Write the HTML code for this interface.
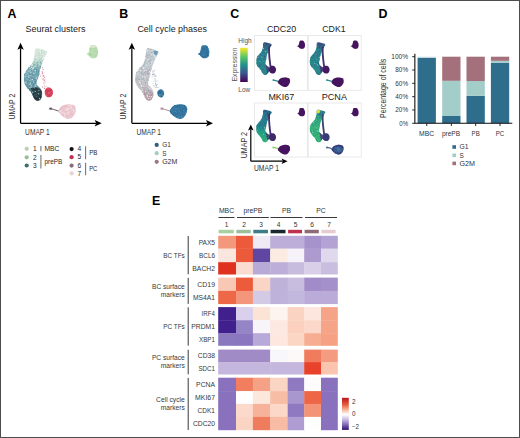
<!DOCTYPE html>
<html><head><meta charset="utf-8"><style>
html,body{margin:0;padding:0;background:#fff;}
body{width:520px;height:438px;overflow:hidden;font-family:"Liberation Sans",sans-serif;}
svg{display:block;}
</style></head><body>
<svg width="520" height="438" viewBox="0 0 520 438" font-family="'Liberation Sans', sans-serif"><text x="7.50" y="17.70" font-size="12.4" fill="#000" text-anchor="start" font-weight="bold">A</text>
<text x="119.20" y="17.70" font-size="12.4" fill="#000" text-anchor="start" font-weight="bold">B</text>
<text x="230.30" y="17.60" font-size="12.4" fill="#000" text-anchor="start" font-weight="bold">C</text>
<text x="378.50" y="17.80" font-size="12.4" fill="#000" text-anchor="start" font-weight="bold">D</text>
<text x="151.90" y="204.80" font-size="12.4" fill="#000" text-anchor="start" font-weight="bold">E</text>
<g transform="translate(0 0)"><defs><linearGradient id="gA" x1="0" y1="48" x2="0" y2="101" gradientUnits="userSpaceOnUse"><stop offset="0" stop-color="#dbe8de"/><stop offset="0.18" stop-color="#cde0d5"/><stop offset="0.3" stop-color="#a8cbc2"/><stop offset="0.42" stop-color="#76a8b1"/><stop offset="0.6" stop-color="#6a9daa"/><stop offset="0.72" stop-color="#6598a4"/><stop offset="0.8" stop-color="#537e88"/><stop offset="0.9" stop-color="#4a6a71"/><stop offset="1" stop-color="#3f5a60"/></linearGradient></defs><path d="M36.20 48.30 C38.23 47.68 45.30 50.02 46.80 51.30 C48.30 52.58 45.75 54.55 45.20 56.00 C44.65 57.45 44.12 58.50 43.50 60.00 C42.88 61.50 42.12 63.33 41.50 65.00 C40.88 66.67 40.18 68.42 39.80 70.00 C39.42 71.58 39.52 73.08 39.20 74.50 C38.88 75.92 38.33 77.25 37.90 78.50 C37.47 79.75 36.68 80.83 36.60 82.00 C36.52 83.17 36.80 84.47 37.40 85.50 C38.00 86.53 39.42 87.12 40.20 88.20 C40.98 89.28 41.83 90.62 42.10 92.00 C42.37 93.38 42.23 95.13 41.80 96.50 C41.37 97.87 40.38 99.55 39.50 100.20 C38.62 100.85 37.42 100.77 36.50 100.40 C35.58 100.03 34.75 99.07 34.00 98.00 C33.25 96.93 32.70 95.23 32.00 94.00 C31.30 92.77 30.70 91.73 29.80 90.60 C28.90 89.47 27.48 88.38 26.60 87.20 C25.72 86.02 24.95 85.03 24.50 83.50 C24.05 81.97 23.85 79.75 23.90 78.00 C23.95 76.25 24.22 74.50 24.80 73.00 C25.38 71.50 26.40 70.25 27.40 69.00 C28.40 67.75 29.83 66.83 30.80 65.50 C31.77 64.17 32.57 62.75 33.20 61.00 C33.83 59.25 34.10 57.12 34.60 55.00 C35.10 52.88 34.17 48.92 36.20 48.30Z" fill="url(#gA)"/><path d="M31.50 88.00 C32.03 87.08 33.83 87.00 35.00 87.00 C36.17 87.00 37.47 87.42 38.50 88.00 C39.53 88.58 40.62 89.42 41.20 90.50 C41.78 91.58 42.03 93.17 42.00 94.50 C41.97 95.83 41.58 97.50 41.00 98.50 C40.42 99.50 39.42 100.20 38.50 100.50 C37.58 100.80 36.38 100.88 35.50 100.30 C34.62 99.72 33.82 98.30 33.20 97.00 C32.58 95.70 32.08 94.00 31.80 92.50 C31.52 91.00 30.97 88.92 31.50 88.00Z" fill="#1c2e33" fill-opacity="0.72"/><path d="M47.60 87.60 C48.47 87.37 49.77 87.45 50.60 87.90 C51.43 88.35 52.22 89.35 52.60 90.30 C52.98 91.25 53.10 92.55 52.90 93.60 C52.70 94.65 52.12 95.98 51.40 96.60 C50.68 97.22 49.52 97.40 48.60 97.30 C47.68 97.20 46.55 96.78 45.90 96.00 C45.25 95.22 44.78 93.72 44.70 92.60 C44.62 91.48 44.92 90.13 45.40 89.30 C45.88 88.47 46.73 87.83 47.60 87.60Z" fill="#d4405a"/><path d="M61.50 106.20 C62.37 105.57 63.72 105.13 64.80 104.80 C65.88 104.47 66.83 104.23 68.00 104.20 C69.17 104.17 70.67 104.30 71.80 104.60 C72.93 104.90 74.13 105.27 74.80 106.00 C75.47 106.73 75.70 107.92 75.80 109.00 C75.90 110.08 75.73 111.37 75.40 112.50 C75.07 113.63 74.53 114.78 73.80 115.80 C73.07 116.82 72.05 118.10 71.00 118.60 C69.95 119.10 68.67 119.02 67.50 118.80 C66.33 118.58 65.08 117.93 64.00 117.30 C62.92 116.67 61.93 115.98 61.00 115.00 C60.07 114.02 58.63 112.47 58.40 111.40 C58.17 110.33 59.08 109.47 59.60 108.60 C60.12 107.73 60.63 106.83 61.50 106.20Z" fill="#ecc8d0"/><path d="M90.50 45.80 C91.03 45.38 92.12 45.30 93.00 45.30 C93.88 45.30 95.17 45.42 95.80 45.80 C96.43 46.18 96.47 46.90 96.80 47.60 C97.13 48.30 97.60 49.02 97.80 50.00 C98.00 50.98 98.10 52.42 98.00 53.50 C97.90 54.58 97.70 55.73 97.20 56.50 C96.70 57.27 95.87 57.82 95.00 58.10 C94.13 58.38 92.83 58.38 92.00 58.20 C91.17 58.02 90.58 57.50 90.00 57.00 C89.42 56.50 89.07 55.70 88.50 55.20 C87.93 54.70 86.58 54.43 86.60 54.00 C86.62 53.57 88.13 53.27 88.60 52.60 C89.07 51.93 89.20 50.80 89.40 50.00 C89.60 49.20 89.62 48.50 89.80 47.80 C89.98 47.10 89.97 46.22 90.50 45.80Z" fill="#b7dcae"/><path d="M50.2 108.6 L53.5 109.4 L58.5 111" stroke="#6b5c63" stroke-width="1.0" fill="none"/><ellipse cx="50.6" cy="108.7" rx="1.6" ry="1.1" fill="#6b5c63"/><path d="M42.2 71 Q43.6 79 44.8 87.5" stroke="#e0a0b0" stroke-width="0.8" fill="none" stroke-dasharray="0.9 0.9"/><circle cx="42.1" cy="79.1" r="0.5" fill="#c03a55" fill-opacity="0.8"/><circle cx="44.2" cy="80.5" r="0.5" fill="#f0c8d0" fill-opacity="0.8"/><circle cx="42.2" cy="71.6" r="0.5" fill="#f0c8d0" fill-opacity="0.8"/><circle cx="44.0" cy="79.2" r="0.5" fill="#f0c8d0" fill-opacity="0.8"/><circle cx="44.5" cy="86.8" r="0.5" fill="#f0c8d0" fill-opacity="0.8"/><circle cx="45.2" cy="82.1" r="0.5" fill="#d86a80" fill-opacity="0.8"/><circle cx="44.3" cy="88.1" r="0.5" fill="#f0c8d0" fill-opacity="0.8"/><circle cx="45.0" cy="88.1" r="0.5" fill="#f0c8d0" fill-opacity="0.8"/><circle cx="45.1" cy="79.8" r="0.5" fill="#eab0bc" fill-opacity="0.8"/><circle cx="41.4" cy="71.2" r="0.5" fill="#f0c8d0" fill-opacity="0.8"/><circle cx="45.4" cy="86.5" r="0.5" fill="#f0c8d0" fill-opacity="0.8"/><circle cx="43.7" cy="75.3" r="0.5" fill="#c03a55" fill-opacity="0.8"/><circle cx="43.9" cy="75.8" r="0.5" fill="#eab0bc" fill-opacity="0.8"/><circle cx="46.4" cy="86.6" r="0.5" fill="#eab0bc" fill-opacity="0.8"/><circle cx="44.0" cy="79.7" r="0.5" fill="#d86a80" fill-opacity="0.8"/><circle cx="42.4" cy="67.5" r="0.5" fill="#f0c8d0" fill-opacity="0.8"/><circle cx="43.1" cy="69.6" r="0.5" fill="#c03a55" fill-opacity="0.8"/><circle cx="43.2" cy="76.0" r="0.5" fill="#d86a80" fill-opacity="0.8"/><circle cx="42.7" cy="87.1" r="0.5" fill="#c03a55" fill-opacity="0.8"/><circle cx="42.5" cy="67.8" r="0.5" fill="#d86a80" fill-opacity="0.8"/><circle cx="42.4" cy="72.3" r="0.5" fill="#d86a80" fill-opacity="0.8"/><circle cx="42.8" cy="69.3" r="0.5" fill="#f0c8d0" fill-opacity="0.8"/><circle cx="42.9" cy="86.9" r="0.5" fill="#f0c8d0" fill-opacity="0.8"/><circle cx="44.6" cy="80.3" r="0.5" fill="#d86a80" fill-opacity="0.8"/><circle cx="44.4" cy="88.6" r="0.5" fill="#c03a55" fill-opacity="0.8"/><circle cx="43.3" cy="83.3" r="0.5" fill="#eab0bc" fill-opacity="0.8"/><circle cx="42.2" cy="73.3" r="0.5" fill="#c03a55" fill-opacity="0.8"/><circle cx="40.7" cy="76.0" r="0.5" fill="#c03a55" fill-opacity="0.8"/><circle cx="44.5" cy="77.2" r="0.5" fill="#c03a55" fill-opacity="0.8"/><circle cx="44.4" cy="72.7" r="0.5" fill="#f0c8d0" fill-opacity="0.8"/><circle cx="39.4" cy="98.5" r="0.5" fill="#15262b" fill-opacity="0.85"/><circle cx="29.7" cy="72.1" r="0.5" fill="#ffffff" fill-opacity="0.85"/><circle cx="37.5" cy="65.0" r="0.5" fill="#45869a" fill-opacity="0.85"/><circle cx="32.2" cy="64.6" r="0.5" fill="#ffffff" fill-opacity="0.85"/><circle cx="32.4" cy="79.3" r="0.5" fill="#45869a" fill-opacity="0.85"/><circle cx="30.8" cy="68.0" r="0.5" fill="#45869a" fill-opacity="0.85"/><circle cx="36.9" cy="86.6" r="0.5" fill="#ffffff" fill-opacity="0.85"/><circle cx="42.3" cy="60.7" r="0.5" fill="#b8d3c6" fill-opacity="0.85"/><circle cx="28.2" cy="71.0" r="0.5" fill="#ffffff" fill-opacity="0.85"/><circle cx="39.9" cy="53.6" r="0.5" fill="#b8d3c6" fill-opacity="0.85"/><circle cx="31.3" cy="65.7" r="0.5" fill="#ffffff" fill-opacity="0.85"/><circle cx="43.5" cy="57.1" r="0.5" fill="#ffffff" fill-opacity="0.85"/><circle cx="31.6" cy="82.2" r="0.5" fill="#45869a" fill-opacity="0.85"/><circle cx="36.0" cy="58.2" r="0.5" fill="#eaf2ec" fill-opacity="0.85"/><circle cx="42.1" cy="62.4" r="0.5" fill="#ffffff" fill-opacity="0.85"/><circle cx="31.8" cy="70.0" r="0.5" fill="#ffffff" fill-opacity="0.85"/><circle cx="33.5" cy="69.6" r="0.5" fill="#45869a" fill-opacity="0.85"/><circle cx="45.0" cy="56.4" r="0.5" fill="#eaf2ec" fill-opacity="0.85"/><circle cx="41.0" cy="91.9" r="0.5" fill="#15262b" fill-opacity="0.85"/><circle cx="30.5" cy="66.1" r="0.5" fill="#45869a" fill-opacity="0.85"/><circle cx="37.4" cy="63.3" r="0.5" fill="#9cc8d2" fill-opacity="0.85"/><circle cx="42.5" cy="50.6" r="0.5" fill="#ffffff" fill-opacity="0.85"/><circle cx="37.9" cy="66.1" r="0.5" fill="#9cc8d2" fill-opacity="0.85"/><circle cx="34.8" cy="89.1" r="0.5" fill="#15262b" fill-opacity="0.85"/><circle cx="36.1" cy="90.9" r="0.5" fill="#15262b" fill-opacity="0.85"/><circle cx="38.3" cy="93.2" r="0.5" fill="#ffffff" fill-opacity="0.85"/><circle cx="30.1" cy="75.8" r="0.5" fill="#ffffff" fill-opacity="0.85"/><circle cx="33.6" cy="72.9" r="0.5" fill="#9cc8d2" fill-opacity="0.85"/><circle cx="25.9" cy="74.5" r="0.5" fill="#ffffff" fill-opacity="0.85"/><circle cx="31.9" cy="82.0" r="0.5" fill="#45869a" fill-opacity="0.85"/><circle cx="37.3" cy="67.1" r="0.5" fill="#45869a" fill-opacity="0.85"/><circle cx="26.7" cy="77.2" r="0.5" fill="#45869a" fill-opacity="0.85"/><circle cx="40.3" cy="68.1" r="0.5" fill="#45869a" fill-opacity="0.85"/><circle cx="32.4" cy="79.8" r="0.5" fill="#ffffff" fill-opacity="0.85"/><circle cx="33.8" cy="67.7" r="0.5" fill="#ffffff" fill-opacity="0.85"/><circle cx="35.3" cy="84.9" r="0.5" fill="#ffffff" fill-opacity="0.85"/><circle cx="33.5" cy="84.5" r="0.5" fill="#45869a" fill-opacity="0.85"/><circle cx="34.5" cy="61.1" r="0.5" fill="#b8d3c6" fill-opacity="0.85"/><circle cx="36.2" cy="84.5" r="0.5" fill="#ffffff" fill-opacity="0.85"/><circle cx="33.7" cy="94.1" r="0.5" fill="#15262b" fill-opacity="0.85"/><circle cx="29.9" cy="72.5" r="0.5" fill="#45869a" fill-opacity="0.85"/><circle cx="39.1" cy="94.5" r="0.5" fill="#15262b" fill-opacity="0.85"/><circle cx="26.3" cy="78.9" r="0.5" fill="#9cc8d2" fill-opacity="0.85"/><circle cx="41.6" cy="50.6" r="0.5" fill="#b8d3c6" fill-opacity="0.85"/><circle cx="44.1" cy="57.6" r="0.5" fill="#ffffff" fill-opacity="0.85"/><circle cx="39.3" cy="91.9" r="0.5" fill="#15262b" fill-opacity="0.85"/><circle cx="42.2" cy="50.2" r="0.5" fill="#b8d3c6" fill-opacity="0.85"/><circle cx="40.3" cy="53.9" r="0.5" fill="#eaf2ec" fill-opacity="0.85"/><circle cx="41.1" cy="97.0" r="0.5" fill="#15262b" fill-opacity="0.85"/><circle cx="36.8" cy="91.4" r="0.5" fill="#15262b" fill-opacity="0.85"/><circle cx="29.6" cy="80.4" r="0.5" fill="#9cc8d2" fill-opacity="0.85"/><circle cx="32.3" cy="69.0" r="0.5" fill="#ffffff" fill-opacity="0.85"/><circle cx="31.9" cy="70.1" r="0.5" fill="#45869a" fill-opacity="0.85"/><circle cx="25.8" cy="74.4" r="0.5" fill="#9cc8d2" fill-opacity="0.85"/><circle cx="41.0" cy="56.7" r="0.5" fill="#ffffff" fill-opacity="0.85"/><circle cx="35.0" cy="81.8" r="0.5" fill="#45869a" fill-opacity="0.85"/><circle cx="44.5" cy="56.1" r="0.5" fill="#ffffff" fill-opacity="0.85"/><circle cx="34.0" cy="85.8" r="0.5" fill="#45869a" fill-opacity="0.85"/><circle cx="28.5" cy="78.8" r="0.5" fill="#9cc8d2" fill-opacity="0.85"/><circle cx="39.7" cy="98.0" r="0.5" fill="#15262b" fill-opacity="0.85"/><circle cx="30.7" cy="85.0" r="0.5" fill="#9cc8d2" fill-opacity="0.85"/><circle cx="33.4" cy="92.8" r="0.5" fill="#15262b" fill-opacity="0.85"/><circle cx="37.3" cy="62.2" r="0.5" fill="#45869a" fill-opacity="0.85"/><circle cx="34.9" cy="68.2" r="0.5" fill="#45869a" fill-opacity="0.85"/><circle cx="31.3" cy="88.6" r="0.5" fill="#15262b" fill-opacity="0.85"/><circle cx="34.9" cy="79.5" r="0.5" fill="#45869a" fill-opacity="0.85"/><circle cx="34.6" cy="91.8" r="0.5" fill="#6a9aa4" fill-opacity="0.85"/><circle cx="34.9" cy="85.8" r="0.5" fill="#9cc8d2" fill-opacity="0.85"/><circle cx="34.6" cy="60.3" r="0.5" fill="#b8d3c6" fill-opacity="0.85"/><circle cx="29.3" cy="85.7" r="0.5" fill="#45869a" fill-opacity="0.85"/><circle cx="39.4" cy="98.2" r="0.5" fill="#ffffff" fill-opacity="0.85"/><circle cx="28.2" cy="85.0" r="0.5" fill="#9cc8d2" fill-opacity="0.85"/><circle cx="31.1" cy="70.4" r="0.5" fill="#45869a" fill-opacity="0.85"/><circle cx="40.6" cy="52.8" r="0.5" fill="#eaf2ec" fill-opacity="0.85"/><circle cx="30.6" cy="66.9" r="0.5" fill="#9cc8d2" fill-opacity="0.85"/><circle cx="33.9" cy="73.6" r="0.5" fill="#ffffff" fill-opacity="0.85"/><circle cx="28.7" cy="78.8" r="0.5" fill="#45869a" fill-opacity="0.85"/><circle cx="36.4" cy="54.5" r="0.5" fill="#b8d3c6" fill-opacity="0.85"/><circle cx="30.2" cy="83.0" r="0.5" fill="#ffffff" fill-opacity="0.85"/><circle cx="44.7" cy="53.3" r="0.5" fill="#b8d3c6" fill-opacity="0.85"/><circle cx="30.7" cy="83.5" r="0.5" fill="#ffffff" fill-opacity="0.85"/><circle cx="38.9" cy="90.3" r="0.5" fill="#ffffff" fill-opacity="0.85"/><circle cx="30.0" cy="87.6" r="0.5" fill="#ffffff" fill-opacity="0.85"/><circle cx="36.2" cy="54.2" r="0.5" fill="#eaf2ec" fill-opacity="0.85"/><circle cx="35.2" cy="66.6" r="0.5" fill="#ffffff" fill-opacity="0.85"/><circle cx="36.9" cy="57.8" r="0.5" fill="#ffffff" fill-opacity="0.85"/><circle cx="38.9" cy="54.7" r="0.5" fill="#b8d3c6" fill-opacity="0.85"/><circle cx="45.2" cy="55.7" r="0.5" fill="#eaf2ec" fill-opacity="0.85"/><circle cx="31.5" cy="85.8" r="0.5" fill="#ffffff" fill-opacity="0.85"/><circle cx="37.6" cy="77.2" r="0.5" fill="#45869a" fill-opacity="0.85"/><circle cx="38.7" cy="72.1" r="0.5" fill="#45869a" fill-opacity="0.85"/><circle cx="30.0" cy="68.3" r="0.5" fill="#9cc8d2" fill-opacity="0.85"/><circle cx="43.9" cy="50.5" r="0.5" fill="#eaf2ec" fill-opacity="0.85"/><circle cx="35.5" cy="61.2" r="0.5" fill="#eaf2ec" fill-opacity="0.85"/><circle cx="31.5" cy="69.3" r="0.5" fill="#ffffff" fill-opacity="0.85"/><circle cx="36.3" cy="88.5" r="0.5" fill="#15262b" fill-opacity="0.85"/><circle cx="32.0" cy="92.4" r="0.5" fill="#15262b" fill-opacity="0.85"/><circle cx="33.4" cy="87.0" r="0.5" fill="#9cc8d2" fill-opacity="0.85"/><circle cx="37.5" cy="55.9" r="0.5" fill="#eaf2ec" fill-opacity="0.85"/><circle cx="36.0" cy="77.9" r="0.5" fill="#ffffff" fill-opacity="0.85"/><circle cx="36.6" cy="78.7" r="0.5" fill="#ffffff" fill-opacity="0.85"/><circle cx="38.4" cy="99.2" r="0.5" fill="#15262b" fill-opacity="0.85"/><circle cx="39.6" cy="63.9" r="0.5" fill="#ffffff" fill-opacity="0.85"/><circle cx="37.7" cy="86.2" r="0.5" fill="#45869a" fill-opacity="0.85"/><circle cx="39.1" cy="73.9" r="0.5" fill="#45869a" fill-opacity="0.85"/><circle cx="35.9" cy="72.3" r="0.5" fill="#ffffff" fill-opacity="0.85"/><circle cx="28.3" cy="75.9" r="0.5" fill="#ffffff" fill-opacity="0.85"/><circle cx="24.7" cy="74.4" r="0.5" fill="#45869a" fill-opacity="0.85"/><circle cx="38.7" cy="71.4" r="0.5" fill="#45869a" fill-opacity="0.85"/><circle cx="36.9" cy="98.3" r="0.5" fill="#15262b" fill-opacity="0.85"/><circle cx="44.3" cy="55.4" r="0.5" fill="#eaf2ec" fill-opacity="0.85"/><circle cx="36.2" cy="96.7" r="0.5" fill="#15262b" fill-opacity="0.85"/><circle cx="39.8" cy="55.3" r="0.5" fill="#b8d3c6" fill-opacity="0.85"/><circle cx="40.8" cy="66.2" r="0.5" fill="#45869a" fill-opacity="0.85"/><circle cx="27.6" cy="74.2" r="0.5" fill="#45869a" fill-opacity="0.85"/><circle cx="33.6" cy="82.1" r="0.5" fill="#ffffff" fill-opacity="0.85"/><circle cx="30.9" cy="72.5" r="0.5" fill="#9cc8d2" fill-opacity="0.85"/><circle cx="40.4" cy="67.4" r="0.5" fill="#9cc8d2" fill-opacity="0.85"/><circle cx="32.4" cy="75.9" r="0.5" fill="#9cc8d2" fill-opacity="0.85"/><circle cx="37.6" cy="60.0" r="0.5" fill="#eaf2ec" fill-opacity="0.85"/><circle cx="41.8" cy="55.8" r="0.5" fill="#b8d3c6" fill-opacity="0.85"/><circle cx="34.4" cy="58.5" r="0.5" fill="#b8d3c6" fill-opacity="0.85"/><circle cx="27.8" cy="73.8" r="0.5" fill="#ffffff" fill-opacity="0.85"/><circle cx="34.2" cy="69.5" r="0.5" fill="#45869a" fill-opacity="0.85"/><circle cx="40.0" cy="51.0" r="0.5" fill="#ffffff" fill-opacity="0.85"/><circle cx="33.1" cy="69.0" r="0.5" fill="#ffffff" fill-opacity="0.85"/><circle cx="34.8" cy="56.9" r="0.5" fill="#ffffff" fill-opacity="0.85"/><circle cx="38.2" cy="66.3" r="0.5" fill="#ffffff" fill-opacity="0.85"/><circle cx="40.6" cy="62.6" r="0.5" fill="#45869a" fill-opacity="0.85"/><circle cx="39.5" cy="98.8" r="0.5" fill="#ffffff" fill-opacity="0.85"/><circle cx="25.1" cy="82.4" r="0.5" fill="#ffffff" fill-opacity="0.85"/><circle cx="30.9" cy="79.9" r="0.5" fill="#ffffff" fill-opacity="0.85"/><circle cx="45.6" cy="52.9" r="0.5" fill="#ffffff" fill-opacity="0.85"/><circle cx="31.6" cy="83.7" r="0.5" fill="#45869a" fill-opacity="0.85"/><circle cx="33.4" cy="60.3" r="0.5" fill="#ffffff" fill-opacity="0.85"/><circle cx="40.2" cy="68.5" r="0.5" fill="#9cc8d2" fill-opacity="0.85"/><circle cx="35.1" cy="56.3" r="0.5" fill="#b8d3c6" fill-opacity="0.85"/><circle cx="40.2" cy="49.5" r="0.5" fill="#ffffff" fill-opacity="0.85"/><circle cx="34.6" cy="87.8" r="0.5" fill="#ffffff" fill-opacity="0.85"/><circle cx="39.4" cy="53.4" r="0.5" fill="#b8d3c6" fill-opacity="0.85"/><circle cx="38.6" cy="94.1" r="0.5" fill="#15262b" fill-opacity="0.85"/><circle cx="31.5" cy="67.6" r="0.5" fill="#ffffff" fill-opacity="0.85"/><circle cx="45.8" cy="53.8" r="0.5" fill="#eaf2ec" fill-opacity="0.85"/><circle cx="36.9" cy="54.0" r="0.5" fill="#eaf2ec" fill-opacity="0.85"/><circle cx="25.8" cy="82.1" r="0.5" fill="#45869a" fill-opacity="0.85"/><circle cx="27.4" cy="81.9" r="0.5" fill="#45869a" fill-opacity="0.85"/><circle cx="37.3" cy="48.9" r="0.5" fill="#ffffff" fill-opacity="0.85"/><circle cx="28.9" cy="77.6" r="0.5" fill="#ffffff" fill-opacity="0.85"/><circle cx="33.5" cy="89.0" r="0.5" fill="#15262b" fill-opacity="0.85"/><circle cx="37.7" cy="89.4" r="0.5" fill="#15262b" fill-opacity="0.85"/><circle cx="36.2" cy="58.1" r="0.5" fill="#eaf2ec" fill-opacity="0.85"/><circle cx="42.8" cy="54.2" r="0.5" fill="#ffffff" fill-opacity="0.85"/><circle cx="25.9" cy="72.5" r="0.5" fill="#ffffff" fill-opacity="0.85"/><circle cx="41.3" cy="93.7" r="0.5" fill="#6a9aa4" fill-opacity="0.85"/><circle cx="31.8" cy="79.7" r="0.5" fill="#45869a" fill-opacity="0.85"/><circle cx="42.6" cy="59.0" r="0.5" fill="#ffffff" fill-opacity="0.85"/><circle cx="36.2" cy="72.5" r="0.5" fill="#45869a" fill-opacity="0.85"/><circle cx="40.6" cy="52.3" r="0.5" fill="#ffffff" fill-opacity="0.85"/><circle cx="31.8" cy="73.5" r="0.5" fill="#45869a" fill-opacity="0.85"/><circle cx="25.5" cy="77.1" r="0.5" fill="#9cc8d2" fill-opacity="0.85"/><circle cx="37.9" cy="96.8" r="0.5" fill="#6a9aa4" fill-opacity="0.85"/><circle cx="36.2" cy="70.1" r="0.5" fill="#45869a" fill-opacity="0.85"/><circle cx="40.4" cy="63.6" r="0.5" fill="#ffffff" fill-opacity="0.85"/><circle cx="35.8" cy="81.6" r="0.5" fill="#45869a" fill-opacity="0.85"/><circle cx="30.2" cy="70.8" r="0.5" fill="#ffffff" fill-opacity="0.85"/><circle cx="31.8" cy="87.0" r="0.5" fill="#9cc8d2" fill-opacity="0.85"/><circle cx="41.0" cy="63.3" r="0.5" fill="#45869a" fill-opacity="0.85"/><circle cx="27.4" cy="88.0" r="0.5" fill="#6a9aa4" fill-opacity="0.85"/><circle cx="39.9" cy="99.2" r="0.5" fill="#15262b" fill-opacity="0.85"/><circle cx="31.0" cy="72.4" r="0.5" fill="#ffffff" fill-opacity="0.85"/><circle cx="35.9" cy="76.5" r="0.5" fill="#9cc8d2" fill-opacity="0.85"/><circle cx="32.1" cy="92.7" r="0.5" fill="#6a9aa4" fill-opacity="0.85"/><circle cx="30.4" cy="72.4" r="0.5" fill="#9cc8d2" fill-opacity="0.85"/><circle cx="26.9" cy="76.0" r="0.5" fill="#9cc8d2" fill-opacity="0.85"/><circle cx="36.2" cy="56.9" r="0.5" fill="#eaf2ec" fill-opacity="0.85"/><circle cx="33.8" cy="65.9" r="0.5" fill="#9cc8d2" fill-opacity="0.85"/><circle cx="25.1" cy="76.7" r="0.5" fill="#ffffff" fill-opacity="0.85"/><circle cx="29.6" cy="90.1" r="0.5" fill="#15262b" fill-opacity="0.85"/><circle cx="33.5" cy="61.9" r="0.5" fill="#b8d3c6" fill-opacity="0.85"/><circle cx="35.6" cy="91.6" r="0.5" fill="#ffffff" fill-opacity="0.85"/><circle cx="36.5" cy="62.9" r="0.5" fill="#ffffff" fill-opacity="0.85"/><circle cx="38.6" cy="95.0" r="0.5" fill="#15262b" fill-opacity="0.85"/><circle cx="39.1" cy="96.7" r="0.5" fill="#15262b" fill-opacity="0.85"/><circle cx="33.4" cy="75.3" r="0.5" fill="#45869a" fill-opacity="0.85"/><circle cx="39.6" cy="100.0" r="0.5" fill="#6a9aa4" fill-opacity="0.85"/><circle cx="36.4" cy="69.6" r="0.5" fill="#45869a" fill-opacity="0.85"/><circle cx="32.0" cy="72.0" r="0.5" fill="#9cc8d2" fill-opacity="0.85"/><circle cx="31.1" cy="75.5" r="0.5" fill="#9cc8d2" fill-opacity="0.85"/><circle cx="33.3" cy="92.6" r="0.5" fill="#6a9aa4" fill-opacity="0.85"/><circle cx="37.9" cy="49.9" r="0.5" fill="#b8d3c6" fill-opacity="0.85"/><circle cx="37.1" cy="76.9" r="0.5" fill="#ffffff" fill-opacity="0.85"/><circle cx="35.1" cy="62.9" r="0.5" fill="#ffffff" fill-opacity="0.85"/><circle cx="40.1" cy="95.8" r="0.5" fill="#15262b" fill-opacity="0.85"/><circle cx="26.2" cy="83.1" r="0.5" fill="#ffffff" fill-opacity="0.85"/><circle cx="32.4" cy="75.1" r="0.5" fill="#45869a" fill-opacity="0.85"/><circle cx="38.6" cy="58.5" r="0.5" fill="#eaf2ec" fill-opacity="0.85"/><circle cx="32.7" cy="91.4" r="0.5" fill="#6a9aa4" fill-opacity="0.85"/><circle cx="31.2" cy="68.8" r="0.5" fill="#45869a" fill-opacity="0.85"/><circle cx="36.0" cy="87.0" r="0.5" fill="#45869a" fill-opacity="0.85"/><circle cx="35.0" cy="62.3" r="0.5" fill="#9cc8d2" fill-opacity="0.85"/><circle cx="36.4" cy="50.8" r="0.5" fill="#ffffff" fill-opacity="0.85"/><circle cx="41.3" cy="57.5" r="0.5" fill="#b8d3c6" fill-opacity="0.85"/><circle cx="43.9" cy="50.8" r="0.5" fill="#eaf2ec" fill-opacity="0.85"/><circle cx="35.0" cy="84.9" r="0.5" fill="#9cc8d2" fill-opacity="0.85"/><circle cx="31.8" cy="87.3" r="0.5" fill="#9cc8d2" fill-opacity="0.85"/><circle cx="34.5" cy="76.3" r="0.5" fill="#45869a" fill-opacity="0.85"/><circle cx="34.0" cy="76.1" r="0.5" fill="#ffffff" fill-opacity="0.85"/><circle cx="43.0" cy="58.7" r="0.5" fill="#eaf2ec" fill-opacity="0.85"/><circle cx="37.5" cy="96.9" r="0.5" fill="#15262b" fill-opacity="0.85"/><circle cx="43.3" cy="57.6" r="0.5" fill="#eaf2ec" fill-opacity="0.85"/><circle cx="43.9" cy="54.3" r="0.5" fill="#eaf2ec" fill-opacity="0.85"/><circle cx="41.4" cy="53.1" r="0.5" fill="#b8d3c6" fill-opacity="0.85"/><circle cx="36.3" cy="71.3" r="0.5" fill="#45869a" fill-opacity="0.85"/><circle cx="27.3" cy="79.6" r="0.5" fill="#9cc8d2" fill-opacity="0.85"/><circle cx="31.3" cy="74.7" r="0.5" fill="#9cc8d2" fill-opacity="0.85"/><circle cx="32.5" cy="64.9" r="0.5" fill="#ffffff" fill-opacity="0.85"/><circle cx="32.1" cy="79.6" r="0.5" fill="#ffffff" fill-opacity="0.85"/><circle cx="35.4" cy="86.4" r="0.5" fill="#ffffff" fill-opacity="0.85"/><circle cx="31.7" cy="81.9" r="0.5" fill="#9cc8d2" fill-opacity="0.85"/><circle cx="34.3" cy="73.2" r="0.5" fill="#9cc8d2" fill-opacity="0.85"/><circle cx="36.1" cy="93.9" r="0.5" fill="#15262b" fill-opacity="0.85"/><circle cx="34.0" cy="80.5" r="0.5" fill="#9cc8d2" fill-opacity="0.85"/><circle cx="36.5" cy="94.3" r="0.5" fill="#6a9aa4" fill-opacity="0.85"/><circle cx="33.8" cy="93.5" r="0.5" fill="#15262b" fill-opacity="0.85"/><circle cx="40.2" cy="67.1" r="0.5" fill="#45869a" fill-opacity="0.85"/><circle cx="30.8" cy="74.6" r="0.5" fill="#45869a" fill-opacity="0.85"/><circle cx="33.0" cy="67.7" r="0.5" fill="#ffffff" fill-opacity="0.85"/><circle cx="38.8" cy="93.9" r="0.5" fill="#ffffff" fill-opacity="0.85"/><circle cx="37.3" cy="55.9" r="0.5" fill="#eaf2ec" fill-opacity="0.85"/><circle cx="28.9" cy="67.6" r="0.5" fill="#45869a" fill-opacity="0.85"/><circle cx="38.0" cy="55.6" r="0.5" fill="#b8d3c6" fill-opacity="0.85"/><circle cx="36.2" cy="96.3" r="0.5" fill="#6a9aa4" fill-opacity="0.85"/><circle cx="36.1" cy="86.7" r="0.5" fill="#45869a" fill-opacity="0.85"/><circle cx="39.5" cy="54.6" r="0.5" fill="#eaf2ec" fill-opacity="0.85"/><circle cx="34.8" cy="94.7" r="0.5" fill="#6a9aa4" fill-opacity="0.85"/><circle cx="43.0" cy="57.9" r="0.5" fill="#ffffff" fill-opacity="0.85"/><circle cx="30.2" cy="68.6" r="0.5" fill="#ffffff" fill-opacity="0.85"/><circle cx="35.6" cy="70.8" r="0.5" fill="#ffffff" fill-opacity="0.85"/><circle cx="34.9" cy="70.3" r="0.5" fill="#ffffff" fill-opacity="0.85"/><circle cx="31.5" cy="70.1" r="0.5" fill="#45869a" fill-opacity="0.85"/><circle cx="37.2" cy="94.4" r="0.5" fill="#15262b" fill-opacity="0.85"/><circle cx="28.5" cy="68.7" r="0.5" fill="#45869a" fill-opacity="0.85"/><circle cx="25.9" cy="81.7" r="0.5" fill="#ffffff" fill-opacity="0.85"/><circle cx="35.9" cy="78.2" r="0.5" fill="#9cc8d2" fill-opacity="0.85"/><circle cx="34.6" cy="93.0" r="0.5" fill="#15262b" fill-opacity="0.85"/><circle cx="36.2" cy="63.1" r="0.5" fill="#45869a" fill-opacity="0.85"/><circle cx="36.0" cy="58.8" r="0.5" fill="#b8d3c6" fill-opacity="0.85"/><circle cx="26.9" cy="76.0" r="0.5" fill="#9cc8d2" fill-opacity="0.85"/><circle cx="38.1" cy="66.8" r="0.5" fill="#45869a" fill-opacity="0.85"/><circle cx="41.5" cy="95.7" r="0.5" fill="#6a9aa4" fill-opacity="0.85"/><circle cx="33.8" cy="64.6" r="0.5" fill="#45869a" fill-opacity="0.85"/><circle cx="45.4" cy="54.5" r="0.5" fill="#b8d3c6" fill-opacity="0.85"/><circle cx="24.8" cy="74.3" r="0.5" fill="#45869a" fill-opacity="0.85"/><circle cx="32.7" cy="92.7" r="0.5" fill="#ffffff" fill-opacity="0.85"/><circle cx="43.0" cy="51.3" r="0.5" fill="#b8d3c6" fill-opacity="0.85"/><circle cx="33.1" cy="68.6" r="0.5" fill="#ffffff" fill-opacity="0.85"/><circle cx="29.9" cy="84.5" r="0.5" fill="#ffffff" fill-opacity="0.85"/><circle cx="28.9" cy="71.3" r="0.5" fill="#9cc8d2" fill-opacity="0.85"/><circle cx="36.8" cy="61.1" r="0.5" fill="#ffffff" fill-opacity="0.85"/><circle cx="39.9" cy="59.5" r="0.5" fill="#b8d3c6" fill-opacity="0.85"/><circle cx="50.2" cy="93.5" r="0.5" fill="#c8304c" fill-opacity="0.85"/><circle cx="50.3" cy="92.7" r="0.5" fill="#e86a80" fill-opacity="0.85"/><circle cx="49.6" cy="93.7" r="0.5" fill="#e86a80" fill-opacity="0.85"/><circle cx="47.8" cy="88.4" r="0.5" fill="#e86a80" fill-opacity="0.85"/><circle cx="48.7" cy="93.2" r="0.5" fill="#e86a80" fill-opacity="0.85"/><circle cx="49.0" cy="91.7" r="0.5" fill="#e86a80" fill-opacity="0.85"/><circle cx="46.5" cy="95.5" r="0.5" fill="#e86a80" fill-opacity="0.85"/><circle cx="48.7" cy="89.3" r="0.5" fill="#e86a80" fill-opacity="0.85"/><circle cx="47.5" cy="94.7" r="0.5" fill="#e86a80" fill-opacity="0.85"/><circle cx="45.6" cy="92.7" r="0.5" fill="#e86a80" fill-opacity="0.85"/><circle cx="48.6" cy="92.8" r="0.5" fill="#e86a80" fill-opacity="0.85"/><circle cx="47.8" cy="88.0" r="0.5" fill="#e86a80" fill-opacity="0.85"/><circle cx="51.5" cy="89.6" r="0.5" fill="#c8304c" fill-opacity="0.85"/><circle cx="49.6" cy="93.3" r="0.5" fill="#e86a80" fill-opacity="0.85"/><circle cx="51.6" cy="94.9" r="0.5" fill="#e86a80" fill-opacity="0.85"/><circle cx="52.3" cy="91.7" r="0.5" fill="#e86a80" fill-opacity="0.85"/><circle cx="48.2" cy="91.2" r="0.5" fill="#c8304c" fill-opacity="0.85"/><circle cx="46.7" cy="94.4" r="0.5" fill="#e86a80" fill-opacity="0.85"/><circle cx="50.5" cy="90.7" r="0.5" fill="#c8304c" fill-opacity="0.85"/><circle cx="47.3" cy="94.6" r="0.5" fill="#c8304c" fill-opacity="0.85"/><circle cx="49.1" cy="92.1" r="0.5" fill="#e86a80" fill-opacity="0.85"/><circle cx="49.2" cy="91.1" r="0.5" fill="#c8304c" fill-opacity="0.85"/><circle cx="49.7" cy="94.4" r="0.5" fill="#c8304c" fill-opacity="0.85"/><circle cx="48.8" cy="89.2" r="0.5" fill="#c8304c" fill-opacity="0.85"/><circle cx="49.2" cy="88.7" r="0.5" fill="#e86a80" fill-opacity="0.85"/><circle cx="73.5" cy="111.7" r="0.5" fill="#ffffff" fill-opacity="0.85"/><circle cx="63.2" cy="111.2" r="0.5" fill="#f4dde2" fill-opacity="0.85"/><circle cx="62.4" cy="108.0" r="0.5" fill="#dca8b4" fill-opacity="0.85"/><circle cx="74.9" cy="111.2" r="0.5" fill="#ffffff" fill-opacity="0.85"/><circle cx="61.0" cy="109.6" r="0.5" fill="#dca8b4" fill-opacity="0.85"/><circle cx="63.0" cy="115.6" r="0.5" fill="#dca8b4" fill-opacity="0.85"/><circle cx="70.0" cy="107.8" r="0.5" fill="#f4dde2" fill-opacity="0.85"/><circle cx="72.2" cy="114.9" r="0.5" fill="#e0b0bc" fill-opacity="0.85"/><circle cx="71.5" cy="107.5" r="0.5" fill="#ffffff" fill-opacity="0.85"/><circle cx="64.2" cy="105.9" r="0.5" fill="#dca8b4" fill-opacity="0.85"/><circle cx="61.3" cy="113.9" r="0.5" fill="#f4dde2" fill-opacity="0.85"/><circle cx="74.1" cy="110.6" r="0.5" fill="#ffffff" fill-opacity="0.85"/><circle cx="67.2" cy="114.2" r="0.5" fill="#ffffff" fill-opacity="0.85"/><circle cx="75.4" cy="110.5" r="0.5" fill="#f4dde2" fill-opacity="0.85"/><circle cx="67.9" cy="112.8" r="0.5" fill="#ffffff" fill-opacity="0.85"/><circle cx="72.2" cy="106.1" r="0.5" fill="#dca8b4" fill-opacity="0.85"/><circle cx="73.2" cy="114.8" r="0.5" fill="#f4dde2" fill-opacity="0.85"/><circle cx="62.9" cy="113.4" r="0.5" fill="#f4dde2" fill-opacity="0.85"/><circle cx="61.9" cy="106.5" r="0.5" fill="#e0b0bc" fill-opacity="0.85"/><circle cx="66.8" cy="115.0" r="0.5" fill="#dca8b4" fill-opacity="0.85"/><circle cx="60.4" cy="109.1" r="0.5" fill="#dca8b4" fill-opacity="0.85"/><circle cx="69.3" cy="111.8" r="0.5" fill="#ffffff" fill-opacity="0.85"/><circle cx="68.0" cy="113.9" r="0.5" fill="#ffffff" fill-opacity="0.85"/><circle cx="63.0" cy="114.4" r="0.5" fill="#e0b0bc" fill-opacity="0.85"/><circle cx="64.3" cy="114.8" r="0.5" fill="#f4dde2" fill-opacity="0.85"/><circle cx="65.2" cy="116.0" r="0.5" fill="#ffffff" fill-opacity="0.85"/><circle cx="69.3" cy="110.6" r="0.5" fill="#dca8b4" fill-opacity="0.85"/><circle cx="72.3" cy="109.2" r="0.5" fill="#dca8b4" fill-opacity="0.85"/><circle cx="61.1" cy="109.9" r="0.5" fill="#ffffff" fill-opacity="0.85"/><circle cx="63.9" cy="112.6" r="0.5" fill="#dca8b4" fill-opacity="0.85"/><circle cx="61.8" cy="112.5" r="0.5" fill="#f4dde2" fill-opacity="0.85"/><circle cx="69.5" cy="118.6" r="0.5" fill="#ffffff" fill-opacity="0.85"/><circle cx="69.9" cy="114.9" r="0.5" fill="#ffffff" fill-opacity="0.85"/><circle cx="69.5" cy="115.9" r="0.5" fill="#dca8b4" fill-opacity="0.85"/><circle cx="72.2" cy="111.5" r="0.5" fill="#e0b0bc" fill-opacity="0.85"/><circle cx="74.7" cy="106.4" r="0.5" fill="#dca8b4" fill-opacity="0.85"/><circle cx="63.8" cy="111.8" r="0.5" fill="#dca8b4" fill-opacity="0.85"/><circle cx="60.5" cy="111.5" r="0.5" fill="#ffffff" fill-opacity="0.85"/><circle cx="72.4" cy="115.0" r="0.5" fill="#ffffff" fill-opacity="0.85"/><circle cx="69.2" cy="105.0" r="0.5" fill="#ffffff" fill-opacity="0.85"/><circle cx="70.1" cy="108.6" r="0.5" fill="#ffffff" fill-opacity="0.85"/><circle cx="67.0" cy="115.6" r="0.5" fill="#dca8b4" fill-opacity="0.85"/><circle cx="63.8" cy="112.4" r="0.5" fill="#ffffff" fill-opacity="0.85"/><circle cx="67.6" cy="115.4" r="0.5" fill="#dca8b4" fill-opacity="0.85"/><circle cx="69.4" cy="105.4" r="0.5" fill="#f4dde2" fill-opacity="0.85"/><circle cx="67.3" cy="118.2" r="0.5" fill="#e0b0bc" fill-opacity="0.85"/><circle cx="67.0" cy="109.5" r="0.5" fill="#ffffff" fill-opacity="0.85"/><circle cx="74.5" cy="110.4" r="0.5" fill="#f4dde2" fill-opacity="0.85"/><circle cx="68.2" cy="109.9" r="0.5" fill="#ffffff" fill-opacity="0.85"/><circle cx="64.0" cy="111.2" r="0.5" fill="#f4dde2" fill-opacity="0.85"/><circle cx="72.1" cy="115.1" r="0.5" fill="#dca8b4" fill-opacity="0.85"/><circle cx="64.6" cy="113.7" r="0.5" fill="#ffffff" fill-opacity="0.85"/><circle cx="75.0" cy="111.2" r="0.5" fill="#dca8b4" fill-opacity="0.85"/><circle cx="70.9" cy="113.0" r="0.5" fill="#dca8b4" fill-opacity="0.85"/><circle cx="65.4" cy="109.8" r="0.5" fill="#f4dde2" fill-opacity="0.85"/><circle cx="67.1" cy="107.9" r="0.5" fill="#ffffff" fill-opacity="0.85"/><circle cx="68.2" cy="109.2" r="0.5" fill="#ffffff" fill-opacity="0.85"/><circle cx="72.7" cy="109.5" r="0.5" fill="#ffffff" fill-opacity="0.85"/><circle cx="64.7" cy="114.8" r="0.5" fill="#f4dde2" fill-opacity="0.85"/><circle cx="67.6" cy="106.2" r="0.5" fill="#dca8b4" fill-opacity="0.85"/><circle cx="71.7" cy="104.7" r="0.5" fill="#ffffff" fill-opacity="0.85"/><circle cx="71.1" cy="105.7" r="0.5" fill="#ffffff" fill-opacity="0.85"/><circle cx="66.7" cy="109.7" r="0.5" fill="#ffffff" fill-opacity="0.85"/><circle cx="69.1" cy="111.1" r="0.5" fill="#e0b0bc" fill-opacity="0.85"/><circle cx="69.6" cy="114.6" r="0.5" fill="#e0b0bc" fill-opacity="0.85"/><circle cx="72.3" cy="114.6" r="0.5" fill="#dca8b4" fill-opacity="0.85"/><circle cx="65.3" cy="111.7" r="0.5" fill="#e0b0bc" fill-opacity="0.85"/><circle cx="60.5" cy="112.9" r="0.5" fill="#f4dde2" fill-opacity="0.85"/><circle cx="68.0" cy="106.1" r="0.5" fill="#ffffff" fill-opacity="0.85"/><circle cx="66.0" cy="106.3" r="0.5" fill="#dca8b4" fill-opacity="0.85"/><circle cx="94.5" cy="53.4" r="0.5" fill="#c8e6c0" fill-opacity="0.85"/><circle cx="90.2" cy="51.0" r="0.5" fill="#a5d39b" fill-opacity="0.85"/><circle cx="97.4" cy="49.4" r="0.5" fill="#c8e6c0" fill-opacity="0.85"/><circle cx="91.0" cy="56.3" r="0.5" fill="#c8e6c0" fill-opacity="0.85"/><circle cx="90.4" cy="49.2" r="0.5" fill="#a5d39b" fill-opacity="0.85"/><circle cx="96.1" cy="48.0" r="0.5" fill="#9ccf92" fill-opacity="0.85"/><circle cx="91.1" cy="51.8" r="0.5" fill="#c8e6c0" fill-opacity="0.85"/><circle cx="95.9" cy="48.4" r="0.5" fill="#a5d39b" fill-opacity="0.85"/><circle cx="95.2" cy="55.9" r="0.5" fill="#a5d39b" fill-opacity="0.85"/><circle cx="95.6" cy="49.7" r="0.5" fill="#c8e6c0" fill-opacity="0.85"/><circle cx="93.0" cy="46.8" r="0.5" fill="#c8e6c0" fill-opacity="0.85"/><circle cx="89.5" cy="52.2" r="0.5" fill="#c8e6c0" fill-opacity="0.85"/><circle cx="89.6" cy="49.0" r="0.5" fill="#9ccf92" fill-opacity="0.85"/><circle cx="90.1" cy="53.9" r="0.5" fill="#a5d39b" fill-opacity="0.85"/><circle cx="91.4" cy="55.3" r="0.5" fill="#9ccf92" fill-opacity="0.85"/><circle cx="90.5" cy="53.7" r="0.5" fill="#9ccf92" fill-opacity="0.85"/><circle cx="89.3" cy="54.9" r="0.5" fill="#9ccf92" fill-opacity="0.85"/><circle cx="93.2" cy="45.6" r="0.5" fill="#c8e6c0" fill-opacity="0.85"/><circle cx="90.5" cy="47.5" r="0.5" fill="#c8e6c0" fill-opacity="0.85"/><circle cx="93.5" cy="46.2" r="0.5" fill="#c8e6c0" fill-opacity="0.85"/><circle cx="92.9" cy="45.6" r="0.5" fill="#c8e6c0" fill-opacity="0.85"/><circle cx="95.5" cy="50.9" r="0.5" fill="#a5d39b" fill-opacity="0.85"/><circle cx="92.1" cy="46.9" r="0.5" fill="#a5d39b" fill-opacity="0.85"/><circle cx="90.8" cy="56.3" r="0.5" fill="#c8e6c0" fill-opacity="0.85"/><circle cx="91.0" cy="52.0" r="0.5" fill="#c8e6c0" fill-opacity="0.85"/><circle cx="90.9" cy="50.0" r="0.5" fill="#c8e6c0" fill-opacity="0.85"/><circle cx="94.9" cy="57.3" r="0.5" fill="#c8e6c0" fill-opacity="0.85"/><circle cx="92.1" cy="51.7" r="0.5" fill="#c8e6c0" fill-opacity="0.85"/><circle cx="90.1" cy="48.3" r="0.5" fill="#9ccf92" fill-opacity="0.85"/><circle cx="92.8" cy="56.1" r="0.5" fill="#c8e6c0" fill-opacity="0.85"/><circle cx="91.7" cy="54.9" r="0.5" fill="#a5d39b" fill-opacity="0.85"/><circle cx="96.6" cy="52.4" r="0.5" fill="#a5d39b" fill-opacity="0.85"/><circle cx="94.2" cy="47.9" r="0.5" fill="#a5d39b" fill-opacity="0.85"/><circle cx="89.8" cy="53.8" r="0.5" fill="#a5d39b" fill-opacity="0.85"/><circle cx="95.7" cy="45.9" r="0.5" fill="#c8e6c0" fill-opacity="0.85"/><ellipse cx="93.2" cy="46.6" rx="2.8" ry="1.2" fill="#dfe8d8"/></g>
<path d="M20.55 123.30 V48.20 M20.55 123.30 H96.20" stroke="#000" stroke-width="1.25" fill="none"/>
<path d="M20.55 42.70 L23.75 49.70 L20.55 48.20 L17.35 49.70Z" fill="#000"/>
<path d="M101.70 123.30 L94.70 120.10 L96.20 123.30 L94.70 126.50Z" fill="#000"/>
<text x="25.50" y="31.70" font-size="9.7" fill="#222" text-anchor="start" textLength="59.90" lengthAdjust="spacingAndGlyphs">Seurat clusters</text>
<text x="25.10" y="134.60" font-size="8.9" fill="#333" text-anchor="start" textLength="24.60" lengthAdjust="spacingAndGlyphs">UMAP 1</text>
<text x="15.20" y="119.40" font-size="8.9" fill="#333" text-anchor="start" textLength="25.70" lengthAdjust="spacingAndGlyphs" transform="rotate(-90 15.20 119.40)">UMAP 2</text>
<circle cx="26.7" cy="148.8" r="2.1" fill="#b9d1b2"/>
<text x="33.00" y="151.00" font-size="6.6" fill="#262626" text-anchor="start">1</text>
<circle cx="26.7" cy="157.3" r="2.1" fill="#98bf98"/>
<text x="33.00" y="159.50" font-size="6.6" fill="#262626" text-anchor="start">2</text>
<circle cx="26.7" cy="165.5" r="2.1" fill="#3e6c72"/>
<text x="33.00" y="167.70" font-size="6.6" fill="#262626" text-anchor="start">3</text>
<circle cx="71.6" cy="149.1" r="2.1" fill="#111"/>
<text x="77.60" y="151.30" font-size="6.6" fill="#262626" text-anchor="start">4</text>
<circle cx="71.6" cy="157.2" r="2.1" fill="#c0304f"/>
<text x="77.60" y="159.40" font-size="6.6" fill="#262626" text-anchor="start">5</text>
<circle cx="71.6" cy="165.6" r="2.1" fill="#8a6b78"/>
<text x="77.60" y="167.80" font-size="6.6" fill="#262626" text-anchor="start">6</text>
<circle cx="71.6" cy="173.3" r="2.1" fill="#e8d0d5"/>
<text x="77.60" y="175.50" font-size="6.6" fill="#262626" text-anchor="start">7</text>
<path d="M40.9 146 V151.3 M40.9 154.9 V168.4 M85.6 146.2 V159.2 M85.6 162.8 V175.2" stroke="#777" stroke-width="1.1"/>
<text x="44.50" y="150.80" font-size="6.6" fill="#262626" text-anchor="start" textLength="14.90" lengthAdjust="spacingAndGlyphs">MBC</text>
<text x="44.50" y="164.20" font-size="6.6" fill="#262626" text-anchor="start" textLength="17.80" lengthAdjust="spacingAndGlyphs">prePB</text>
<text x="89.20" y="154.70" font-size="6.6" fill="#262626" text-anchor="start" textLength="8.20" lengthAdjust="spacingAndGlyphs">PB</text>
<text x="89.20" y="171.10" font-size="6.6" fill="#262626" text-anchor="start" textLength="8.20" lengthAdjust="spacingAndGlyphs">PC</text>
<g transform="translate(111.3 0)"><defs><linearGradient id="gB" x1="0" y1="48" x2="0" y2="101" gradientUnits="userSpaceOnUse"><stop offset="0" stop-color="#c8d2d8"/><stop offset="0.15" stop-color="#c2ccd2"/><stop offset="0.5" stop-color="#c6c8cd"/><stop offset="0.78" stop-color="#c8c2c7"/><stop offset="0.9" stop-color="#c4b4bb"/><stop offset="1" stop-color="#bba0aa"/></linearGradient></defs><path d="M36.20 48.30 C38.23 47.68 45.30 50.02 46.80 51.30 C48.30 52.58 45.75 54.55 45.20 56.00 C44.65 57.45 44.12 58.50 43.50 60.00 C42.88 61.50 42.12 63.33 41.50 65.00 C40.88 66.67 40.18 68.42 39.80 70.00 C39.42 71.58 39.52 73.08 39.20 74.50 C38.88 75.92 38.33 77.25 37.90 78.50 C37.47 79.75 36.68 80.83 36.60 82.00 C36.52 83.17 36.80 84.47 37.40 85.50 C38.00 86.53 39.42 87.12 40.20 88.20 C40.98 89.28 41.83 90.62 42.10 92.00 C42.37 93.38 42.23 95.13 41.80 96.50 C41.37 97.87 40.38 99.55 39.50 100.20 C38.62 100.85 37.42 100.77 36.50 100.40 C35.58 100.03 34.75 99.07 34.00 98.00 C33.25 96.93 32.70 95.23 32.00 94.00 C31.30 92.77 30.70 91.73 29.80 90.60 C28.90 89.47 27.48 88.38 26.60 87.20 C25.72 86.02 24.95 85.03 24.50 83.50 C24.05 81.97 23.85 79.75 23.90 78.00 C23.95 76.25 24.22 74.50 24.80 73.00 C25.38 71.50 26.40 70.25 27.40 69.00 C28.40 67.75 29.83 66.83 30.80 65.50 C31.77 64.17 32.57 62.75 33.20 61.00 C33.83 59.25 34.10 57.12 34.60 55.00 C35.10 52.88 34.17 48.92 36.20 48.30Z" fill="url(#gB)"/><path d="M31.50 88.00 C32.03 87.08 33.83 87.00 35.00 87.00 C36.17 87.00 37.47 87.42 38.50 88.00 C39.53 88.58 40.62 89.42 41.20 90.50 C41.78 91.58 42.03 93.17 42.00 94.50 C41.97 95.83 41.58 97.50 41.00 98.50 C40.42 99.50 39.42 100.20 38.50 100.50 C37.58 100.80 36.38 100.88 35.50 100.30 C34.62 99.72 33.82 98.30 33.20 97.00 C32.58 95.70 32.08 94.00 31.80 92.50 C31.52 91.00 30.97 88.92 31.50 88.00Z" fill="#b08a98" fill-opacity="0.25"/><path d="M48.45 89.45 C49.16 89.25 50.23 89.32 50.91 89.69 C51.60 90.06 52.24 90.88 52.55 91.66 C52.87 92.44 52.96 93.50 52.80 94.37 C52.63 95.23 52.16 96.32 51.57 96.83 C50.98 97.33 50.02 97.48 49.27 97.40 C48.52 97.32 47.59 96.98 47.06 96.33 C46.52 95.69 46.14 94.46 46.07 93.55 C46.01 92.63 46.25 91.52 46.65 90.84 C47.04 90.16 47.74 89.64 48.45 89.45Z" fill="#3a78a0"/><path d="M61.50 106.20 C62.37 105.57 63.72 105.13 64.80 104.80 C65.88 104.47 66.83 104.23 68.00 104.20 C69.17 104.17 70.67 104.30 71.80 104.60 C72.93 104.90 74.13 105.27 74.80 106.00 C75.47 106.73 75.70 107.92 75.80 109.00 C75.90 110.08 75.73 111.37 75.40 112.50 C75.07 113.63 74.53 114.78 73.80 115.80 C73.07 116.82 72.05 118.10 71.00 118.60 C69.95 119.10 68.67 119.02 67.50 118.80 C66.33 118.58 65.08 117.93 64.00 117.30 C62.92 116.67 61.93 115.98 61.00 115.00 C60.07 114.02 58.63 112.47 58.40 111.40 C58.17 110.33 59.08 109.47 59.60 108.60 C60.12 107.73 60.63 106.83 61.50 106.20Z" fill="#3576a0"/><path d="M90.50 45.80 C91.03 45.38 92.12 45.30 93.00 45.30 C93.88 45.30 95.17 45.42 95.80 45.80 C96.43 46.18 96.47 46.90 96.80 47.60 C97.13 48.30 97.60 49.02 97.80 50.00 C98.00 50.98 98.10 52.42 98.00 53.50 C97.90 54.58 97.70 55.73 97.20 56.50 C96.70 57.27 95.87 57.82 95.00 58.10 C94.13 58.38 92.83 58.38 92.00 58.20 C91.17 58.02 90.58 57.50 90.00 57.00 C89.42 56.50 89.07 55.70 88.50 55.20 C87.93 54.70 86.58 54.43 86.60 54.00 C86.62 53.57 88.13 53.27 88.60 52.60 C89.07 51.93 89.20 50.80 89.40 50.00 C89.60 49.20 89.62 48.50 89.80 47.80 C89.98 47.10 89.97 46.22 90.50 45.80Z" fill="#3474a0"/><path d="M50.2 108.6 L53.5 109.4 L58.5 111" stroke="#b09098" stroke-width="1.0" fill="none"/><ellipse cx="50.6" cy="108.7" rx="1.6" ry="1.1" fill="#b09098"/><path d="M42.2 71 Q43.6 79 44.8 87.5" stroke="#9fb4c0" stroke-width="0.8" fill="none" stroke-dasharray="0.9 0.9"/><circle cx="44.5" cy="83.8" r="0.5" fill="#9fb0c0" fill-opacity="0.8"/><circle cx="45.8" cy="84.6" r="0.5" fill="#c8c8d0" fill-opacity="0.8"/><circle cx="44.6" cy="87.6" r="0.5" fill="#9fb0c0" fill-opacity="0.8"/><circle cx="42.9" cy="86.8" r="0.5" fill="#b8a0a8" fill-opacity="0.8"/><circle cx="44.0" cy="79.8" r="0.5" fill="#9fb0c0" fill-opacity="0.8"/><circle cx="45.1" cy="75.8" r="0.5" fill="#c8c8d0" fill-opacity="0.8"/><circle cx="46.3" cy="84.4" r="0.5" fill="#c8c8d0" fill-opacity="0.8"/><circle cx="44.4" cy="76.7" r="0.5" fill="#c8c8d0" fill-opacity="0.8"/><circle cx="41.9" cy="71.2" r="0.5" fill="#c8c8d0" fill-opacity="0.8"/><circle cx="46.6" cy="87.4" r="0.5" fill="#6a90b0" fill-opacity="0.8"/><circle cx="40.7" cy="76.0" r="0.5" fill="#c8c8d0" fill-opacity="0.8"/><circle cx="42.2" cy="74.0" r="0.5" fill="#9fb0c0" fill-opacity="0.8"/><circle cx="44.3" cy="83.0" r="0.5" fill="#9fb0c0" fill-opacity="0.8"/><circle cx="42.5" cy="85.6" r="0.5" fill="#b8a0a8" fill-opacity="0.8"/><circle cx="43.5" cy="70.2" r="0.5" fill="#6a90b0" fill-opacity="0.8"/><circle cx="45.2" cy="86.3" r="0.5" fill="#9fb0c0" fill-opacity="0.8"/><circle cx="44.0" cy="76.1" r="0.5" fill="#b8a0a8" fill-opacity="0.8"/><circle cx="40.9" cy="70.3" r="0.5" fill="#c8c8d0" fill-opacity="0.8"/><circle cx="41.3" cy="71.9" r="0.5" fill="#b8a0a8" fill-opacity="0.8"/><circle cx="42.7" cy="74.5" r="0.5" fill="#6a90b0" fill-opacity="0.8"/><circle cx="45.2" cy="85.1" r="0.5" fill="#6a90b0" fill-opacity="0.8"/><circle cx="41.2" cy="74.2" r="0.5" fill="#6a90b0" fill-opacity="0.8"/><circle cx="42.5" cy="73.6" r="0.5" fill="#c8c8d0" fill-opacity="0.8"/><circle cx="45.6" cy="81.0" r="0.5" fill="#6a90b0" fill-opacity="0.8"/><circle cx="43.9" cy="75.7" r="0.5" fill="#c8c8d0" fill-opacity="0.8"/><circle cx="42.2" cy="81.6" r="0.5" fill="#c8c8d0" fill-opacity="0.8"/><circle cx="40.8" cy="77.8" r="0.5" fill="#c8c8d0" fill-opacity="0.8"/><circle cx="41.4" cy="83.6" r="0.5" fill="#c8c8d0" fill-opacity="0.8"/><circle cx="44.5" cy="84.9" r="0.5" fill="#9fb0c0" fill-opacity="0.8"/><circle cx="41.6" cy="75.0" r="0.5" fill="#9fb0c0" fill-opacity="0.8"/><circle cx="34.3" cy="73.7" r="0.5" fill="#a8929c" fill-opacity="0.85"/><circle cx="30.6" cy="69.3" r="0.5" fill="#8e9caa" fill-opacity="0.85"/><circle cx="38.3" cy="74.3" r="0.5" fill="#8e9caa" fill-opacity="0.85"/><circle cx="30.1" cy="89.0" r="0.5" fill="#8e9caa" fill-opacity="0.85"/><circle cx="40.0" cy="62.9" r="0.5" fill="#8e9caa" fill-opacity="0.85"/><circle cx="35.0" cy="88.4" r="0.5" fill="#a5cdc6" fill-opacity="0.85"/><circle cx="39.7" cy="63.6" r="0.5" fill="#ffffff" fill-opacity="0.85"/><circle cx="37.2" cy="48.9" r="0.5" fill="#8e9caa" fill-opacity="0.85"/><circle cx="36.4" cy="61.4" r="0.5" fill="#ffffff" fill-opacity="0.85"/><circle cx="39.3" cy="72.4" r="0.5" fill="#ffffff" fill-opacity="0.85"/><circle cx="38.6" cy="86.7" r="0.5" fill="#a8929c" fill-opacity="0.85"/><circle cx="39.7" cy="99.2" r="0.5" fill="#9a7a88" fill-opacity="0.85"/><circle cx="36.0" cy="57.0" r="0.5" fill="#8e9caa" fill-opacity="0.85"/><circle cx="34.8" cy="84.3" r="0.5" fill="#a8929c" fill-opacity="0.85"/><circle cx="33.5" cy="80.8" r="0.5" fill="#a5cdc6" fill-opacity="0.85"/><circle cx="40.4" cy="49.7" r="0.5" fill="#8e9caa" fill-opacity="0.85"/><circle cx="27.6" cy="71.3" r="0.5" fill="#a8929c" fill-opacity="0.85"/><circle cx="38.8" cy="59.7" r="0.5" fill="#8e9caa" fill-opacity="0.85"/><circle cx="32.6" cy="80.2" r="0.5" fill="#8e9caa" fill-opacity="0.85"/><circle cx="37.4" cy="60.7" r="0.5" fill="#a8929c" fill-opacity="0.85"/><circle cx="33.2" cy="62.8" r="0.5" fill="#8e9caa" fill-opacity="0.85"/><circle cx="24.7" cy="80.3" r="0.5" fill="#8e9caa" fill-opacity="0.85"/><circle cx="26.1" cy="76.7" r="0.5" fill="#8e9caa" fill-opacity="0.85"/><circle cx="31.7" cy="78.6" r="0.5" fill="#a5cdc6" fill-opacity="0.85"/><circle cx="33.5" cy="90.7" r="0.5" fill="#a8929c" fill-opacity="0.85"/><circle cx="38.6" cy="67.5" r="0.5" fill="#a5cdc6" fill-opacity="0.85"/><circle cx="27.2" cy="79.3" r="0.5" fill="#a5cdc6" fill-opacity="0.85"/><circle cx="36.8" cy="98.2" r="0.5" fill="#ffffff" fill-opacity="0.85"/><circle cx="36.9" cy="80.4" r="0.5" fill="#8e9caa" fill-opacity="0.85"/><circle cx="27.1" cy="81.1" r="0.5" fill="#a5cdc6" fill-opacity="0.85"/><circle cx="33.8" cy="60.1" r="0.5" fill="#a5cdc6" fill-opacity="0.85"/><circle cx="35.3" cy="69.9" r="0.5" fill="#ffffff" fill-opacity="0.85"/><circle cx="35.2" cy="63.2" r="0.5" fill="#ffffff" fill-opacity="0.85"/><circle cx="34.8" cy="54.7" r="0.5" fill="#8e9caa" fill-opacity="0.85"/><circle cx="38.1" cy="71.4" r="0.5" fill="#ffffff" fill-opacity="0.85"/><circle cx="30.6" cy="89.0" r="0.5" fill="#ffffff" fill-opacity="0.85"/><circle cx="36.1" cy="62.6" r="0.5" fill="#ffffff" fill-opacity="0.85"/><circle cx="30.6" cy="80.0" r="0.5" fill="#a8929c" fill-opacity="0.85"/><circle cx="34.8" cy="81.9" r="0.5" fill="#a5cdc6" fill-opacity="0.85"/><circle cx="37.7" cy="87.0" r="0.5" fill="#a5cdc6" fill-opacity="0.85"/><circle cx="30.8" cy="76.1" r="0.5" fill="#ffffff" fill-opacity="0.85"/><circle cx="36.0" cy="72.5" r="0.5" fill="#a8929c" fill-opacity="0.85"/><circle cx="32.2" cy="87.1" r="0.5" fill="#a8929c" fill-opacity="0.85"/><circle cx="37.4" cy="50.2" r="0.5" fill="#ffffff" fill-opacity="0.85"/><circle cx="29.7" cy="72.0" r="0.5" fill="#a5cdc6" fill-opacity="0.85"/><circle cx="36.4" cy="49.1" r="0.5" fill="#a5cdc6" fill-opacity="0.85"/><circle cx="37.1" cy="85.2" r="0.5" fill="#ffffff" fill-opacity="0.85"/><circle cx="38.4" cy="73.4" r="0.5" fill="#a5cdc6" fill-opacity="0.85"/><circle cx="32.9" cy="92.7" r="0.5" fill="#8e9caa" fill-opacity="0.85"/><circle cx="42.9" cy="51.7" r="0.5" fill="#8e9caa" fill-opacity="0.85"/><circle cx="33.8" cy="63.2" r="0.5" fill="#a5cdc6" fill-opacity="0.85"/><circle cx="41.8" cy="95.7" r="0.5" fill="#a5cdc6" fill-opacity="0.85"/><circle cx="27.2" cy="73.2" r="0.5" fill="#ffffff" fill-opacity="0.85"/><circle cx="36.5" cy="74.2" r="0.5" fill="#8e9caa" fill-opacity="0.85"/><circle cx="37.3" cy="90.6" r="0.5" fill="#8e9caa" fill-opacity="0.85"/><circle cx="39.1" cy="49.6" r="0.5" fill="#8e9caa" fill-opacity="0.85"/><circle cx="28.9" cy="81.9" r="0.5" fill="#ffffff" fill-opacity="0.85"/><circle cx="44.9" cy="56.1" r="0.5" fill="#8e9caa" fill-opacity="0.85"/><circle cx="37.9" cy="69.9" r="0.5" fill="#a8929c" fill-opacity="0.85"/><circle cx="27.6" cy="80.7" r="0.5" fill="#ffffff" fill-opacity="0.85"/><circle cx="25.2" cy="78.3" r="0.5" fill="#8e9caa" fill-opacity="0.85"/><circle cx="40.9" cy="94.1" r="0.5" fill="#9a7a88" fill-opacity="0.85"/><circle cx="27.0" cy="70.8" r="0.5" fill="#ffffff" fill-opacity="0.85"/><circle cx="31.1" cy="79.6" r="0.5" fill="#8e9caa" fill-opacity="0.85"/><circle cx="35.1" cy="97.2" r="0.5" fill="#9a7a88" fill-opacity="0.85"/><circle cx="39.9" cy="56.2" r="0.5" fill="#8e9caa" fill-opacity="0.85"/><circle cx="38.4" cy="74.7" r="0.5" fill="#ffffff" fill-opacity="0.85"/><circle cx="38.1" cy="62.0" r="0.5" fill="#a5cdc6" fill-opacity="0.85"/><circle cx="36.5" cy="61.5" r="0.5" fill="#a5cdc6" fill-opacity="0.85"/><circle cx="32.4" cy="86.7" r="0.5" fill="#a5cdc6" fill-opacity="0.85"/><circle cx="28.0" cy="85.5" r="0.5" fill="#ffffff" fill-opacity="0.85"/><circle cx="38.9" cy="52.7" r="0.5" fill="#ffffff" fill-opacity="0.85"/><circle cx="39.2" cy="53.1" r="0.5" fill="#ffffff" fill-opacity="0.85"/><circle cx="26.8" cy="79.2" r="0.5" fill="#a8929c" fill-opacity="0.85"/><circle cx="34.9" cy="65.1" r="0.5" fill="#ffffff" fill-opacity="0.85"/><circle cx="40.5" cy="51.1" r="0.5" fill="#ffffff" fill-opacity="0.85"/><circle cx="39.5" cy="59.9" r="0.5" fill="#8e9caa" fill-opacity="0.85"/><circle cx="39.1" cy="91.1" r="0.5" fill="#a5cdc6" fill-opacity="0.85"/><circle cx="27.1" cy="80.9" r="0.5" fill="#a5cdc6" fill-opacity="0.85"/><circle cx="31.5" cy="80.3" r="0.5" fill="#ffffff" fill-opacity="0.85"/><circle cx="31.9" cy="68.4" r="0.5" fill="#ffffff" fill-opacity="0.85"/><circle cx="38.7" cy="90.2" r="0.5" fill="#a5cdc6" fill-opacity="0.85"/><circle cx="33.8" cy="92.7" r="0.5" fill="#8e9caa" fill-opacity="0.85"/><circle cx="35.8" cy="79.2" r="0.5" fill="#a8929c" fill-opacity="0.85"/><circle cx="37.0" cy="86.9" r="0.5" fill="#ffffff" fill-opacity="0.85"/><circle cx="34.9" cy="87.9" r="0.5" fill="#ffffff" fill-opacity="0.85"/><circle cx="33.7" cy="72.6" r="0.5" fill="#a8929c" fill-opacity="0.85"/><circle cx="32.7" cy="94.2" r="0.5" fill="#9a7a88" fill-opacity="0.85"/><circle cx="39.3" cy="72.9" r="0.5" fill="#ffffff" fill-opacity="0.85"/><circle cx="45.5" cy="54.4" r="0.5" fill="#a5cdc6" fill-opacity="0.85"/><circle cx="39.2" cy="63.5" r="0.5" fill="#a8929c" fill-opacity="0.85"/><circle cx="31.0" cy="72.7" r="0.5" fill="#a5cdc6" fill-opacity="0.85"/><circle cx="30.4" cy="86.5" r="0.5" fill="#ffffff" fill-opacity="0.85"/><circle cx="40.3" cy="56.8" r="0.5" fill="#a5cdc6" fill-opacity="0.85"/><circle cx="29.4" cy="83.3" r="0.5" fill="#ffffff" fill-opacity="0.85"/><circle cx="24.9" cy="76.9" r="0.5" fill="#a5cdc6" fill-opacity="0.85"/><circle cx="35.1" cy="97.1" r="0.5" fill="#9a7a88" fill-opacity="0.85"/><circle cx="33.2" cy="64.2" r="0.5" fill="#8e9caa" fill-opacity="0.85"/><circle cx="35.5" cy="69.3" r="0.5" fill="#8e9caa" fill-opacity="0.85"/><circle cx="36.1" cy="52.7" r="0.5" fill="#a5cdc6" fill-opacity="0.85"/><circle cx="36.3" cy="96.3" r="0.5" fill="#ffffff" fill-opacity="0.85"/><circle cx="37.6" cy="92.9" r="0.5" fill="#ffffff" fill-opacity="0.85"/><circle cx="36.3" cy="73.6" r="0.5" fill="#8e9caa" fill-opacity="0.85"/><circle cx="37.0" cy="67.9" r="0.5" fill="#ffffff" fill-opacity="0.85"/><circle cx="34.2" cy="91.4" r="0.5" fill="#ffffff" fill-opacity="0.85"/><circle cx="41.6" cy="91.0" r="0.5" fill="#ffffff" fill-opacity="0.85"/><circle cx="37.1" cy="61.1" r="0.5" fill="#ffffff" fill-opacity="0.85"/><circle cx="25.3" cy="84.8" r="0.5" fill="#ffffff" fill-opacity="0.85"/><circle cx="30.4" cy="67.8" r="0.5" fill="#8e9caa" fill-opacity="0.85"/><circle cx="31.1" cy="87.5" r="0.5" fill="#8e9caa" fill-opacity="0.85"/><circle cx="36.6" cy="95.0" r="0.5" fill="#c9b0b8" fill-opacity="0.85"/><circle cx="38.9" cy="87.9" r="0.5" fill="#ffffff" fill-opacity="0.85"/><circle cx="37.1" cy="71.3" r="0.5" fill="#8e9caa" fill-opacity="0.85"/><circle cx="40.0" cy="62.2" r="0.5" fill="#ffffff" fill-opacity="0.85"/><circle cx="39.4" cy="63.2" r="0.5" fill="#8e9caa" fill-opacity="0.85"/><circle cx="36.7" cy="49.7" r="0.5" fill="#ffffff" fill-opacity="0.85"/><circle cx="32.1" cy="93.1" r="0.5" fill="#ffffff" fill-opacity="0.85"/><circle cx="29.2" cy="70.6" r="0.5" fill="#ffffff" fill-opacity="0.85"/><circle cx="32.2" cy="65.5" r="0.5" fill="#a8929c" fill-opacity="0.85"/><circle cx="24.2" cy="78.7" r="0.5" fill="#8e9caa" fill-opacity="0.85"/><circle cx="26.1" cy="75.9" r="0.5" fill="#ffffff" fill-opacity="0.85"/><circle cx="27.8" cy="85.3" r="0.5" fill="#8e9caa" fill-opacity="0.85"/><circle cx="34.1" cy="97.2" r="0.5" fill="#c9b0b8" fill-opacity="0.85"/><circle cx="42.1" cy="54.5" r="0.5" fill="#ffffff" fill-opacity="0.85"/><circle cx="34.5" cy="70.9" r="0.5" fill="#a5cdc6" fill-opacity="0.85"/><circle cx="34.0" cy="88.3" r="0.5" fill="#8e9caa" fill-opacity="0.85"/><circle cx="37.1" cy="73.4" r="0.5" fill="#8e9caa" fill-opacity="0.85"/><circle cx="28.5" cy="77.6" r="0.5" fill="#a5cdc6" fill-opacity="0.85"/><circle cx="32.1" cy="87.4" r="0.5" fill="#8e9caa" fill-opacity="0.85"/><circle cx="38.1" cy="69.2" r="0.5" fill="#8e9caa" fill-opacity="0.85"/><circle cx="40.3" cy="95.2" r="0.5" fill="#9a7a88" fill-opacity="0.85"/><circle cx="31.3" cy="83.9" r="0.5" fill="#a5cdc6" fill-opacity="0.85"/><circle cx="37.3" cy="57.9" r="0.5" fill="#8e9caa" fill-opacity="0.85"/><circle cx="32.8" cy="64.8" r="0.5" fill="#a5cdc6" fill-opacity="0.85"/><circle cx="32.7" cy="73.1" r="0.5" fill="#a8929c" fill-opacity="0.85"/><circle cx="40.0" cy="69.1" r="0.5" fill="#a8929c" fill-opacity="0.85"/><circle cx="35.9" cy="63.1" r="0.5" fill="#8e9caa" fill-opacity="0.85"/><circle cx="32.0" cy="78.5" r="0.5" fill="#8e9caa" fill-opacity="0.85"/><circle cx="30.2" cy="85.6" r="0.5" fill="#ffffff" fill-opacity="0.85"/><circle cx="39.2" cy="98.2" r="0.5" fill="#ffffff" fill-opacity="0.85"/><circle cx="37.9" cy="59.2" r="0.5" fill="#ffffff" fill-opacity="0.85"/><circle cx="35.7" cy="95.0" r="0.5" fill="#c9b0b8" fill-opacity="0.85"/><circle cx="36.4" cy="68.8" r="0.5" fill="#ffffff" fill-opacity="0.85"/><circle cx="28.0" cy="82.3" r="0.5" fill="#ffffff" fill-opacity="0.85"/><circle cx="37.9" cy="68.4" r="0.5" fill="#ffffff" fill-opacity="0.85"/><circle cx="26.4" cy="84.2" r="0.5" fill="#a5cdc6" fill-opacity="0.85"/><circle cx="36.6" cy="85.6" r="0.5" fill="#a5cdc6" fill-opacity="0.85"/><circle cx="32.5" cy="94.5" r="0.5" fill="#9a7a88" fill-opacity="0.85"/><circle cx="30.0" cy="80.7" r="0.5" fill="#ffffff" fill-opacity="0.85"/><circle cx="44.4" cy="57.0" r="0.5" fill="#ffffff" fill-opacity="0.85"/><circle cx="38.4" cy="88.2" r="0.5" fill="#ffffff" fill-opacity="0.85"/><circle cx="36.9" cy="91.6" r="0.5" fill="#8e9caa" fill-opacity="0.85"/><circle cx="33.4" cy="70.5" r="0.5" fill="#ffffff" fill-opacity="0.85"/><circle cx="36.0" cy="95.4" r="0.5" fill="#9a7a88" fill-opacity="0.85"/><circle cx="37.8" cy="98.7" r="0.5" fill="#ffffff" fill-opacity="0.85"/><circle cx="26.5" cy="77.6" r="0.5" fill="#a5cdc6" fill-opacity="0.85"/><circle cx="37.7" cy="57.9" r="0.5" fill="#a5cdc6" fill-opacity="0.85"/><circle cx="28.3" cy="79.3" r="0.5" fill="#8e9caa" fill-opacity="0.85"/><circle cx="40.6" cy="51.5" r="0.5" fill="#ffffff" fill-opacity="0.85"/><circle cx="35.0" cy="91.8" r="0.5" fill="#a5cdc6" fill-opacity="0.85"/><circle cx="39.9" cy="92.1" r="0.5" fill="#8e9caa" fill-opacity="0.85"/><circle cx="38.0" cy="53.8" r="0.5" fill="#8e9caa" fill-opacity="0.85"/><circle cx="40.2" cy="96.4" r="0.5" fill="#ffffff" fill-opacity="0.85"/><circle cx="28.6" cy="67.8" r="0.5" fill="#8e9caa" fill-opacity="0.85"/><circle cx="34.4" cy="83.8" r="0.5" fill="#8e9caa" fill-opacity="0.85"/><circle cx="40.9" cy="52.7" r="0.5" fill="#8e9caa" fill-opacity="0.85"/><circle cx="33.1" cy="76.6" r="0.5" fill="#ffffff" fill-opacity="0.85"/><circle cx="37.6" cy="67.8" r="0.5" fill="#8e9caa" fill-opacity="0.85"/><circle cx="40.4" cy="63.7" r="0.5" fill="#ffffff" fill-opacity="0.85"/><circle cx="26.6" cy="73.3" r="0.5" fill="#ffffff" fill-opacity="0.85"/><circle cx="32.0" cy="86.7" r="0.5" fill="#ffffff" fill-opacity="0.85"/><circle cx="30.6" cy="74.3" r="0.5" fill="#8e9caa" fill-opacity="0.85"/><circle cx="39.9" cy="89.4" r="0.5" fill="#ffffff" fill-opacity="0.85"/><circle cx="37.1" cy="63.7" r="0.5" fill="#ffffff" fill-opacity="0.85"/><circle cx="31.6" cy="92.5" r="0.5" fill="#8e9caa" fill-opacity="0.85"/><circle cx="35.8" cy="50.9" r="0.5" fill="#ffffff" fill-opacity="0.85"/><circle cx="33.5" cy="60.7" r="0.5" fill="#8e9caa" fill-opacity="0.85"/><circle cx="39.2" cy="52.1" r="0.5" fill="#8e9caa" fill-opacity="0.85"/><circle cx="36.3" cy="68.4" r="0.5" fill="#a8929c" fill-opacity="0.85"/><circle cx="45.3" cy="53.1" r="0.5" fill="#a8929c" fill-opacity="0.85"/><circle cx="32.0" cy="90.5" r="0.5" fill="#a8929c" fill-opacity="0.85"/><circle cx="29.6" cy="72.2" r="0.5" fill="#a5cdc6" fill-opacity="0.85"/><circle cx="32.7" cy="75.2" r="0.5" fill="#8e9caa" fill-opacity="0.85"/><circle cx="37.5" cy="95.3" r="0.5" fill="#9a7a88" fill-opacity="0.85"/><circle cx="44.3" cy="56.0" r="0.5" fill="#a5cdc6" fill-opacity="0.85"/><circle cx="28.9" cy="70.3" r="0.5" fill="#ffffff" fill-opacity="0.85"/><circle cx="30.1" cy="72.8" r="0.5" fill="#a8929c" fill-opacity="0.85"/><circle cx="30.5" cy="83.0" r="0.5" fill="#a8929c" fill-opacity="0.85"/><circle cx="32.6" cy="95.1" r="0.5" fill="#ffffff" fill-opacity="0.85"/><circle cx="33.7" cy="62.2" r="0.5" fill="#a5cdc6" fill-opacity="0.85"/><circle cx="41.7" cy="56.2" r="0.5" fill="#a5cdc6" fill-opacity="0.85"/><circle cx="35.8" cy="99.1" r="0.5" fill="#9a7a88" fill-opacity="0.85"/><circle cx="40.0" cy="53.0" r="0.5" fill="#a8929c" fill-opacity="0.85"/><circle cx="26.4" cy="81.8" r="0.5" fill="#a5cdc6" fill-opacity="0.85"/><circle cx="32.5" cy="67.5" r="0.5" fill="#ffffff" fill-opacity="0.85"/><circle cx="34.8" cy="78.6" r="0.5" fill="#8e9caa" fill-opacity="0.85"/><circle cx="36.9" cy="62.0" r="0.5" fill="#8e9caa" fill-opacity="0.85"/><circle cx="36.4" cy="86.4" r="0.5" fill="#a5cdc6" fill-opacity="0.85"/><circle cx="27.0" cy="73.4" r="0.5" fill="#a5cdc6" fill-opacity="0.85"/><circle cx="35.4" cy="80.1" r="0.5" fill="#a5cdc6" fill-opacity="0.85"/><circle cx="42.1" cy="51.2" r="0.5" fill="#8e9caa" fill-opacity="0.85"/><circle cx="32.7" cy="66.3" r="0.5" fill="#a5cdc6" fill-opacity="0.85"/><circle cx="34.2" cy="82.4" r="0.5" fill="#a8929c" fill-opacity="0.85"/><circle cx="36.0" cy="85.5" r="0.5" fill="#a8929c" fill-opacity="0.85"/><circle cx="25.7" cy="71.7" r="0.5" fill="#ffffff" fill-opacity="0.85"/><circle cx="30.8" cy="77.0" r="0.5" fill="#ffffff" fill-opacity="0.85"/><circle cx="42.9" cy="55.5" r="0.5" fill="#ffffff" fill-opacity="0.85"/><circle cx="31.9" cy="74.1" r="0.5" fill="#8e9caa" fill-opacity="0.85"/><circle cx="36.9" cy="59.1" r="0.5" fill="#ffffff" fill-opacity="0.85"/><circle cx="38.2" cy="68.5" r="0.5" fill="#a5cdc6" fill-opacity="0.85"/><circle cx="38.3" cy="61.1" r="0.5" fill="#8e9caa" fill-opacity="0.85"/><circle cx="33.9" cy="95.0" r="0.5" fill="#9a7a88" fill-opacity="0.85"/><circle cx="36.8" cy="48.8" r="0.5" fill="#a8929c" fill-opacity="0.85"/><circle cx="35.2" cy="93.7" r="0.5" fill="#a8929c" fill-opacity="0.85"/><circle cx="24.8" cy="79.0" r="0.5" fill="#8e9caa" fill-opacity="0.85"/><circle cx="26.6" cy="85.9" r="0.5" fill="#ffffff" fill-opacity="0.85"/><circle cx="39.6" cy="53.1" r="0.5" fill="#a5cdc6" fill-opacity="0.85"/><circle cx="25.4" cy="72.3" r="0.5" fill="#a8929c" fill-opacity="0.85"/><circle cx="38.8" cy="94.8" r="0.5" fill="#9a7a88" fill-opacity="0.85"/><circle cx="40.4" cy="51.9" r="0.5" fill="#8e9caa" fill-opacity="0.85"/><circle cx="38.6" cy="92.3" r="0.5" fill="#a8929c" fill-opacity="0.85"/><circle cx="35.7" cy="95.3" r="0.5" fill="#ffffff" fill-opacity="0.85"/><circle cx="34.6" cy="56.4" r="0.5" fill="#a8929c" fill-opacity="0.85"/><circle cx="35.1" cy="84.1" r="0.5" fill="#ffffff" fill-opacity="0.85"/><circle cx="34.1" cy="78.2" r="0.5" fill="#ffffff" fill-opacity="0.85"/><circle cx="44.8" cy="55.9" r="0.5" fill="#ffffff" fill-opacity="0.85"/><circle cx="30.0" cy="74.0" r="0.5" fill="#a8929c" fill-opacity="0.85"/><circle cx="36.2" cy="95.2" r="0.5" fill="#ffffff" fill-opacity="0.85"/><circle cx="36.6" cy="82.8" r="0.5" fill="#a8929c" fill-opacity="0.85"/><circle cx="33.5" cy="89.2" r="0.5" fill="#a5cdc6" fill-opacity="0.85"/><circle cx="30.0" cy="81.1" r="0.5" fill="#8e9caa" fill-opacity="0.85"/><circle cx="38.6" cy="98.1" r="0.5" fill="#9a7a88" fill-opacity="0.85"/><circle cx="38.4" cy="92.3" r="0.5" fill="#8e9caa" fill-opacity="0.85"/><circle cx="37.2" cy="50.9" r="0.5" fill="#a8929c" fill-opacity="0.85"/><circle cx="29.9" cy="69.6" r="0.5" fill="#a8929c" fill-opacity="0.85"/><circle cx="33.3" cy="93.6" r="0.5" fill="#a8929c" fill-opacity="0.85"/><circle cx="35.5" cy="53.7" r="0.5" fill="#a8929c" fill-opacity="0.85"/><circle cx="33.4" cy="60.1" r="0.5" fill="#ffffff" fill-opacity="0.85"/><circle cx="24.5" cy="77.7" r="0.5" fill="#ffffff" fill-opacity="0.85"/><circle cx="35.6" cy="96.9" r="0.5" fill="#ffffff" fill-opacity="0.85"/><circle cx="26.5" cy="76.3" r="0.5" fill="#a8929c" fill-opacity="0.85"/><circle cx="36.3" cy="71.1" r="0.5" fill="#8e9caa" fill-opacity="0.85"/><circle cx="30.1" cy="77.0" r="0.5" fill="#8e9caa" fill-opacity="0.85"/><circle cx="28.7" cy="75.1" r="0.5" fill="#ffffff" fill-opacity="0.85"/><circle cx="38.4" cy="96.2" r="0.5" fill="#ffffff" fill-opacity="0.85"/><circle cx="31.4" cy="90.5" r="0.5" fill="#ffffff" fill-opacity="0.85"/><circle cx="36.0" cy="55.6" r="0.5" fill="#a8929c" fill-opacity="0.85"/><circle cx="34.6" cy="71.4" r="0.5" fill="#a8929c" fill-opacity="0.85"/><circle cx="35.4" cy="63.1" r="0.5" fill="#a8929c" fill-opacity="0.85"/><circle cx="40.9" cy="61.6" r="0.5" fill="#ffffff" fill-opacity="0.85"/><circle cx="34.7" cy="87.8" r="0.5" fill="#8e9caa" fill-opacity="0.85"/><circle cx="37.8" cy="55.3" r="0.5" fill="#8e9caa" fill-opacity="0.85"/><circle cx="28.5" cy="84.5" r="0.5" fill="#8e9caa" fill-opacity="0.85"/><circle cx="40.6" cy="53.6" r="0.5" fill="#ffffff" fill-opacity="0.85"/><circle cx="34.1" cy="80.6" r="0.5" fill="#a5cdc6" fill-opacity="0.85"/><circle cx="43.5" cy="56.8" r="0.5" fill="#ffffff" fill-opacity="0.85"/><circle cx="39.9" cy="53.8" r="0.5" fill="#a5cdc6" fill-opacity="0.85"/><circle cx="37.2" cy="61.4" r="0.5" fill="#a5cdc6" fill-opacity="0.85"/><circle cx="40.4" cy="54.7" r="0.5" fill="#ffffff" fill-opacity="0.85"/><circle cx="35.1" cy="93.8" r="0.5" fill="#8e9caa" fill-opacity="0.85"/><circle cx="52.3" cy="91.7" r="0.5" fill="#6aa0c4" fill-opacity="0.85"/><circle cx="46.5" cy="91.7" r="0.5" fill="#6aa0c4" fill-opacity="0.85"/><circle cx="48.1" cy="92.4" r="0.5" fill="#1f5f88" fill-opacity="0.85"/><circle cx="48.0" cy="91.0" r="0.5" fill="#1f5f88" fill-opacity="0.85"/><circle cx="48.2" cy="96.2" r="0.5" fill="#6aa0c4" fill-opacity="0.85"/><circle cx="48.9" cy="96.1" r="0.5" fill="#6aa0c4" fill-opacity="0.85"/><circle cx="48.4" cy="95.3" r="0.5" fill="#6aa0c4" fill-opacity="0.85"/><circle cx="50.9" cy="94.3" r="0.5" fill="#1f5f88" fill-opacity="0.85"/><circle cx="47.1" cy="93.4" r="0.5" fill="#1f5f88" fill-opacity="0.85"/><circle cx="49.7" cy="93.3" r="0.5" fill="#6aa0c4" fill-opacity="0.85"/><circle cx="49.7" cy="93.3" r="0.5" fill="#1f5f88" fill-opacity="0.85"/><circle cx="51.0" cy="90.8" r="0.5" fill="#1f5f88" fill-opacity="0.85"/><circle cx="51.8" cy="91.3" r="0.5" fill="#6aa0c4" fill-opacity="0.85"/><circle cx="50.5" cy="92.5" r="0.5" fill="#1f5f88" fill-opacity="0.85"/><circle cx="50.4" cy="96.8" r="0.5" fill="#1f5f88" fill-opacity="0.85"/><circle cx="50.5" cy="94.1" r="0.5" fill="#6aa0c4" fill-opacity="0.85"/><circle cx="49.0" cy="91.9" r="0.5" fill="#1f5f88" fill-opacity="0.85"/><circle cx="48.6" cy="94.2" r="0.5" fill="#6aa0c4" fill-opacity="0.85"/><circle cx="51.3" cy="95.2" r="0.5" fill="#6aa0c4" fill-opacity="0.85"/><circle cx="48.9" cy="93.1" r="0.5" fill="#1f5f88" fill-opacity="0.85"/><circle cx="51.2" cy="90.3" r="0.5" fill="#6aa0c4" fill-opacity="0.85"/><circle cx="49.2" cy="91.7" r="0.5" fill="#1f5f88" fill-opacity="0.85"/><circle cx="51.2" cy="94.4" r="0.5" fill="#1f5f88" fill-opacity="0.85"/><circle cx="46.5" cy="92.2" r="0.5" fill="#1f5f88" fill-opacity="0.85"/><circle cx="49.7" cy="96.5" r="0.5" fill="#1f5f88" fill-opacity="0.85"/><circle cx="65.9" cy="108.6" r="0.5" fill="#5f94b8" fill-opacity="0.85"/><circle cx="73.6" cy="109.9" r="0.5" fill="#4f88b0" fill-opacity="0.85"/><circle cx="74.0" cy="114.3" r="0.5" fill="#4f88b0" fill-opacity="0.85"/><circle cx="63.2" cy="111.9" r="0.5" fill="#4f88b0" fill-opacity="0.85"/><circle cx="70.5" cy="116.8" r="0.5" fill="#5f94b8" fill-opacity="0.85"/><circle cx="62.4" cy="110.4" r="0.5" fill="#1f5f88" fill-opacity="0.85"/><circle cx="68.2" cy="116.3" r="0.5" fill="#5f94b8" fill-opacity="0.85"/><circle cx="66.1" cy="107.0" r="0.5" fill="#1f5f88" fill-opacity="0.85"/><circle cx="68.5" cy="114.7" r="0.5" fill="#4f88b0" fill-opacity="0.85"/><circle cx="61.7" cy="112.0" r="0.5" fill="#4f88b0" fill-opacity="0.85"/><circle cx="64.8" cy="105.6" r="0.5" fill="#5f94b8" fill-opacity="0.85"/><circle cx="65.9" cy="116.1" r="0.5" fill="#5f94b8" fill-opacity="0.85"/><circle cx="61.0" cy="110.4" r="0.5" fill="#4f88b0" fill-opacity="0.85"/><circle cx="71.3" cy="114.4" r="0.5" fill="#1f5f88" fill-opacity="0.85"/><circle cx="68.9" cy="115.3" r="0.5" fill="#1f5f88" fill-opacity="0.85"/><circle cx="63.0" cy="112.5" r="0.5" fill="#1f5f88" fill-opacity="0.85"/><circle cx="69.0" cy="112.0" r="0.5" fill="#4f88b0" fill-opacity="0.85"/><circle cx="65.2" cy="112.4" r="0.5" fill="#4f88b0" fill-opacity="0.85"/><circle cx="62.4" cy="108.5" r="0.5" fill="#5f94b8" fill-opacity="0.85"/><circle cx="59.6" cy="112.0" r="0.5" fill="#4f88b0" fill-opacity="0.85"/><circle cx="63.9" cy="105.4" r="0.5" fill="#1f5f88" fill-opacity="0.85"/><circle cx="65.5" cy="108.9" r="0.5" fill="#4f88b0" fill-opacity="0.85"/><circle cx="63.8" cy="114.1" r="0.5" fill="#4f88b0" fill-opacity="0.85"/><circle cx="71.7" cy="116.9" r="0.5" fill="#5f94b8" fill-opacity="0.85"/><circle cx="69.5" cy="104.8" r="0.5" fill="#5f94b8" fill-opacity="0.85"/><circle cx="73.7" cy="107.4" r="0.5" fill="#1f5f88" fill-opacity="0.85"/><circle cx="61.0" cy="108.3" r="0.5" fill="#1f5f88" fill-opacity="0.85"/><circle cx="68.4" cy="118.4" r="0.5" fill="#5f94b8" fill-opacity="0.85"/><circle cx="62.6" cy="108.4" r="0.5" fill="#4f88b0" fill-opacity="0.85"/><circle cx="68.7" cy="105.3" r="0.5" fill="#1f5f88" fill-opacity="0.85"/><circle cx="63.5" cy="105.6" r="0.5" fill="#1f5f88" fill-opacity="0.85"/><circle cx="69.3" cy="110.4" r="0.5" fill="#1f5f88" fill-opacity="0.85"/><circle cx="73.6" cy="109.4" r="0.5" fill="#4f88b0" fill-opacity="0.85"/><circle cx="66.4" cy="105.6" r="0.5" fill="#1f5f88" fill-opacity="0.85"/><circle cx="64.1" cy="114.2" r="0.5" fill="#1f5f88" fill-opacity="0.85"/><circle cx="70.6" cy="117.8" r="0.5" fill="#5f94b8" fill-opacity="0.85"/><circle cx="62.4" cy="108.4" r="0.5" fill="#1f5f88" fill-opacity="0.85"/><circle cx="66.4" cy="117.2" r="0.5" fill="#5f94b8" fill-opacity="0.85"/><circle cx="64.4" cy="111.6" r="0.5" fill="#5f94b8" fill-opacity="0.85"/><circle cx="68.3" cy="110.8" r="0.5" fill="#5f94b8" fill-opacity="0.85"/><circle cx="61.8" cy="114.8" r="0.5" fill="#1f5f88" fill-opacity="0.85"/><circle cx="72.1" cy="110.3" r="0.5" fill="#5f94b8" fill-opacity="0.85"/><circle cx="60.9" cy="108.7" r="0.5" fill="#5f94b8" fill-opacity="0.85"/><circle cx="59.8" cy="113.3" r="0.5" fill="#1f5f88" fill-opacity="0.85"/><circle cx="65.9" cy="107.6" r="0.5" fill="#1f5f88" fill-opacity="0.85"/><circle cx="66.3" cy="106.6" r="0.5" fill="#1f5f88" fill-opacity="0.85"/><circle cx="67.6" cy="118.8" r="0.5" fill="#5f94b8" fill-opacity="0.85"/><circle cx="69.2" cy="116.6" r="0.5" fill="#4f88b0" fill-opacity="0.85"/><circle cx="73.2" cy="105.5" r="0.5" fill="#1f5f88" fill-opacity="0.85"/><circle cx="73.8" cy="109.6" r="0.5" fill="#1f5f88" fill-opacity="0.85"/><circle cx="65.2" cy="116.7" r="0.5" fill="#1f5f88" fill-opacity="0.85"/><circle cx="71.1" cy="110.9" r="0.5" fill="#1f5f88" fill-opacity="0.85"/><circle cx="63.9" cy="107.0" r="0.5" fill="#4f88b0" fill-opacity="0.85"/><circle cx="66.0" cy="113.2" r="0.5" fill="#1f5f88" fill-opacity="0.85"/><circle cx="60.5" cy="109.7" r="0.5" fill="#4f88b0" fill-opacity="0.85"/><circle cx="72.6" cy="113.8" r="0.5" fill="#4f88b0" fill-opacity="0.85"/><circle cx="70.4" cy="117.0" r="0.5" fill="#5f94b8" fill-opacity="0.85"/><circle cx="67.2" cy="117.4" r="0.5" fill="#5f94b8" fill-opacity="0.85"/><circle cx="63.7" cy="109.1" r="0.5" fill="#5f94b8" fill-opacity="0.85"/><circle cx="64.4" cy="116.6" r="0.5" fill="#4f88b0" fill-opacity="0.85"/><circle cx="59.2" cy="111.5" r="0.5" fill="#1f5f88" fill-opacity="0.85"/><circle cx="66.7" cy="107.2" r="0.5" fill="#4f88b0" fill-opacity="0.85"/><circle cx="75.7" cy="109.0" r="0.5" fill="#1f5f88" fill-opacity="0.85"/><circle cx="62.2" cy="110.9" r="0.5" fill="#4f88b0" fill-opacity="0.85"/><circle cx="70.6" cy="115.3" r="0.5" fill="#4f88b0" fill-opacity="0.85"/><circle cx="75.5" cy="108.8" r="0.5" fill="#4f88b0" fill-opacity="0.85"/><circle cx="74.0" cy="113.5" r="0.5" fill="#5f94b8" fill-opacity="0.85"/><circle cx="68.6" cy="117.7" r="0.5" fill="#1f5f88" fill-opacity="0.85"/><circle cx="72.0" cy="107.9" r="0.5" fill="#4f88b0" fill-opacity="0.85"/><circle cx="71.9" cy="108.7" r="0.5" fill="#1f5f88" fill-opacity="0.85"/><circle cx="88.6" cy="54.6" r="0.5" fill="#1f5f88" fill-opacity="0.85"/><circle cx="96.2" cy="55.2" r="0.5" fill="#1f5f88" fill-opacity="0.85"/><circle cx="96.3" cy="56.3" r="0.5" fill="#4f88b0" fill-opacity="0.85"/><circle cx="91.0" cy="52.7" r="0.5" fill="#1f5f88" fill-opacity="0.85"/><circle cx="92.1" cy="54.2" r="0.5" fill="#4f88b0" fill-opacity="0.85"/><circle cx="91.8" cy="46.9" r="0.5" fill="#4f88b0" fill-opacity="0.85"/><circle cx="97.1" cy="49.4" r="0.5" fill="#4f88b0" fill-opacity="0.85"/><circle cx="97.5" cy="51.6" r="0.5" fill="#4f88b0" fill-opacity="0.85"/><circle cx="93.4" cy="49.5" r="0.5" fill="#1f5f88" fill-opacity="0.85"/><circle cx="90.6" cy="48.8" r="0.5" fill="#4f88b0" fill-opacity="0.85"/><circle cx="96.3" cy="55.5" r="0.5" fill="#1f5f88" fill-opacity="0.85"/><circle cx="91.8" cy="54.1" r="0.5" fill="#4f88b0" fill-opacity="0.85"/><circle cx="90.0" cy="48.2" r="0.5" fill="#4f88b0" fill-opacity="0.85"/><circle cx="91.0" cy="53.6" r="0.5" fill="#4f88b0" fill-opacity="0.85"/><circle cx="89.8" cy="54.7" r="0.5" fill="#4f88b0" fill-opacity="0.85"/><circle cx="95.3" cy="47.5" r="0.5" fill="#1f5f88" fill-opacity="0.85"/><circle cx="89.1" cy="51.0" r="0.5" fill="#1f5f88" fill-opacity="0.85"/><circle cx="94.5" cy="46.3" r="0.5" fill="#4f88b0" fill-opacity="0.85"/><circle cx="93.3" cy="55.6" r="0.5" fill="#4f88b0" fill-opacity="0.85"/><circle cx="94.3" cy="53.6" r="0.5" fill="#1f5f88" fill-opacity="0.85"/><circle cx="95.6" cy="50.2" r="0.5" fill="#1f5f88" fill-opacity="0.85"/><circle cx="96.3" cy="53.1" r="0.5" fill="#1f5f88" fill-opacity="0.85"/><circle cx="93.0" cy="47.8" r="0.5" fill="#4f88b0" fill-opacity="0.85"/><circle cx="93.6" cy="56.2" r="0.5" fill="#1f5f88" fill-opacity="0.85"/><circle cx="88.9" cy="54.5" r="0.5" fill="#1f5f88" fill-opacity="0.85"/><circle cx="91.2" cy="57.0" r="0.5" fill="#4f88b0" fill-opacity="0.85"/><circle cx="93.9" cy="49.3" r="0.5" fill="#4f88b0" fill-opacity="0.85"/><circle cx="93.7" cy="45.6" r="0.5" fill="#4f88b0" fill-opacity="0.85"/><circle cx="97.4" cy="55.7" r="0.5" fill="#1f5f88" fill-opacity="0.85"/><circle cx="91.6" cy="48.6" r="0.5" fill="#1f5f88" fill-opacity="0.85"/><circle cx="91.2" cy="56.8" r="0.5" fill="#1f5f88" fill-opacity="0.85"/><circle cx="93.4" cy="47.9" r="0.5" fill="#1f5f88" fill-opacity="0.85"/><circle cx="90.4" cy="54.1" r="0.5" fill="#1f5f88" fill-opacity="0.85"/><circle cx="91.5" cy="55.7" r="0.5" fill="#4f88b0" fill-opacity="0.85"/><circle cx="97.2" cy="54.4" r="0.5" fill="#4f88b0" fill-opacity="0.85"/><path d="M43 50.5 L46.8 51.3 L45.5 55.5 L42.5 54Z" fill="#5f8fae" fill-opacity="0.8"/></g>
<path d="M131.85 123.30 V48.20 M131.85 123.30 H207.50" stroke="#000" stroke-width="1.25" fill="none"/>
<path d="M131.85 42.70 L135.05 49.70 L131.85 48.20 L128.65 49.70Z" fill="#000"/>
<path d="M213.00 123.30 L206.00 120.10 L207.50 123.30 L206.00 126.50Z" fill="#000"/>
<text x="137.40" y="31.70" font-size="9.7" fill="#222" text-anchor="start" textLength="69.50" lengthAdjust="spacingAndGlyphs">Cell cycle phases</text>
<text x="136.40" y="134.60" font-size="8.9" fill="#333" text-anchor="start" textLength="24.60" lengthAdjust="spacingAndGlyphs">UMAP 1</text>
<text x="126.50" y="119.40" font-size="8.9" fill="#333" text-anchor="start" textLength="25.70" lengthAdjust="spacingAndGlyphs" transform="rotate(-90 126.50 119.40)">UMAP 2</text>
<circle cx="156.7" cy="144.9" r="2.1" fill="#2d5f7e"/>
<text x="162.20" y="147.20" font-size="6.8" fill="#333" text-anchor="start" textLength="8.60" lengthAdjust="spacingAndGlyphs">G1</text>
<circle cx="156.7" cy="153.2" r="2.1" fill="#a5cdc6"/>
<text x="162.20" y="155.50" font-size="6.8" fill="#333" text-anchor="start" textLength="4.20" lengthAdjust="spacingAndGlyphs">S</text>
<circle cx="156.7" cy="161.8" r="2.1" fill="#9a7886"/>
<text x="162.20" y="164.10" font-size="6.8" fill="#333" text-anchor="start" textLength="15.10" lengthAdjust="spacingAndGlyphs">G2M</text>
<defs><linearGradient id="vir" x1="0" y1="1" x2="0" y2="0"><stop offset="0" stop-color="#440154"/><stop offset="0.25" stop-color="#3b528b"/><stop offset="0.5" stop-color="#21918c"/><stop offset="0.75" stop-color="#5ec962"/><stop offset="1" stop-color="#fde725"/></linearGradient></defs>
<rect x="240.2" y="47.8" width="7.5" height="34.2" fill="url(#vir)"/>
<text x="238.30" y="42.80" font-size="6.8" fill="#555" text-anchor="start" textLength="13.40" lengthAdjust="spacingAndGlyphs">High</text>
<text x="238.30" y="91.60" font-size="6.8" fill="#555" text-anchor="start" textLength="11.90" lengthAdjust="spacingAndGlyphs">Low</text>
<text x="236.60" y="81.50" font-size="7" fill="#555" text-anchor="start" textLength="34.00" lengthAdjust="spacingAndGlyphs" transform="rotate(-90 236.60 81.50)">Expression</text>
<rect x="254.60" y="35.60" width="53" height="54.7" fill="none" stroke="#e4e4e4" stroke-width="0.8"/>
<text x="266.90" y="31.80" font-size="9.8" fill="#222" text-anchor="start" textLength="29.20" lengthAdjust="spacingAndGlyphs">CDC20</text>
<rect x="308.20" y="35.60" width="53" height="54.7" fill="none" stroke="#e4e4e4" stroke-width="0.8"/>
<text x="322.30" y="31.80" font-size="9.8" fill="#222" text-anchor="start" textLength="23.30" lengthAdjust="spacingAndGlyphs">CDK1</text>
<rect x="254.60" y="103.00" width="53" height="54.0" fill="none" stroke="#e4e4e4" stroke-width="0.8"/>
<text x="268.40" y="100.10" font-size="9.8" fill="#222" text-anchor="start" textLength="25.70" lengthAdjust="spacingAndGlyphs">MKI67</text>
<rect x="308.20" y="103.00" width="53" height="54.0" fill="none" stroke="#e4e4e4" stroke-width="0.8"/>
<text x="321.70" y="100.10" font-size="9.8" fill="#222" text-anchor="start" textLength="25.30" lengthAdjust="spacingAndGlyphs">PCNA</text>
<g transform="translate(240.24 13.00) scale(0.659 0.613)"><defs><linearGradient id="gc1" x1="0" y1="48" x2="0" y2="101" gradientUnits="userSpaceOnUse"><stop offset="0" stop-color="#3c4f80"/><stop offset="0.12" stop-color="#33657f"/><stop offset="0.22" stop-color="#2b828c"/><stop offset="0.6" stop-color="#29878d"/><stop offset="0.85" stop-color="#2a8a8c"/><stop offset="1" stop-color="#2b7f8c"/></linearGradient></defs><path d="M35.80 48.00 C37.93 47.33 45.67 49.67 47.30 51.00 C48.93 52.33 46.18 54.50 45.60 56.00 C45.02 57.50 44.43 58.50 43.80 60.00 C43.17 61.50 42.40 63.33 41.80 65.00 C41.20 66.67 40.57 68.42 40.20 70.00 C39.83 71.58 39.83 73.08 39.60 74.50 C39.37 75.92 39.03 77.25 38.80 78.50 C38.57 79.75 38.08 80.83 38.20 82.00 C38.32 83.17 38.87 84.47 39.50 85.50 C40.13 86.53 41.38 87.12 42.00 88.20 C42.62 89.28 43.10 90.57 43.20 92.00 C43.30 93.43 43.17 95.37 42.60 96.80 C42.03 98.23 40.83 99.93 39.80 100.60 C38.77 101.27 37.40 101.18 36.40 100.80 C35.40 100.42 34.53 99.35 33.80 98.30 C33.07 97.25 32.70 95.72 32.00 94.50 C31.30 93.28 30.50 92.17 29.60 91.00 C28.70 89.83 27.43 88.75 26.60 87.50 C25.77 86.25 25.00 85.08 24.60 83.50 C24.20 81.92 24.10 79.83 24.20 78.00 C24.30 76.17 24.60 74.08 25.20 72.50 C25.80 70.92 26.83 69.75 27.80 68.50 C28.77 67.25 30.10 66.33 31.00 65.00 C31.90 63.67 32.62 62.17 33.20 60.50 C33.78 58.83 34.07 57.08 34.50 55.00 C34.93 52.92 33.67 48.67 35.80 48.00Z" fill="url(#gc1)"/><path d="M43.8 55 Q43.4 64 44.2 72 Q45 80 46 88" stroke="#40306f" stroke-width="2.8" fill="none"/><path d="M38.6 84 Q41 87.5 44.5 88.5 L45.5 94 Q42.5 97 41 98 Z" fill="#40306f" fill-opacity="0.85"/><path d="M47.30 86.19 C48.43 85.89 50.12 86.00 51.20 86.58 C52.28 87.17 53.30 88.47 53.80 89.70 C54.30 90.94 54.45 92.62 54.19 93.99 C53.93 95.35 53.17 97.09 52.24 97.89 C51.31 98.69 49.79 98.93 48.60 98.80 C47.41 98.67 45.93 98.13 45.09 97.11 C44.24 96.09 43.64 94.14 43.53 92.69 C43.42 91.24 43.81 89.48 44.44 88.40 C45.07 87.32 46.17 86.49 47.30 86.19Z" fill="#431a62"/><path d="M60.32 107.24 C61.24 106.57 62.69 106.10 63.85 105.75 C65.01 105.39 66.02 105.14 67.27 105.10 C68.52 105.07 70.12 105.21 71.34 105.53 C72.55 105.85 73.83 106.24 74.55 107.03 C75.26 107.81 75.51 109.08 75.62 110.24 C75.72 111.40 75.54 112.77 75.19 113.98 C74.83 115.20 74.26 116.43 73.48 117.52 C72.69 118.60 71.60 119.98 70.48 120.51 C69.36 121.05 67.98 120.96 66.73 120.73 C65.49 120.49 64.15 119.80 62.99 119.12 C61.83 118.44 60.78 117.71 59.78 116.66 C58.78 115.61 57.25 113.95 57.00 112.81 C56.75 111.67 57.73 110.74 58.28 109.81 C58.83 108.88 59.39 107.92 60.32 107.24Z" fill="#46145f"/><path d="M90.40 45.50 C90.96 45.06 92.10 44.97 93.03 44.97 C93.95 44.97 95.30 45.10 95.97 45.50 C96.63 45.90 96.67 46.66 97.02 47.39 C97.36 48.12 97.85 48.88 98.06 49.91 C98.28 50.94 98.38 52.45 98.28 53.59 C98.17 54.72 97.96 55.93 97.44 56.73 C96.91 57.54 96.03 58.12 95.12 58.41 C94.22 58.71 92.85 58.71 91.97 58.52 C91.10 58.33 90.49 57.78 89.88 57.26 C89.26 56.73 88.89 55.90 88.30 55.37 C87.70 54.85 86.29 54.56 86.30 54.11 C86.32 53.66 87.91 53.34 88.41 52.64 C88.90 51.94 89.04 50.75 89.25 49.91 C89.45 49.07 89.47 48.33 89.66 47.60 C89.86 46.86 89.84 45.94 90.40 45.50Z" fill="#46145f"/><path d="M50 109.4 L54 110.2 L57.5 111.5" stroke="#2f8f8c" stroke-width="2.0" fill="none"/><circle cx="50.3" cy="109.4" r="1.5" fill="#2f8f8c"/><circle cx="34.6" cy="77.6" r="0.75" fill="#1fa088" fill-opacity="0.9"/><circle cx="35.9" cy="79.0" r="0.75" fill="#1fa088" fill-opacity="0.9"/><circle cx="28.5" cy="75.0" r="0.75" fill="#3b528b" fill-opacity="0.9"/><circle cx="38.8" cy="89.9" r="0.75" fill="#3b528b" fill-opacity="0.9"/><circle cx="40.2" cy="50.2" r="0.75" fill="#3b2f6b" fill-opacity="0.9"/><circle cx="36.4" cy="51.1" r="0.75" fill="#1fa088" fill-opacity="0.9"/><circle cx="34.4" cy="92.5" r="0.75" fill="#3b528b" fill-opacity="0.9"/><circle cx="36.2" cy="81.8" r="0.75" fill="#1fa088" fill-opacity="0.9"/><circle cx="35.7" cy="83.0" r="0.75" fill="#3b528b" fill-opacity="0.9"/><circle cx="34.8" cy="62.7" r="0.75" fill="#3b528b" fill-opacity="0.9"/><circle cx="25.9" cy="81.2" r="0.75" fill="#1fa088" fill-opacity="0.9"/><circle cx="42.2" cy="62.2" r="0.75" fill="#3b528b" fill-opacity="0.9"/><circle cx="42.6" cy="57.4" r="0.75" fill="#2c5f8a" fill-opacity="0.9"/><circle cx="37.1" cy="71.6" r="0.75" fill="#3b528b" fill-opacity="0.9"/><circle cx="28.6" cy="86.6" r="0.75" fill="#1fa088" fill-opacity="0.9"/><circle cx="27.2" cy="82.0" r="0.75" fill="#1fa088" fill-opacity="0.9"/><circle cx="26.9" cy="70.2" r="0.75" fill="#3b528b" fill-opacity="0.9"/><circle cx="29.1" cy="68.8" r="0.75" fill="#1fa088" fill-opacity="0.9"/><circle cx="26.3" cy="78.8" r="0.75" fill="#3b528b" fill-opacity="0.9"/><circle cx="29.8" cy="79.7" r="0.75" fill="#ffffff" fill-opacity="0.9"/><circle cx="32.8" cy="71.9" r="0.75" fill="#ffffff" fill-opacity="0.9"/><circle cx="37.5" cy="93.8" r="0.75" fill="#3b528b" fill-opacity="0.9"/><circle cx="41.3" cy="97.7" r="0.75" fill="#3b528b" fill-opacity="0.9"/><circle cx="29.7" cy="85.2" r="0.75" fill="#3b528b" fill-opacity="0.9"/><circle cx="30.1" cy="91.5" r="0.75" fill="#3b528b" fill-opacity="0.9"/><circle cx="38.0" cy="63.5" r="0.75" fill="#3b528b" fill-opacity="0.9"/><circle cx="28.3" cy="86.0" r="0.75" fill="#3b528b" fill-opacity="0.9"/><circle cx="37.1" cy="93.0" r="0.75" fill="#1fa088" fill-opacity="0.9"/><circle cx="38.4" cy="62.8" r="0.75" fill="#ffffff" fill-opacity="0.9"/><circle cx="37.4" cy="54.9" r="0.75" fill="#2c5f8a" fill-opacity="0.9"/><circle cx="32.6" cy="95.0" r="0.75" fill="#1fa088" fill-opacity="0.9"/><circle cx="40.4" cy="98.8" r="0.75" fill="#3b528b" fill-opacity="0.9"/><circle cx="24.7" cy="81.6" r="0.75" fill="#1fa088" fill-opacity="0.9"/><circle cx="35.3" cy="86.6" r="0.75" fill="#1fa088" fill-opacity="0.9"/><circle cx="25.9" cy="76.8" r="0.75" fill="#1fa088" fill-opacity="0.9"/><circle cx="41.2" cy="95.5" r="0.75" fill="#3b528b" fill-opacity="0.9"/><circle cx="42.5" cy="96.3" r="0.75" fill="#3b528b" fill-opacity="0.9"/><circle cx="32.3" cy="84.2" r="0.75" fill="#3b528b" fill-opacity="0.9"/><circle cx="33.8" cy="89.7" r="0.75" fill="#1fa088" fill-opacity="0.9"/><circle cx="38.6" cy="68.2" r="0.75" fill="#1fa088" fill-opacity="0.9"/><circle cx="37.7" cy="80.1" r="0.75" fill="#3b528b" fill-opacity="0.9"/><circle cx="26.1" cy="81.8" r="0.75" fill="#3b528b" fill-opacity="0.9"/><circle cx="34.4" cy="92.3" r="0.75" fill="#3b528b" fill-opacity="0.9"/><circle cx="24.9" cy="79.7" r="0.75" fill="#ffffff" fill-opacity="0.9"/><circle cx="35.3" cy="60.2" r="0.75" fill="#3b528b" fill-opacity="0.9"/><circle cx="38.4" cy="96.6" r="0.75" fill="#1fa088" fill-opacity="0.9"/><circle cx="31.2" cy="83.8" r="0.75" fill="#3b528b" fill-opacity="0.9"/><circle cx="34.4" cy="95.1" r="0.75" fill="#1fa088" fill-opacity="0.9"/><circle cx="31.8" cy="83.2" r="0.75" fill="#3b528b" fill-opacity="0.9"/><circle cx="28.8" cy="70.8" r="0.75" fill="#3b528b" fill-opacity="0.9"/><circle cx="37.7" cy="64.7" r="0.75" fill="#3b528b" fill-opacity="0.9"/><circle cx="27.3" cy="74.2" r="0.75" fill="#3b528b" fill-opacity="0.9"/><circle cx="40.6" cy="98.2" r="0.75" fill="#3b528b" fill-opacity="0.9"/><circle cx="34.6" cy="62.5" r="0.75" fill="#1fa088" fill-opacity="0.9"/><circle cx="29.1" cy="69.9" r="0.75" fill="#1fa088" fill-opacity="0.9"/><circle cx="38.7" cy="74.1" r="0.75" fill="#1fa088" fill-opacity="0.9"/><circle cx="31.5" cy="92.3" r="0.75" fill="#1fa088" fill-opacity="0.9"/><circle cx="31.3" cy="89.8" r="0.75" fill="#1fa088" fill-opacity="0.9"/><circle cx="43.4" cy="60.5" r="0.75" fill="#2c5f8a" fill-opacity="0.9"/><circle cx="38.7" cy="71.6" r="0.75" fill="#3b528b" fill-opacity="0.9"/><circle cx="40.0" cy="58.5" r="0.75" fill="#2c5f8a" fill-opacity="0.9"/><circle cx="35.2" cy="57.4" r="0.75" fill="#ffffff" fill-opacity="0.9"/><circle cx="40.7" cy="57.5" r="0.75" fill="#2c5f8a" fill-opacity="0.9"/><circle cx="30.5" cy="66.3" r="0.75" fill="#3b528b" fill-opacity="0.9"/><circle cx="38.4" cy="87.9" r="0.75" fill="#1fa088" fill-opacity="0.9"/><circle cx="33.3" cy="89.8" r="0.75" fill="#1fa088" fill-opacity="0.9"/><circle cx="45.1" cy="52.6" r="0.75" fill="#3b2f6b" fill-opacity="0.9"/><circle cx="27.2" cy="71.9" r="0.75" fill="#ffffff" fill-opacity="0.9"/><circle cx="38.7" cy="96.0" r="0.75" fill="#1fa088" fill-opacity="0.9"/><circle cx="32.9" cy="78.0" r="0.75" fill="#3b528b" fill-opacity="0.9"/><circle cx="39.2" cy="58.8" r="0.75" fill="#3b2f6b" fill-opacity="0.9"/><circle cx="40.9" cy="91.2" r="0.75" fill="#3b528b" fill-opacity="0.9"/><circle cx="39.0" cy="85.9" r="0.75" fill="#3b528b" fill-opacity="0.9"/><circle cx="36.6" cy="89.8" r="0.75" fill="#1fa088" fill-opacity="0.9"/><circle cx="26.1" cy="71.3" r="0.75" fill="#1fa088" fill-opacity="0.9"/><circle cx="36.9" cy="88.6" r="0.75" fill="#3b528b" fill-opacity="0.9"/><circle cx="42.9" cy="51.4" r="0.75" fill="#2c5f8a" fill-opacity="0.9"/><circle cx="42.7" cy="57.1" r="0.75" fill="#3b2f6b" fill-opacity="0.9"/><circle cx="31.9" cy="89.6" r="0.75" fill="#1fa088" fill-opacity="0.9"/><circle cx="36.1" cy="86.2" r="0.75" fill="#3b528b" fill-opacity="0.9"/><circle cx="46.1" cy="52.5" r="0.75" fill="#3b2f6b" fill-opacity="0.9"/><circle cx="29.3" cy="75.8" r="0.75" fill="#3b528b" fill-opacity="0.9"/><circle cx="30.9" cy="86.5" r="0.75" fill="#3b528b" fill-opacity="0.9"/><circle cx="39.0" cy="75.6" r="0.75" fill="#1fa088" fill-opacity="0.9"/><circle cx="31.4" cy="68.1" r="0.75" fill="#3b528b" fill-opacity="0.9"/><circle cx="37.4" cy="58.6" r="0.75" fill="#3b2f6b" fill-opacity="0.9"/><circle cx="36.6" cy="74.6" r="0.75" fill="#1fa088" fill-opacity="0.9"/><circle cx="38.2" cy="49.5" r="0.75" fill="#2c5f8a" fill-opacity="0.9"/><circle cx="33.5" cy="90.3" r="0.75" fill="#3b528b" fill-opacity="0.9"/><circle cx="37.2" cy="73.9" r="0.75" fill="#3b528b" fill-opacity="0.9"/><circle cx="40.2" cy="51.5" r="0.75" fill="#3b2f6b" fill-opacity="0.9"/><circle cx="36.6" cy="69.8" r="0.75" fill="#3b528b" fill-opacity="0.9"/><circle cx="30.4" cy="73.0" r="0.75" fill="#3b528b" fill-opacity="0.9"/><circle cx="27.1" cy="70.9" r="0.75" fill="#3b528b" fill-opacity="0.9"/><circle cx="35.2" cy="64.7" r="0.75" fill="#3b528b" fill-opacity="0.9"/><circle cx="28.6" cy="80.6" r="0.75" fill="#3b528b" fill-opacity="0.9"/><circle cx="45.6" cy="54.8" r="0.75" fill="#3b2f6b" fill-opacity="0.9"/><circle cx="40.1" cy="65.0" r="0.75" fill="#1fa088" fill-opacity="0.9"/><circle cx="32.4" cy="80.7" r="0.75" fill="#1fa088" fill-opacity="0.9"/><circle cx="26.6" cy="86.6" r="0.75" fill="#3b528b" fill-opacity="0.9"/><circle cx="27.0" cy="75.0" r="0.75" fill="#3b528b" fill-opacity="0.9"/><circle cx="36.5" cy="71.1" r="0.75" fill="#3b528b" fill-opacity="0.9"/><circle cx="32.9" cy="69.8" r="0.75" fill="#3b528b" fill-opacity="0.9"/><circle cx="36.4" cy="56.4" r="0.75" fill="#3b528b" fill-opacity="0.9"/><circle cx="28.9" cy="81.3" r="0.75" fill="#3b528b" fill-opacity="0.9"/><circle cx="38.9" cy="76.0" r="0.75" fill="#3b528b" fill-opacity="0.9"/><circle cx="41.3" cy="90.8" r="0.75" fill="#1fa088" fill-opacity="0.9"/><circle cx="44.7" cy="55.1" r="0.75" fill="#3b2f6b" fill-opacity="0.9"/><circle cx="29.7" cy="86.4" r="0.75" fill="#3b528b" fill-opacity="0.9"/><circle cx="42.4" cy="54.7" r="0.75" fill="#2c5f8a" fill-opacity="0.9"/><circle cx="64.5" cy="115.8" r="0.8" fill="#5a1f6e" fill-opacity="0.85"/><circle cx="58.8" cy="114.0" r="0.8" fill="#3a1558" fill-opacity="0.85"/><circle cx="59.1" cy="113.0" r="0.8" fill="#3a1558" fill-opacity="0.85"/><circle cx="66.4" cy="115.8" r="0.8" fill="#5a1f6e" fill-opacity="0.85"/><circle cx="71.9" cy="112.6" r="0.8" fill="#5a1f6e" fill-opacity="0.85"/><circle cx="57.7" cy="113.7" r="0.8" fill="#3a1558" fill-opacity="0.85"/><circle cx="74.7" cy="112.3" r="0.8" fill="#5a1f6e" fill-opacity="0.85"/><circle cx="63.1" cy="112.4" r="0.8" fill="#3a1558" fill-opacity="0.85"/><circle cx="65.0" cy="114.5" r="0.8" fill="#5a1f6e" fill-opacity="0.85"/><circle cx="68.8" cy="105.7" r="0.8" fill="#5a1f6e" fill-opacity="0.85"/><circle cx="60.4" cy="112.2" r="0.8" fill="#3a1558" fill-opacity="0.85"/><circle cx="64.5" cy="108.2" r="0.8" fill="#5a1f6e" fill-opacity="0.85"/><circle cx="63.0" cy="106.4" r="0.8" fill="#3a1558" fill-opacity="0.85"/><circle cx="67.6" cy="108.1" r="0.8" fill="#3a1558" fill-opacity="0.85"/><circle cx="72.0" cy="109.1" r="0.8" fill="#5a1f6e" fill-opacity="0.85"/><circle cx="70.9" cy="117.3" r="0.8" fill="#3a1558" fill-opacity="0.85"/><circle cx="59.5" cy="110.3" r="0.8" fill="#3a1558" fill-opacity="0.85"/><circle cx="71.3" cy="117.1" r="0.8" fill="#3a1558" fill-opacity="0.85"/><circle cx="60.8" cy="108.0" r="0.8" fill="#3a1558" fill-opacity="0.85"/><circle cx="62.6" cy="106.7" r="0.8" fill="#3a1558" fill-opacity="0.85"/><circle cx="74.9" cy="109.8" r="0.8" fill="#5a1f6e" fill-opacity="0.85"/><circle cx="69.3" cy="114.0" r="0.8" fill="#5a1f6e" fill-opacity="0.85"/><circle cx="69.0" cy="116.1" r="0.8" fill="#3a1558" fill-opacity="0.85"/><circle cx="68.5" cy="116.6" r="0.8" fill="#3a1558" fill-opacity="0.85"/><circle cx="65.3" cy="113.0" r="0.8" fill="#5a1f6e" fill-opacity="0.85"/><circle cx="61.8" cy="109.4" r="0.8" fill="#3a1558" fill-opacity="0.85"/><circle cx="67.2" cy="113.0" r="0.8" fill="#5a1f6e" fill-opacity="0.85"/><circle cx="68.9" cy="117.7" r="0.8" fill="#5a1f6e" fill-opacity="0.85"/><circle cx="67.2" cy="115.5" r="0.8" fill="#5a1f6e" fill-opacity="0.85"/><circle cx="72.9" cy="113.6" r="0.8" fill="#5a1f6e" fill-opacity="0.85"/></g>
<g transform="translate(293.84 13.00) scale(0.659 0.613)"><defs><linearGradient id="gc2" x1="0" y1="48" x2="0" y2="101" gradientUnits="userSpaceOnUse"><stop offset="0" stop-color="#3c4f80"/><stop offset="0.12" stop-color="#33657f"/><stop offset="0.22" stop-color="#2b828c"/><stop offset="0.6" stop-color="#29878d"/><stop offset="0.85" stop-color="#2a8a8c"/><stop offset="1" stop-color="#2b7f8c"/></linearGradient></defs><path d="M35.80 48.00 C37.93 47.33 45.67 49.67 47.30 51.00 C48.93 52.33 46.18 54.50 45.60 56.00 C45.02 57.50 44.43 58.50 43.80 60.00 C43.17 61.50 42.40 63.33 41.80 65.00 C41.20 66.67 40.57 68.42 40.20 70.00 C39.83 71.58 39.83 73.08 39.60 74.50 C39.37 75.92 39.03 77.25 38.80 78.50 C38.57 79.75 38.08 80.83 38.20 82.00 C38.32 83.17 38.87 84.47 39.50 85.50 C40.13 86.53 41.38 87.12 42.00 88.20 C42.62 89.28 43.10 90.57 43.20 92.00 C43.30 93.43 43.17 95.37 42.60 96.80 C42.03 98.23 40.83 99.93 39.80 100.60 C38.77 101.27 37.40 101.18 36.40 100.80 C35.40 100.42 34.53 99.35 33.80 98.30 C33.07 97.25 32.70 95.72 32.00 94.50 C31.30 93.28 30.50 92.17 29.60 91.00 C28.70 89.83 27.43 88.75 26.60 87.50 C25.77 86.25 25.00 85.08 24.60 83.50 C24.20 81.92 24.10 79.83 24.20 78.00 C24.30 76.17 24.60 74.08 25.20 72.50 C25.80 70.92 26.83 69.75 27.80 68.50 C28.77 67.25 30.10 66.33 31.00 65.00 C31.90 63.67 32.62 62.17 33.20 60.50 C33.78 58.83 34.07 57.08 34.50 55.00 C34.93 52.92 33.67 48.67 35.80 48.00Z" fill="url(#gc2)"/><path d="M43.8 55 Q43.4 64 44.2 72 Q45 80 46 88" stroke="#40306f" stroke-width="2.8" fill="none"/><path d="M38.6 84 Q41 87.5 44.5 88.5 L45.5 94 Q42.5 97 41 98 Z" fill="#40306f" fill-opacity="0.85"/><path d="M47.30 86.19 C48.43 85.89 50.12 86.00 51.20 86.58 C52.28 87.17 53.30 88.47 53.80 89.70 C54.30 90.94 54.45 92.62 54.19 93.99 C53.93 95.35 53.17 97.09 52.24 97.89 C51.31 98.69 49.79 98.93 48.60 98.80 C47.41 98.67 45.93 98.13 45.09 97.11 C44.24 96.09 43.64 94.14 43.53 92.69 C43.42 91.24 43.81 89.48 44.44 88.40 C45.07 87.32 46.17 86.49 47.30 86.19Z" fill="#431a62"/><path d="M60.32 107.24 C61.24 106.57 62.69 106.10 63.85 105.75 C65.01 105.39 66.02 105.14 67.27 105.10 C68.52 105.07 70.12 105.21 71.34 105.53 C72.55 105.85 73.83 106.24 74.55 107.03 C75.26 107.81 75.51 109.08 75.62 110.24 C75.72 111.40 75.54 112.77 75.19 113.98 C74.83 115.20 74.26 116.43 73.48 117.52 C72.69 118.60 71.60 119.98 70.48 120.51 C69.36 121.05 67.98 120.96 66.73 120.73 C65.49 120.49 64.15 119.80 62.99 119.12 C61.83 118.44 60.78 117.71 59.78 116.66 C58.78 115.61 57.25 113.95 57.00 112.81 C56.75 111.67 57.73 110.74 58.28 109.81 C58.83 108.88 59.39 107.92 60.32 107.24Z" fill="#46145f"/><path d="M90.40 45.50 C90.96 45.06 92.10 44.97 93.03 44.97 C93.95 44.97 95.30 45.10 95.97 45.50 C96.63 45.90 96.67 46.66 97.02 47.39 C97.36 48.12 97.85 48.88 98.06 49.91 C98.28 50.94 98.38 52.45 98.28 53.59 C98.17 54.72 97.96 55.93 97.44 56.73 C96.91 57.54 96.03 58.12 95.12 58.41 C94.22 58.71 92.85 58.71 91.97 58.52 C91.10 58.33 90.49 57.78 89.88 57.26 C89.26 56.73 88.89 55.90 88.30 55.37 C87.70 54.85 86.29 54.56 86.30 54.11 C86.32 53.66 87.91 53.34 88.41 52.64 C88.90 51.94 89.04 50.75 89.25 49.91 C89.45 49.07 89.47 48.33 89.66 47.60 C89.86 46.86 89.84 45.94 90.40 45.50Z" fill="#46145f"/><path d="M50 109.4 L54 110.2 L57.5 111.5" stroke="#2f8f8c" stroke-width="2.0" fill="none"/><circle cx="50.3" cy="109.4" r="1.5" fill="#2f8f8c"/><circle cx="35.2" cy="82.7" r="0.75" fill="#1fa088" fill-opacity="0.9"/><circle cx="39.6" cy="55.5" r="0.75" fill="#3b2f6b" fill-opacity="0.9"/><circle cx="30.5" cy="90.8" r="0.75" fill="#3b528b" fill-opacity="0.9"/><circle cx="37.1" cy="82.9" r="0.75" fill="#3b528b" fill-opacity="0.9"/><circle cx="27.6" cy="71.2" r="0.75" fill="#3b528b" fill-opacity="0.9"/><circle cx="25.9" cy="84.3" r="0.75" fill="#3b528b" fill-opacity="0.9"/><circle cx="32.0" cy="69.4" r="0.75" fill="#1fa088" fill-opacity="0.9"/><circle cx="36.0" cy="52.8" r="0.75" fill="#1fa088" fill-opacity="0.9"/><circle cx="26.8" cy="70.3" r="0.75" fill="#1fa088" fill-opacity="0.9"/><circle cx="38.6" cy="56.6" r="0.75" fill="#3b2f6b" fill-opacity="0.9"/><circle cx="40.3" cy="50.7" r="0.75" fill="#3b2f6b" fill-opacity="0.9"/><circle cx="33.5" cy="70.1" r="0.75" fill="#1fa088" fill-opacity="0.9"/><circle cx="38.0" cy="73.2" r="0.75" fill="#1fa088" fill-opacity="0.9"/><circle cx="32.4" cy="67.2" r="0.75" fill="#3b528b" fill-opacity="0.9"/><circle cx="32.6" cy="75.0" r="0.75" fill="#1fa088" fill-opacity="0.9"/><circle cx="34.1" cy="75.4" r="0.75" fill="#ffffff" fill-opacity="0.9"/><circle cx="29.3" cy="70.6" r="0.75" fill="#3b528b" fill-opacity="0.9"/><circle cx="33.2" cy="88.8" r="0.75" fill="#1fa088" fill-opacity="0.9"/><circle cx="26.6" cy="77.0" r="0.75" fill="#1fa088" fill-opacity="0.9"/><circle cx="28.3" cy="84.7" r="0.75" fill="#1fa088" fill-opacity="0.9"/><circle cx="32.2" cy="81.6" r="0.75" fill="#1fa088" fill-opacity="0.9"/><circle cx="25.4" cy="72.2" r="0.75" fill="#3b528b" fill-opacity="0.9"/><circle cx="35.2" cy="98.6" r="0.75" fill="#3b528b" fill-opacity="0.9"/><circle cx="35.3" cy="98.5" r="0.75" fill="#3b528b" fill-opacity="0.9"/><circle cx="41.5" cy="96.2" r="0.75" fill="#3b528b" fill-opacity="0.9"/><circle cx="25.1" cy="80.7" r="0.75" fill="#1fa088" fill-opacity="0.9"/><circle cx="35.8" cy="49.3" r="0.75" fill="#1fa088" fill-opacity="0.9"/><circle cx="31.6" cy="89.6" r="0.75" fill="#1fa088" fill-opacity="0.9"/><circle cx="29.5" cy="75.8" r="0.75" fill="#1fa088" fill-opacity="0.9"/><circle cx="35.2" cy="81.1" r="0.75" fill="#1fa088" fill-opacity="0.9"/><circle cx="44.9" cy="56.6" r="0.75" fill="#3b2f6b" fill-opacity="0.9"/><circle cx="36.1" cy="84.7" r="0.75" fill="#1fa088" fill-opacity="0.9"/><circle cx="40.5" cy="59.3" r="0.75" fill="#3b2f6b" fill-opacity="0.9"/><circle cx="33.9" cy="60.7" r="0.75" fill="#1fa088" fill-opacity="0.9"/><circle cx="37.1" cy="81.0" r="0.75" fill="#3b528b" fill-opacity="0.9"/><circle cx="37.8" cy="95.6" r="0.75" fill="#1fa088" fill-opacity="0.9"/><circle cx="32.2" cy="67.5" r="0.75" fill="#1fa088" fill-opacity="0.9"/><circle cx="36.6" cy="89.7" r="0.75" fill="#3b528b" fill-opacity="0.9"/><circle cx="32.4" cy="64.5" r="0.75" fill="#3b528b" fill-opacity="0.9"/><circle cx="36.7" cy="80.8" r="0.75" fill="#3b528b" fill-opacity="0.9"/><circle cx="27.1" cy="76.2" r="0.75" fill="#1fa088" fill-opacity="0.9"/><circle cx="40.4" cy="68.8" r="0.75" fill="#1fa088" fill-opacity="0.9"/><circle cx="29.9" cy="69.5" r="0.75" fill="#3b528b" fill-opacity="0.9"/><circle cx="31.7" cy="84.2" r="0.75" fill="#3b528b" fill-opacity="0.9"/><circle cx="31.4" cy="84.7" r="0.75" fill="#3b528b" fill-opacity="0.9"/><circle cx="34.4" cy="57.5" r="0.75" fill="#1fa088" fill-opacity="0.9"/><circle cx="39.6" cy="66.0" r="0.75" fill="#3b528b" fill-opacity="0.9"/><circle cx="32.5" cy="62.8" r="0.75" fill="#3b528b" fill-opacity="0.9"/><circle cx="28.9" cy="70.8" r="0.75" fill="#1fa088" fill-opacity="0.9"/><circle cx="35.8" cy="84.9" r="0.75" fill="#ffffff" fill-opacity="0.9"/><circle cx="28.0" cy="72.5" r="0.75" fill="#3b528b" fill-opacity="0.9"/><circle cx="38.2" cy="92.5" r="0.75" fill="#3b528b" fill-opacity="0.9"/><circle cx="30.0" cy="72.3" r="0.75" fill="#1fa088" fill-opacity="0.9"/><circle cx="29.5" cy="76.4" r="0.75" fill="#1fa088" fill-opacity="0.9"/><circle cx="39.9" cy="66.5" r="0.75" fill="#1fa088" fill-opacity="0.9"/><circle cx="41.1" cy="65.0" r="0.75" fill="#3b528b" fill-opacity="0.9"/><circle cx="35.7" cy="67.1" r="0.75" fill="#3b528b" fill-opacity="0.9"/><circle cx="29.4" cy="76.7" r="0.75" fill="#3b528b" fill-opacity="0.9"/><circle cx="33.2" cy="94.1" r="0.75" fill="#1fa088" fill-opacity="0.9"/><circle cx="27.1" cy="81.8" r="0.75" fill="#1fa088" fill-opacity="0.9"/><circle cx="38.5" cy="61.9" r="0.75" fill="#3b2f6b" fill-opacity="0.9"/><circle cx="33.6" cy="68.0" r="0.75" fill="#ffffff" fill-opacity="0.9"/><circle cx="33.1" cy="69.1" r="0.75" fill="#3b528b" fill-opacity="0.9"/><circle cx="42.8" cy="57.0" r="0.75" fill="#2c5f8a" fill-opacity="0.9"/><circle cx="32.5" cy="86.8" r="0.75" fill="#3b528b" fill-opacity="0.9"/><circle cx="28.0" cy="85.8" r="0.75" fill="#3b528b" fill-opacity="0.9"/><circle cx="26.6" cy="84.2" r="0.75" fill="#1fa088" fill-opacity="0.9"/><circle cx="36.6" cy="71.7" r="0.75" fill="#1fa088" fill-opacity="0.9"/><circle cx="36.4" cy="82.4" r="0.75" fill="#3b528b" fill-opacity="0.9"/><circle cx="38.9" cy="72.7" r="0.75" fill="#ffffff" fill-opacity="0.9"/><circle cx="38.8" cy="68.5" r="0.75" fill="#3b528b" fill-opacity="0.9"/><circle cx="33.8" cy="75.3" r="0.75" fill="#3b528b" fill-opacity="0.9"/><circle cx="40.7" cy="62.7" r="0.75" fill="#1fa088" fill-opacity="0.9"/><circle cx="34.1" cy="69.4" r="0.75" fill="#3b528b" fill-opacity="0.9"/><circle cx="38.2" cy="87.8" r="0.75" fill="#1fa088" fill-opacity="0.9"/><circle cx="43.6" cy="54.8" r="0.75" fill="#2c5f8a" fill-opacity="0.9"/><circle cx="26.8" cy="84.2" r="0.75" fill="#3b528b" fill-opacity="0.9"/><circle cx="38.4" cy="99.0" r="0.75" fill="#3b528b" fill-opacity="0.9"/><circle cx="35.2" cy="58.9" r="0.75" fill="#1fa088" fill-opacity="0.9"/><circle cx="36.7" cy="64.7" r="0.75" fill="#3b528b" fill-opacity="0.9"/><circle cx="38.2" cy="98.3" r="0.75" fill="#1fa088" fill-opacity="0.9"/><circle cx="38.1" cy="83.3" r="0.75" fill="#3b528b" fill-opacity="0.9"/><circle cx="35.3" cy="86.6" r="0.75" fill="#3b528b" fill-opacity="0.9"/><circle cx="32.0" cy="68.1" r="0.75" fill="#1fa088" fill-opacity="0.9"/><circle cx="35.4" cy="58.3" r="0.75" fill="#3b528b" fill-opacity="0.9"/><circle cx="38.6" cy="76.3" r="0.75" fill="#1fa088" fill-opacity="0.9"/><circle cx="33.1" cy="80.3" r="0.75" fill="#3b528b" fill-opacity="0.9"/><circle cx="27.1" cy="76.6" r="0.75" fill="#3b528b" fill-opacity="0.9"/><circle cx="30.0" cy="70.1" r="0.75" fill="#3b528b" fill-opacity="0.9"/><circle cx="26.6" cy="86.9" r="0.75" fill="#3b528b" fill-opacity="0.9"/><circle cx="38.8" cy="57.1" r="0.75" fill="#2c5f8a" fill-opacity="0.9"/><circle cx="36.9" cy="79.5" r="0.75" fill="#1fa088" fill-opacity="0.9"/><circle cx="37.5" cy="68.0" r="0.75" fill="#3b528b" fill-opacity="0.9"/><circle cx="31.4" cy="66.7" r="0.75" fill="#3b528b" fill-opacity="0.9"/><circle cx="35.8" cy="72.3" r="0.75" fill="#3b528b" fill-opacity="0.9"/><circle cx="28.2" cy="69.1" r="0.75" fill="#1fa088" fill-opacity="0.9"/><circle cx="32.7" cy="66.5" r="0.75" fill="#3b528b" fill-opacity="0.9"/><circle cx="31.9" cy="82.7" r="0.75" fill="#ffffff" fill-opacity="0.9"/><circle cx="33.4" cy="75.2" r="0.75" fill="#3b528b" fill-opacity="0.9"/><circle cx="39.2" cy="51.9" r="0.75" fill="#3b2f6b" fill-opacity="0.9"/><circle cx="39.7" cy="53.3" r="0.75" fill="#2c5f8a" fill-opacity="0.9"/><circle cx="30.0" cy="90.8" r="0.75" fill="#1fa088" fill-opacity="0.9"/><circle cx="28.2" cy="71.1" r="0.75" fill="#1fa088" fill-opacity="0.9"/><circle cx="30.7" cy="92.4" r="0.75" fill="#1fa088" fill-opacity="0.9"/><circle cx="37.8" cy="73.3" r="0.75" fill="#1fa088" fill-opacity="0.9"/><circle cx="34.9" cy="67.0" r="0.75" fill="#3b528b" fill-opacity="0.9"/><circle cx="40.7" cy="87.7" r="0.75" fill="#3b528b" fill-opacity="0.9"/><circle cx="29.7" cy="75.8" r="0.75" fill="#1fa088" fill-opacity="0.9"/><circle cx="40.7" cy="66.8" r="0.75" fill="#1fa088" fill-opacity="0.9"/><circle cx="45.0" cy="56.0" r="0.75" fill="#3b2f6b" fill-opacity="0.9"/><circle cx="72.6" cy="111.7" r="0.8" fill="#3a1558" fill-opacity="0.85"/><circle cx="60.3" cy="111.7" r="0.8" fill="#5a1f6e" fill-opacity="0.85"/><circle cx="59.6" cy="112.2" r="0.8" fill="#3a1558" fill-opacity="0.85"/><circle cx="61.6" cy="108.4" r="0.8" fill="#3a1558" fill-opacity="0.85"/><circle cx="66.5" cy="109.9" r="0.8" fill="#5a1f6e" fill-opacity="0.85"/><circle cx="74.4" cy="107.4" r="0.8" fill="#5a1f6e" fill-opacity="0.85"/><circle cx="64.1" cy="113.4" r="0.8" fill="#3a1558" fill-opacity="0.85"/><circle cx="74.3" cy="113.4" r="0.8" fill="#3a1558" fill-opacity="0.85"/><circle cx="71.6" cy="107.1" r="0.8" fill="#5a1f6e" fill-opacity="0.85"/><circle cx="71.2" cy="113.7" r="0.8" fill="#5a1f6e" fill-opacity="0.85"/><circle cx="61.9" cy="113.4" r="0.8" fill="#3a1558" fill-opacity="0.85"/><circle cx="59.0" cy="114.7" r="0.8" fill="#5a1f6e" fill-opacity="0.85"/><circle cx="75.0" cy="114.0" r="0.8" fill="#5a1f6e" fill-opacity="0.85"/><circle cx="66.2" cy="110.7" r="0.8" fill="#3a1558" fill-opacity="0.85"/><circle cx="58.6" cy="113.6" r="0.8" fill="#3a1558" fill-opacity="0.85"/><circle cx="67.5" cy="118.3" r="0.8" fill="#3a1558" fill-opacity="0.85"/><circle cx="67.1" cy="118.3" r="0.8" fill="#3a1558" fill-opacity="0.85"/><circle cx="64.7" cy="107.3" r="0.8" fill="#3a1558" fill-opacity="0.85"/><circle cx="71.8" cy="113.3" r="0.8" fill="#3a1558" fill-opacity="0.85"/><circle cx="64.6" cy="117.6" r="0.8" fill="#3a1558" fill-opacity="0.85"/><circle cx="66.8" cy="117.2" r="0.8" fill="#5a1f6e" fill-opacity="0.85"/><circle cx="73.2" cy="115.3" r="0.8" fill="#3a1558" fill-opacity="0.85"/><circle cx="69.9" cy="110.5" r="0.8" fill="#5a1f6e" fill-opacity="0.85"/><circle cx="72.4" cy="106.9" r="0.8" fill="#5a1f6e" fill-opacity="0.85"/><circle cx="71.6" cy="113.0" r="0.8" fill="#5a1f6e" fill-opacity="0.85"/><circle cx="61.2" cy="111.4" r="0.8" fill="#5a1f6e" fill-opacity="0.85"/><circle cx="62.3" cy="114.0" r="0.8" fill="#3a1558" fill-opacity="0.85"/><circle cx="71.0" cy="118.0" r="0.8" fill="#5a1f6e" fill-opacity="0.85"/><circle cx="62.3" cy="116.9" r="0.8" fill="#3a1558" fill-opacity="0.85"/><circle cx="74.3" cy="110.6" r="0.8" fill="#3a1558" fill-opacity="0.85"/></g>
<g transform="translate(240.24 80.40) scale(0.659 0.613)"><defs><linearGradient id="gc3" x1="0" y1="48" x2="0" y2="101" gradientUnits="userSpaceOnUse"><stop offset="0" stop-color="#2e5f86"/><stop offset="0.15" stop-color="#2a7a8e"/><stop offset="0.5" stop-color="#25858d"/><stop offset="0.72" stop-color="#22a085"/><stop offset="1" stop-color="#38b579"/></linearGradient></defs><path d="M35.80 48.00 C37.93 47.33 45.67 49.67 47.30 51.00 C48.93 52.33 46.18 54.50 45.60 56.00 C45.02 57.50 44.43 58.50 43.80 60.00 C43.17 61.50 42.40 63.33 41.80 65.00 C41.20 66.67 40.57 68.42 40.20 70.00 C39.83 71.58 39.83 73.08 39.60 74.50 C39.37 75.92 39.03 77.25 38.80 78.50 C38.57 79.75 38.08 80.83 38.20 82.00 C38.32 83.17 38.87 84.47 39.50 85.50 C40.13 86.53 41.38 87.12 42.00 88.20 C42.62 89.28 43.10 90.57 43.20 92.00 C43.30 93.43 43.17 95.37 42.60 96.80 C42.03 98.23 40.83 99.93 39.80 100.60 C38.77 101.27 37.40 101.18 36.40 100.80 C35.40 100.42 34.53 99.35 33.80 98.30 C33.07 97.25 32.70 95.72 32.00 94.50 C31.30 93.28 30.50 92.17 29.60 91.00 C28.70 89.83 27.43 88.75 26.60 87.50 C25.77 86.25 25.00 85.08 24.60 83.50 C24.20 81.92 24.10 79.83 24.20 78.00 C24.30 76.17 24.60 74.08 25.20 72.50 C25.80 70.92 26.83 69.75 27.80 68.50 C28.77 67.25 30.10 66.33 31.00 65.00 C31.90 63.67 32.62 62.17 33.20 60.50 C33.78 58.83 34.07 57.08 34.50 55.00 C34.93 52.92 33.67 48.67 35.80 48.00Z" fill="url(#gc3)"/><path d="M43.8 55 Q43.4 64 44.2 72 Q45 80 46 88" stroke="#40306f" stroke-width="2.8" fill="none"/><path d="M38.6 84 Q41 87.5 44.5 88.5 L45.5 94 Q42.5 97 41 98 Z" fill="#40306f" fill-opacity="0.85"/><path d="M47.30 86.19 C48.43 85.89 50.12 86.00 51.20 86.58 C52.28 87.17 53.30 88.47 53.80 89.70 C54.30 90.94 54.45 92.62 54.19 93.99 C53.93 95.35 53.17 97.09 52.24 97.89 C51.31 98.69 49.79 98.93 48.60 98.80 C47.41 98.67 45.93 98.13 45.09 97.11 C44.24 96.09 43.64 94.14 43.53 92.69 C43.42 91.24 43.81 89.48 44.44 88.40 C45.07 87.32 46.17 86.49 47.30 86.19Z" fill="#3f2868"/><path d="M60.32 107.24 C61.24 106.57 62.69 106.10 63.85 105.75 C65.01 105.39 66.02 105.14 67.27 105.10 C68.52 105.07 70.12 105.21 71.34 105.53 C72.55 105.85 73.83 106.24 74.55 107.03 C75.26 107.81 75.51 109.08 75.62 110.24 C75.72 111.40 75.54 112.77 75.19 113.98 C74.83 115.20 74.26 116.43 73.48 117.52 C72.69 118.60 71.60 119.98 70.48 120.51 C69.36 121.05 67.98 120.96 66.73 120.73 C65.49 120.49 64.15 119.80 62.99 119.12 C61.83 118.44 60.78 117.71 59.78 116.66 C58.78 115.61 57.25 113.95 57.00 112.81 C56.75 111.67 57.73 110.74 58.28 109.81 C58.83 108.88 59.39 107.92 60.32 107.24Z" fill="#46145f"/><path d="M90.40 45.50 C90.96 45.06 92.10 44.97 93.03 44.97 C93.95 44.97 95.30 45.10 95.97 45.50 C96.63 45.90 96.67 46.66 97.02 47.39 C97.36 48.12 97.85 48.88 98.06 49.91 C98.28 50.94 98.38 52.45 98.28 53.59 C98.17 54.72 97.96 55.93 97.44 56.73 C96.91 57.54 96.03 58.12 95.12 58.41 C94.22 58.71 92.85 58.71 91.97 58.52 C91.10 58.33 90.49 57.78 89.88 57.26 C89.26 56.73 88.89 55.90 88.30 55.37 C87.70 54.85 86.29 54.56 86.30 54.11 C86.32 53.66 87.91 53.34 88.41 52.64 C88.90 51.94 89.04 50.75 89.25 49.91 C89.45 49.07 89.47 48.33 89.66 47.60 C89.86 46.86 89.84 45.94 90.40 45.50Z" fill="#46145f"/><path d="M50 109.4 L54 110.2 L57.5 111.5" stroke="#86d05a" stroke-width="2.0" fill="none"/><circle cx="50.3" cy="109.4" r="1.5" fill="#86d05a"/><circle cx="30.2" cy="84.2" r="0.75" fill="#35b779" fill-opacity="0.9"/><circle cx="40.0" cy="92.8" r="0.75" fill="#21918c" fill-opacity="0.9"/><circle cx="41.2" cy="54.9" r="0.75" fill="#3b2f6b" fill-opacity="0.9"/><circle cx="36.5" cy="59.3" r="0.75" fill="#3b528b" fill-opacity="0.9"/><circle cx="31.0" cy="70.8" r="0.75" fill="#3b528b" fill-opacity="0.9"/><circle cx="35.4" cy="87.9" r="0.75" fill="#ffffff" fill-opacity="0.9"/><circle cx="37.2" cy="70.7" r="0.75" fill="#3b528b" fill-opacity="0.9"/><circle cx="32.6" cy="70.7" r="0.75" fill="#3b528b" fill-opacity="0.9"/><circle cx="37.0" cy="87.5" r="0.75" fill="#35b779" fill-opacity="0.9"/><circle cx="27.3" cy="83.7" r="0.75" fill="#21918c" fill-opacity="0.9"/><circle cx="34.4" cy="57.3" r="0.75" fill="#21918c" fill-opacity="0.9"/><circle cx="28.9" cy="75.6" r="0.75" fill="#3b528b" fill-opacity="0.9"/><circle cx="30.1" cy="72.3" r="0.75" fill="#3b528b" fill-opacity="0.9"/><circle cx="38.2" cy="68.9" r="0.75" fill="#21918c" fill-opacity="0.9"/><circle cx="27.2" cy="73.9" r="0.75" fill="#21918c" fill-opacity="0.9"/><circle cx="25.9" cy="82.4" r="0.75" fill="#21918c" fill-opacity="0.9"/><circle cx="40.8" cy="97.3" r="0.75" fill="#ffffff" fill-opacity="0.9"/><circle cx="42.8" cy="92.3" r="0.75" fill="#35b779" fill-opacity="0.9"/><circle cx="39.0" cy="56.4" r="0.75" fill="#3b2f6b" fill-opacity="0.9"/><circle cx="33.8" cy="93.8" r="0.75" fill="#35b779" fill-opacity="0.9"/><circle cx="32.9" cy="85.8" r="0.75" fill="#21918c" fill-opacity="0.9"/><circle cx="38.1" cy="86.2" r="0.75" fill="#21918c" fill-opacity="0.9"/><circle cx="29.1" cy="80.6" r="0.75" fill="#35b779" fill-opacity="0.9"/><circle cx="37.6" cy="79.2" r="0.75" fill="#ffffff" fill-opacity="0.9"/><circle cx="32.5" cy="86.4" r="0.75" fill="#21918c" fill-opacity="0.9"/><circle cx="32.1" cy="63.6" r="0.75" fill="#21918c" fill-opacity="0.9"/><circle cx="28.0" cy="84.1" r="0.75" fill="#35b779" fill-opacity="0.9"/><circle cx="25.8" cy="82.0" r="0.75" fill="#ffffff" fill-opacity="0.9"/><circle cx="37.0" cy="76.7" r="0.75" fill="#ffffff" fill-opacity="0.9"/><circle cx="30.4" cy="79.5" r="0.75" fill="#3b528b" fill-opacity="0.9"/><circle cx="26.0" cy="72.8" r="0.75" fill="#21918c" fill-opacity="0.9"/><circle cx="32.7" cy="92.1" r="0.75" fill="#21918c" fill-opacity="0.9"/><circle cx="35.7" cy="99.2" r="0.75" fill="#35b779" fill-opacity="0.9"/><circle cx="36.1" cy="73.0" r="0.75" fill="#21918c" fill-opacity="0.9"/><circle cx="39.7" cy="63.7" r="0.75" fill="#3b528b" fill-opacity="0.9"/><circle cx="24.9" cy="74.5" r="0.75" fill="#3b528b" fill-opacity="0.9"/><circle cx="30.2" cy="84.1" r="0.75" fill="#35b779" fill-opacity="0.9"/><circle cx="37.8" cy="66.8" r="0.75" fill="#21918c" fill-opacity="0.9"/><circle cx="42.1" cy="58.1" r="0.75" fill="#3b2f6b" fill-opacity="0.9"/><circle cx="35.3" cy="77.3" r="0.75" fill="#21918c" fill-opacity="0.9"/><circle cx="31.9" cy="63.3" r="0.75" fill="#3b528b" fill-opacity="0.9"/><circle cx="44.1" cy="53.9" r="0.75" fill="#3b2f6b" fill-opacity="0.9"/><circle cx="43.2" cy="59.5" r="0.75" fill="#3b2f6b" fill-opacity="0.9"/><circle cx="31.2" cy="68.5" r="0.75" fill="#21918c" fill-opacity="0.9"/><circle cx="32.5" cy="71.3" r="0.75" fill="#21918c" fill-opacity="0.9"/><circle cx="25.2" cy="76.3" r="0.75" fill="#21918c" fill-opacity="0.9"/><circle cx="36.8" cy="54.6" r="0.75" fill="#21918c" fill-opacity="0.9"/><circle cx="44.3" cy="55.9" r="0.75" fill="#3b2f6b" fill-opacity="0.9"/><circle cx="35.3" cy="67.6" r="0.75" fill="#3b528b" fill-opacity="0.9"/><circle cx="32.2" cy="90.3" r="0.75" fill="#35b779" fill-opacity="0.9"/><circle cx="29.1" cy="85.9" r="0.75" fill="#35b779" fill-opacity="0.9"/><circle cx="39.6" cy="97.4" r="0.75" fill="#35b779" fill-opacity="0.9"/><circle cx="36.2" cy="96.6" r="0.75" fill="#21918c" fill-opacity="0.9"/><circle cx="34.4" cy="78.3" r="0.75" fill="#3b528b" fill-opacity="0.9"/><circle cx="38.5" cy="92.3" r="0.75" fill="#21918c" fill-opacity="0.9"/><circle cx="44.9" cy="54.1" r="0.75" fill="#3b2f6b" fill-opacity="0.9"/><circle cx="27.4" cy="76.2" r="0.75" fill="#21918c" fill-opacity="0.9"/><circle cx="41.0" cy="53.7" r="0.75" fill="#3b2f6b" fill-opacity="0.9"/><circle cx="40.7" cy="93.7" r="0.75" fill="#35b779" fill-opacity="0.9"/><circle cx="34.0" cy="80.8" r="0.75" fill="#35b779" fill-opacity="0.9"/><circle cx="30.9" cy="88.2" r="0.75" fill="#35b779" fill-opacity="0.9"/><circle cx="30.4" cy="89.4" r="0.75" fill="#35b779" fill-opacity="0.9"/><circle cx="35.4" cy="61.8" r="0.75" fill="#21918c" fill-opacity="0.9"/><circle cx="34.9" cy="95.6" r="0.75" fill="#21918c" fill-opacity="0.9"/><circle cx="36.6" cy="58.2" r="0.75" fill="#3b528b" fill-opacity="0.9"/><circle cx="32.9" cy="73.1" r="0.75" fill="#3b528b" fill-opacity="0.9"/><circle cx="28.6" cy="78.3" r="0.75" fill="#21918c" fill-opacity="0.9"/><circle cx="37.8" cy="64.2" r="0.75" fill="#3b528b" fill-opacity="0.9"/><circle cx="36.2" cy="92.1" r="0.75" fill="#21918c" fill-opacity="0.9"/><circle cx="29.2" cy="87.4" r="0.75" fill="#35b779" fill-opacity="0.9"/><circle cx="39.2" cy="70.6" r="0.75" fill="#3b528b" fill-opacity="0.9"/><circle cx="44.1" cy="55.6" r="0.75" fill="#3b2f6b" fill-opacity="0.9"/><circle cx="43.6" cy="56.1" r="0.75" fill="#3b2f6b" fill-opacity="0.9"/><circle cx="25.4" cy="74.4" r="0.75" fill="#21918c" fill-opacity="0.9"/><circle cx="35.4" cy="80.1" r="0.75" fill="#21918c" fill-opacity="0.9"/><circle cx="29.8" cy="76.0" r="0.75" fill="#21918c" fill-opacity="0.9"/><circle cx="37.8" cy="61.6" r="0.75" fill="#2c5f8a" fill-opacity="0.9"/><circle cx="27.3" cy="86.3" r="0.75" fill="#35b779" fill-opacity="0.9"/><circle cx="38.0" cy="51.0" r="0.75" fill="#3b2f6b" fill-opacity="0.9"/><circle cx="36.0" cy="88.9" r="0.75" fill="#21918c" fill-opacity="0.9"/><circle cx="37.4" cy="69.9" r="0.75" fill="#3b528b" fill-opacity="0.9"/><circle cx="39.7" cy="96.2" r="0.75" fill="#35b779" fill-opacity="0.9"/><circle cx="40.0" cy="67.8" r="0.75" fill="#21918c" fill-opacity="0.9"/><circle cx="26.0" cy="73.3" r="0.75" fill="#3b528b" fill-opacity="0.9"/><circle cx="33.8" cy="91.0" r="0.75" fill="#21918c" fill-opacity="0.9"/><circle cx="34.5" cy="69.7" r="0.75" fill="#3b528b" fill-opacity="0.9"/><circle cx="37.2" cy="87.6" r="0.75" fill="#35b779" fill-opacity="0.9"/><circle cx="46.7" cy="52.7" r="0.75" fill="#2c5f8a" fill-opacity="0.9"/><circle cx="37.3" cy="94.6" r="0.75" fill="#35b779" fill-opacity="0.9"/><circle cx="39.4" cy="85.4" r="0.75" fill="#35b779" fill-opacity="0.9"/><circle cx="40.4" cy="90.1" r="0.75" fill="#35b779" fill-opacity="0.9"/><circle cx="43.9" cy="56.2" r="0.75" fill="#3b2f6b" fill-opacity="0.9"/><circle cx="25.4" cy="80.8" r="0.75" fill="#35b779" fill-opacity="0.9"/><circle cx="36.2" cy="75.5" r="0.75" fill="#3b528b" fill-opacity="0.9"/><circle cx="42.3" cy="57.2" r="0.75" fill="#3b2f6b" fill-opacity="0.9"/><circle cx="33.9" cy="60.9" r="0.75" fill="#3b528b" fill-opacity="0.9"/><circle cx="30.7" cy="78.6" r="0.75" fill="#21918c" fill-opacity="0.9"/><circle cx="37.0" cy="95.9" r="0.75" fill="#21918c" fill-opacity="0.9"/><circle cx="30.7" cy="85.8" r="0.75" fill="#21918c" fill-opacity="0.9"/><circle cx="26.4" cy="82.4" r="0.75" fill="#21918c" fill-opacity="0.9"/><circle cx="42.9" cy="59.6" r="0.75" fill="#3b2f6b" fill-opacity="0.9"/><circle cx="33.9" cy="85.5" r="0.75" fill="#35b779" fill-opacity="0.9"/><circle cx="44.7" cy="52.7" r="0.75" fill="#3b2f6b" fill-opacity="0.9"/><circle cx="32.6" cy="87.7" r="0.75" fill="#21918c" fill-opacity="0.9"/><circle cx="41.4" cy="53.6" r="0.75" fill="#3b2f6b" fill-opacity="0.9"/><circle cx="38.8" cy="97.8" r="0.75" fill="#35b779" fill-opacity="0.9"/><circle cx="36.9" cy="91.2" r="0.75" fill="#35b779" fill-opacity="0.9"/><circle cx="38.5" cy="67.9" r="0.75" fill="#3b528b" fill-opacity="0.9"/><circle cx="32.1" cy="70.7" r="0.75" fill="#21918c" fill-opacity="0.9"/><circle cx="30.8" cy="77.3" r="0.75" fill="#21918c" fill-opacity="0.9"/><circle cx="64.5" cy="118.1" r="0.8" fill="#5a1f6e" fill-opacity="0.85"/><circle cx="71.6" cy="112.0" r="0.8" fill="#3a1558" fill-opacity="0.85"/><circle cx="70.8" cy="119.0" r="0.8" fill="#5a1f6e" fill-opacity="0.85"/><circle cx="67.3" cy="108.0" r="0.8" fill="#5a1f6e" fill-opacity="0.85"/><circle cx="62.1" cy="111.7" r="0.8" fill="#3a1558" fill-opacity="0.85"/><circle cx="64.5" cy="114.7" r="0.8" fill="#3a1558" fill-opacity="0.85"/><circle cx="71.4" cy="111.8" r="0.8" fill="#3a1558" fill-opacity="0.85"/><circle cx="58.1" cy="111.4" r="0.8" fill="#5a1f6e" fill-opacity="0.85"/><circle cx="67.5" cy="111.7" r="0.8" fill="#5a1f6e" fill-opacity="0.85"/><circle cx="66.8" cy="115.8" r="0.8" fill="#3a1558" fill-opacity="0.85"/><circle cx="64.5" cy="118.8" r="0.8" fill="#5a1f6e" fill-opacity="0.85"/><circle cx="73.1" cy="112.2" r="0.8" fill="#3a1558" fill-opacity="0.85"/><circle cx="75.0" cy="114.3" r="0.8" fill="#3a1558" fill-opacity="0.85"/><circle cx="58.5" cy="113.5" r="0.8" fill="#5a1f6e" fill-opacity="0.85"/><circle cx="68.9" cy="108.8" r="0.8" fill="#5a1f6e" fill-opacity="0.85"/><circle cx="67.4" cy="108.3" r="0.8" fill="#3a1558" fill-opacity="0.85"/><circle cx="60.8" cy="116.5" r="0.8" fill="#3a1558" fill-opacity="0.85"/><circle cx="66.8" cy="107.4" r="0.8" fill="#5a1f6e" fill-opacity="0.85"/><circle cx="71.8" cy="116.4" r="0.8" fill="#5a1f6e" fill-opacity="0.85"/><circle cx="60.1" cy="112.5" r="0.8" fill="#5a1f6e" fill-opacity="0.85"/><circle cx="69.4" cy="112.8" r="0.8" fill="#5a1f6e" fill-opacity="0.85"/><circle cx="58.2" cy="114.4" r="0.8" fill="#3a1558" fill-opacity="0.85"/><circle cx="66.8" cy="107.9" r="0.8" fill="#5a1f6e" fill-opacity="0.85"/><circle cx="70.6" cy="111.1" r="0.8" fill="#5a1f6e" fill-opacity="0.85"/><circle cx="70.4" cy="119.0" r="0.8" fill="#3a1558" fill-opacity="0.85"/><circle cx="59.7" cy="114.9" r="0.8" fill="#5a1f6e" fill-opacity="0.85"/><circle cx="67.8" cy="119.8" r="0.8" fill="#5a1f6e" fill-opacity="0.85"/><circle cx="66.4" cy="111.8" r="0.8" fill="#5a1f6e" fill-opacity="0.85"/><circle cx="64.4" cy="111.6" r="0.8" fill="#3a1558" fill-opacity="0.85"/><circle cx="62.3" cy="117.2" r="0.8" fill="#5a1f6e" fill-opacity="0.85"/></g>
<defs><radialGradient id="pcb" cx="0.55" cy="0.5" r="0.55"><stop offset="0" stop-color="#4474a2"/><stop offset="0.5" stop-color="#3a5c92"/><stop offset="1" stop-color="#2c2462"/></radialGradient></defs>
<g transform="translate(293.84 80.40) scale(0.659 0.613)"><defs><linearGradient id="gc4" x1="0" y1="48" x2="0" y2="101" gradientUnits="userSpaceOnUse"><stop offset="0" stop-color="#2f7a8a"/><stop offset="0.2" stop-color="#2d9a86"/><stop offset="0.45" stop-color="#33ad7f"/><stop offset="1" stop-color="#38b479"/></linearGradient></defs><path d="M35.80 48.00 C37.93 47.33 45.67 49.67 47.30 51.00 C48.93 52.33 46.18 54.50 45.60 56.00 C45.02 57.50 44.43 58.50 43.80 60.00 C43.17 61.50 42.40 63.33 41.80 65.00 C41.20 66.67 40.57 68.42 40.20 70.00 C39.83 71.58 39.83 73.08 39.60 74.50 C39.37 75.92 39.03 77.25 38.80 78.50 C38.57 79.75 38.08 80.83 38.20 82.00 C38.32 83.17 38.87 84.47 39.50 85.50 C40.13 86.53 41.38 87.12 42.00 88.20 C42.62 89.28 43.10 90.57 43.20 92.00 C43.30 93.43 43.17 95.37 42.60 96.80 C42.03 98.23 40.83 99.93 39.80 100.60 C38.77 101.27 37.40 101.18 36.40 100.80 C35.40 100.42 34.53 99.35 33.80 98.30 C33.07 97.25 32.70 95.72 32.00 94.50 C31.30 93.28 30.50 92.17 29.60 91.00 C28.70 89.83 27.43 88.75 26.60 87.50 C25.77 86.25 25.00 85.08 24.60 83.50 C24.20 81.92 24.10 79.83 24.20 78.00 C24.30 76.17 24.60 74.08 25.20 72.50 C25.80 70.92 26.83 69.75 27.80 68.50 C28.77 67.25 30.10 66.33 31.00 65.00 C31.90 63.67 32.62 62.17 33.20 60.50 C33.78 58.83 34.07 57.08 34.50 55.00 C34.93 52.92 33.67 48.67 35.80 48.00Z" fill="url(#gc4)"/><path d="M43.8 55 Q43.4 64 44.2 72 Q45 80 46 88" stroke="#3f3e72" stroke-width="2.8" fill="none"/><path d="M38.6 84 Q41 87.5 44.5 88.5 L45.5 94 Q42.5 97 41 98 Z" fill="#3f3e72" fill-opacity="0.85"/><path d="M47.30 86.19 C48.43 85.89 50.12 86.00 51.20 86.58 C52.28 87.17 53.30 88.47 53.80 89.70 C54.30 90.94 54.45 92.62 54.19 93.99 C53.93 95.35 53.17 97.09 52.24 97.89 C51.31 98.69 49.79 98.93 48.60 98.80 C47.41 98.67 45.93 98.13 45.09 97.11 C44.24 96.09 43.64 94.14 43.53 92.69 C43.42 91.24 43.81 89.48 44.44 88.40 C45.07 87.32 46.17 86.49 47.30 86.19Z" fill="#3a3a7a"/><path d="M60.32 107.24 C61.24 106.57 62.69 106.10 63.85 105.75 C65.01 105.39 66.02 105.14 67.27 105.10 C68.52 105.07 70.12 105.21 71.34 105.53 C72.55 105.85 73.83 106.24 74.55 107.03 C75.26 107.81 75.51 109.08 75.62 110.24 C75.72 111.40 75.54 112.77 75.19 113.98 C74.83 115.20 74.26 116.43 73.48 117.52 C72.69 118.60 71.60 119.98 70.48 120.51 C69.36 121.05 67.98 120.96 66.73 120.73 C65.49 120.49 64.15 119.80 62.99 119.12 C61.83 118.44 60.78 117.71 59.78 116.66 C58.78 115.61 57.25 113.95 57.00 112.81 C56.75 111.67 57.73 110.74 58.28 109.81 C58.83 108.88 59.39 107.92 60.32 107.24Z" fill="url(#pcb)"/><path d="M90.40 45.50 C90.96 45.06 92.10 44.97 93.03 44.97 C93.95 44.97 95.30 45.10 95.97 45.50 C96.63 45.90 96.67 46.66 97.02 47.39 C97.36 48.12 97.85 48.88 98.06 49.91 C98.28 50.94 98.38 52.45 98.28 53.59 C98.17 54.72 97.96 55.93 97.44 56.73 C96.91 57.54 96.03 58.12 95.12 58.41 C94.22 58.71 92.85 58.71 91.97 58.52 C91.10 58.33 90.49 57.78 89.88 57.26 C89.26 56.73 88.89 55.90 88.30 55.37 C87.70 54.85 86.29 54.56 86.30 54.11 C86.32 53.66 87.91 53.34 88.41 52.64 C88.90 51.94 89.04 50.75 89.25 49.91 C89.45 49.07 89.47 48.33 89.66 47.60 C89.86 46.86 89.84 45.94 90.40 45.50Z" fill="#46145f"/><path d="M50 109.4 L54 110.2 L57.5 111.5" stroke="#4a6a90" stroke-width="2.0" fill="none"/><circle cx="50.3" cy="109.4" r="1.5" fill="#4a6a90"/><circle cx="26.7" cy="85.1" r="0.75" fill="#21918c" fill-opacity="0.9"/><circle cx="39.3" cy="97.7" r="0.75" fill="#5ec962" fill-opacity="0.9"/><circle cx="31.2" cy="84.1" r="0.75" fill="#21918c" fill-opacity="0.9"/><circle cx="33.4" cy="89.1" r="0.75" fill="#21918c" fill-opacity="0.9"/><circle cx="30.2" cy="90.5" r="0.75" fill="#21918c" fill-opacity="0.9"/><circle cx="38.8" cy="55.9" r="0.75" fill="#3b2f6b" fill-opacity="0.9"/><circle cx="36.9" cy="83.1" r="0.75" fill="#ffffff" fill-opacity="0.9"/><circle cx="28.0" cy="82.4" r="0.75" fill="#5ec962" fill-opacity="0.9"/><circle cx="38.2" cy="94.1" r="0.75" fill="#5ec962" fill-opacity="0.9"/><circle cx="40.1" cy="53.9" r="0.75" fill="#2c5f8a" fill-opacity="0.9"/><circle cx="37.8" cy="81.5" r="0.75" fill="#21918c" fill-opacity="0.9"/><circle cx="28.7" cy="71.9" r="0.75" fill="#21918c" fill-opacity="0.9"/><circle cx="29.2" cy="90.1" r="0.75" fill="#21918c" fill-opacity="0.9"/><circle cx="35.8" cy="53.4" r="0.75" fill="#5ec962" fill-opacity="0.9"/><circle cx="43.1" cy="52.7" r="0.75" fill="#3b2f6b" fill-opacity="0.9"/><circle cx="41.3" cy="54.0" r="0.75" fill="#2c5f8a" fill-opacity="0.9"/><circle cx="36.3" cy="52.9" r="0.75" fill="#5ec962" fill-opacity="0.9"/><circle cx="35.3" cy="84.2" r="0.75" fill="#21918c" fill-opacity="0.9"/><circle cx="36.6" cy="72.0" r="0.75" fill="#21918c" fill-opacity="0.9"/><circle cx="35.4" cy="71.1" r="0.75" fill="#5ec962" fill-opacity="0.9"/><circle cx="38.0" cy="53.0" r="0.75" fill="#21918c" fill-opacity="0.9"/><circle cx="35.2" cy="60.5" r="0.75" fill="#21918c" fill-opacity="0.9"/><circle cx="32.2" cy="78.1" r="0.75" fill="#5ec962" fill-opacity="0.9"/><circle cx="38.7" cy="72.8" r="0.75" fill="#5ec962" fill-opacity="0.9"/><circle cx="30.1" cy="68.5" r="0.75" fill="#5ec962" fill-opacity="0.9"/><circle cx="29.9" cy="79.9" r="0.75" fill="#5ec962" fill-opacity="0.9"/><circle cx="37.2" cy="79.5" r="0.75" fill="#5ec962" fill-opacity="0.9"/><circle cx="35.9" cy="92.4" r="0.75" fill="#21918c" fill-opacity="0.9"/><circle cx="32.7" cy="68.3" r="0.75" fill="#21918c" fill-opacity="0.9"/><circle cx="35.0" cy="65.9" r="0.75" fill="#5ec962" fill-opacity="0.9"/><circle cx="28.8" cy="84.6" r="0.75" fill="#ffffff" fill-opacity="0.9"/><circle cx="34.5" cy="76.8" r="0.75" fill="#5ec962" fill-opacity="0.9"/><circle cx="33.0" cy="89.5" r="0.75" fill="#21918c" fill-opacity="0.9"/><circle cx="30.1" cy="67.5" r="0.75" fill="#5ec962" fill-opacity="0.9"/><circle cx="41.0" cy="55.7" r="0.75" fill="#2c5f8a" fill-opacity="0.9"/><circle cx="39.6" cy="59.7" r="0.75" fill="#2c5f8a" fill-opacity="0.9"/><circle cx="30.3" cy="72.8" r="0.75" fill="#21918c" fill-opacity="0.9"/><circle cx="25.6" cy="83.9" r="0.75" fill="#21918c" fill-opacity="0.9"/><circle cx="45.7" cy="51.6" r="0.75" fill="#2c5f8a" fill-opacity="0.9"/><circle cx="34.6" cy="89.4" r="0.75" fill="#5ec962" fill-opacity="0.9"/><circle cx="35.6" cy="75.9" r="0.75" fill="#5ec962" fill-opacity="0.9"/><circle cx="29.9" cy="84.0" r="0.75" fill="#21918c" fill-opacity="0.9"/><circle cx="33.4" cy="71.5" r="0.75" fill="#21918c" fill-opacity="0.9"/><circle cx="40.5" cy="99.1" r="0.75" fill="#5ec962" fill-opacity="0.9"/><circle cx="36.3" cy="92.1" r="0.75" fill="#5ec962" fill-opacity="0.9"/><circle cx="34.4" cy="95.6" r="0.75" fill="#21918c" fill-opacity="0.9"/><circle cx="37.5" cy="89.9" r="0.75" fill="#5ec962" fill-opacity="0.9"/><circle cx="34.0" cy="83.9" r="0.75" fill="#5ec962" fill-opacity="0.9"/><circle cx="33.2" cy="75.4" r="0.75" fill="#5ec962" fill-opacity="0.9"/><circle cx="37.1" cy="49.5" r="0.75" fill="#21918c" fill-opacity="0.9"/><circle cx="39.2" cy="88.9" r="0.75" fill="#5ec962" fill-opacity="0.9"/><circle cx="34.0" cy="59.9" r="0.75" fill="#21918c" fill-opacity="0.9"/><circle cx="40.5" cy="57.7" r="0.75" fill="#2c5f8a" fill-opacity="0.9"/><circle cx="32.8" cy="84.5" r="0.75" fill="#5ec962" fill-opacity="0.9"/><circle cx="33.1" cy="79.8" r="0.75" fill="#21918c" fill-opacity="0.9"/><circle cx="35.1" cy="87.8" r="0.75" fill="#21918c" fill-opacity="0.9"/><circle cx="32.2" cy="74.3" r="0.75" fill="#5ec962" fill-opacity="0.9"/><circle cx="28.3" cy="81.6" r="0.75" fill="#5ec962" fill-opacity="0.9"/><circle cx="36.5" cy="56.1" r="0.75" fill="#21918c" fill-opacity="0.9"/><circle cx="36.2" cy="84.0" r="0.75" fill="#5ec962" fill-opacity="0.9"/><circle cx="35.4" cy="81.5" r="0.75" fill="#ffffff" fill-opacity="0.9"/><circle cx="37.8" cy="95.7" r="0.75" fill="#21918c" fill-opacity="0.9"/><circle cx="31.3" cy="69.3" r="0.75" fill="#5ec962" fill-opacity="0.9"/><circle cx="35.2" cy="79.9" r="0.75" fill="#21918c" fill-opacity="0.9"/><circle cx="32.3" cy="66.6" r="0.75" fill="#5ec962" fill-opacity="0.9"/><circle cx="32.3" cy="91.2" r="0.75" fill="#21918c" fill-opacity="0.9"/><circle cx="44.9" cy="57.1" r="0.75" fill="#2c5f8a" fill-opacity="0.9"/><circle cx="28.8" cy="89.8" r="0.75" fill="#5ec962" fill-opacity="0.9"/><circle cx="29.4" cy="68.5" r="0.75" fill="#ffffff" fill-opacity="0.9"/><circle cx="37.9" cy="53.9" r="0.75" fill="#21918c" fill-opacity="0.9"/><circle cx="42.0" cy="88.3" r="0.75" fill="#21918c" fill-opacity="0.9"/><circle cx="43.2" cy="60.8" r="0.75" fill="#21918c" fill-opacity="0.9"/><circle cx="37.9" cy="58.9" r="0.75" fill="#5ec962" fill-opacity="0.9"/><circle cx="36.6" cy="87.7" r="0.75" fill="#21918c" fill-opacity="0.9"/><circle cx="32.9" cy="76.1" r="0.75" fill="#5ec962" fill-opacity="0.9"/><circle cx="38.7" cy="91.8" r="0.75" fill="#21918c" fill-opacity="0.9"/><circle cx="26.3" cy="77.4" r="0.75" fill="#5ec962" fill-opacity="0.9"/><circle cx="26.7" cy="73.0" r="0.75" fill="#5ec962" fill-opacity="0.9"/><circle cx="35.1" cy="68.4" r="0.75" fill="#21918c" fill-opacity="0.9"/><circle cx="25.7" cy="83.2" r="0.75" fill="#21918c" fill-opacity="0.9"/><circle cx="30.5" cy="72.0" r="0.75" fill="#5ec962" fill-opacity="0.9"/><circle cx="38.8" cy="50.1" r="0.75" fill="#2c5f8a" fill-opacity="0.9"/><circle cx="36.0" cy="89.3" r="0.75" fill="#21918c" fill-opacity="0.9"/><circle cx="34.0" cy="57.4" r="0.75" fill="#21918c" fill-opacity="0.9"/><circle cx="32.1" cy="91.5" r="0.75" fill="#5ec962" fill-opacity="0.9"/><circle cx="37.1" cy="98.3" r="0.75" fill="#5ec962" fill-opacity="0.9"/><circle cx="40.4" cy="97.9" r="0.75" fill="#21918c" fill-opacity="0.9"/><circle cx="36.7" cy="84.8" r="0.75" fill="#21918c" fill-opacity="0.9"/><circle cx="29.8" cy="81.4" r="0.75" fill="#21918c" fill-opacity="0.9"/><circle cx="39.4" cy="64.4" r="0.75" fill="#5ec962" fill-opacity="0.9"/><circle cx="29.5" cy="90.7" r="0.75" fill="#21918c" fill-opacity="0.9"/><circle cx="35.8" cy="97.9" r="0.75" fill="#5ec962" fill-opacity="0.9"/><circle cx="34.6" cy="60.8" r="0.75" fill="#21918c" fill-opacity="0.9"/><circle cx="34.7" cy="85.5" r="0.75" fill="#21918c" fill-opacity="0.9"/><circle cx="39.0" cy="99.7" r="0.75" fill="#21918c" fill-opacity="0.9"/><circle cx="35.9" cy="96.1" r="0.75" fill="#5ec962" fill-opacity="0.9"/><circle cx="39.0" cy="49.5" r="0.75" fill="#3b2f6b" fill-opacity="0.9"/><circle cx="34.0" cy="63.4" r="0.75" fill="#5ec962" fill-opacity="0.9"/><circle cx="31.7" cy="76.4" r="0.75" fill="#5ec962" fill-opacity="0.9"/><circle cx="34.5" cy="97.5" r="0.75" fill="#21918c" fill-opacity="0.9"/><circle cx="33.1" cy="68.3" r="0.75" fill="#21918c" fill-opacity="0.9"/><circle cx="33.4" cy="60.5" r="0.75" fill="#5ec962" fill-opacity="0.9"/><circle cx="40.5" cy="63.1" r="0.75" fill="#5ec962" fill-opacity="0.9"/><circle cx="36.0" cy="78.2" r="0.75" fill="#5ec962" fill-opacity="0.9"/><circle cx="35.3" cy="98.2" r="0.75" fill="#21918c" fill-opacity="0.9"/><circle cx="32.5" cy="93.4" r="0.75" fill="#5ec962" fill-opacity="0.9"/><circle cx="35.1" cy="87.5" r="0.75" fill="#5ec962" fill-opacity="0.9"/><circle cx="33.2" cy="67.3" r="0.75" fill="#5ec962" fill-opacity="0.9"/><circle cx="30.9" cy="74.1" r="0.75" fill="#21918c" fill-opacity="0.9"/><circle cx="41.0" cy="91.9" r="0.75" fill="#21918c" fill-opacity="0.9"/><circle cx="58.0" cy="111.5" r="0.8" fill="#2a3f7a" fill-opacity="0.85"/><circle cx="68.1" cy="118.7" r="0.8" fill="#2a3f7a" fill-opacity="0.85"/><circle cx="64.2" cy="108.4" r="0.8" fill="#2a3f7a" fill-opacity="0.85"/><circle cx="63.1" cy="113.0" r="0.8" fill="#2a3f7a" fill-opacity="0.85"/><circle cx="70.5" cy="113.8" r="0.8" fill="#2a3f7a" fill-opacity="0.85"/><circle cx="71.1" cy="113.9" r="0.8" fill="#2a3f7a" fill-opacity="0.85"/><circle cx="73.4" cy="110.3" r="0.8" fill="#3a2a6a" fill-opacity="0.85"/><circle cx="68.3" cy="111.6" r="0.8" fill="#4f7fb0" fill-opacity="0.85"/><circle cx="67.1" cy="105.4" r="0.8" fill="#2a3f7a" fill-opacity="0.85"/><circle cx="65.0" cy="114.8" r="0.8" fill="#2a3f7a" fill-opacity="0.85"/><circle cx="72.0" cy="107.1" r="0.8" fill="#4f7fb0" fill-opacity="0.85"/><circle cx="70.5" cy="118.1" r="0.8" fill="#3a2a6a" fill-opacity="0.85"/><circle cx="63.0" cy="109.0" r="0.8" fill="#4f7fb0" fill-opacity="0.85"/><circle cx="64.7" cy="118.8" r="0.8" fill="#3a2a6a" fill-opacity="0.85"/><circle cx="70.9" cy="108.5" r="0.8" fill="#2a3f7a" fill-opacity="0.85"/><circle cx="71.6" cy="112.9" r="0.8" fill="#4f7fb0" fill-opacity="0.85"/><circle cx="58.5" cy="111.2" r="0.8" fill="#4f7fb0" fill-opacity="0.85"/><circle cx="66.8" cy="110.0" r="0.8" fill="#4f7fb0" fill-opacity="0.85"/><circle cx="64.9" cy="113.6" r="0.8" fill="#2a3f7a" fill-opacity="0.85"/><circle cx="66.9" cy="117.4" r="0.8" fill="#2a3f7a" fill-opacity="0.85"/><circle cx="71.2" cy="114.6" r="0.8" fill="#4f7fb0" fill-opacity="0.85"/><circle cx="70.7" cy="114.1" r="0.8" fill="#4f7fb0" fill-opacity="0.85"/><circle cx="64.4" cy="107.0" r="0.8" fill="#3a2a6a" fill-opacity="0.85"/><circle cx="73.7" cy="111.3" r="0.8" fill="#2a3f7a" fill-opacity="0.85"/><circle cx="62.6" cy="118.7" r="0.8" fill="#3a2a6a" fill-opacity="0.85"/><circle cx="63.6" cy="106.1" r="0.8" fill="#4f7fb0" fill-opacity="0.85"/><circle cx="68.8" cy="119.2" r="0.8" fill="#3a2a6a" fill-opacity="0.85"/><circle cx="67.4" cy="120.1" r="0.8" fill="#2a3f7a" fill-opacity="0.85"/><circle cx="68.2" cy="112.1" r="0.8" fill="#4f7fb0" fill-opacity="0.85"/><circle cx="73.5" cy="111.0" r="0.8" fill="#4f7fb0" fill-opacity="0.85"/><path d="M35.2 48 L40.5 49.3 L38.5 53.5 L34.6 52.8Z" fill="#dfe32a"/></g>
<path d="M250.80 161.20 V129.30 M250.80 161.20 H282.90" stroke="#000" stroke-width="1.2" fill="none"/>
<path d="M250.80 124.60 L253.60 130.60 L250.80 129.30 L248.00 130.60Z" fill="#000"/>
<path d="M287.60 161.20 L281.60 158.40 L282.90 161.20 L281.60 164.00Z" fill="#000"/>
<text x="254.00" y="171.00" font-size="8.5" fill="#333" text-anchor="start" textLength="25.00" lengthAdjust="spacingAndGlyphs">UMAP 1</text>
<text x="246.70" y="158.30" font-size="8.5" fill="#333" text-anchor="start" textLength="26.40" lengthAdjust="spacingAndGlyphs" transform="rotate(-90 246.70 158.30)">UMAP 2</text>
<rect x="417.6" y="57.63" width="18.3" height="65.67" fill="#2f6d8d"/>
<rect x="417.6" y="56.70" width="18.3" height="0.93" fill="#cfe3e4"/>
<rect x="442.2" y="115.97" width="18.3" height="7.33" fill="#2f6d8d"/>
<rect x="442.2" y="80.81" width="18.3" height="35.16" fill="#a3cdc8"/>
<rect x="442.2" y="56.70" width="18.3" height="24.11" fill="#a3707b"/>
<rect x="466.5" y="95.79" width="18.3" height="27.51" fill="#2f6d8d"/>
<rect x="466.5" y="81.01" width="18.3" height="14.79" fill="#a3cdc8"/>
<rect x="466.5" y="56.70" width="18.3" height="24.31" fill="#a3707b"/>
<rect x="490.9" y="62.69" width="18.3" height="60.61" fill="#2f6d8d"/>
<rect x="490.9" y="60.83" width="18.3" height="1.86" fill="#a3cdc8"/>
<rect x="490.9" y="56.70" width="18.3" height="4.13" fill="#a3707b"/>
<path d="M414.85 53.8 V123.3 H512.3" stroke="#111" stroke-width="1.1" fill="none"/>
<path d="M412.2 123.30 H414.8" stroke="#111" stroke-width="0.9"/>
<text x="408.10" y="125.50" font-size="6.3" fill="#333" text-anchor="end" textLength="8.80" lengthAdjust="spacingAndGlyphs">0%</text>
<path d="M412.2 109.98 H414.8" stroke="#111" stroke-width="0.9"/>
<text x="408.10" y="112.18" font-size="6.3" fill="#333" text-anchor="end" textLength="12.80" lengthAdjust="spacingAndGlyphs">20%</text>
<path d="M412.2 96.66 H414.8" stroke="#111" stroke-width="0.9"/>
<text x="408.10" y="98.86" font-size="6.3" fill="#333" text-anchor="end" textLength="12.80" lengthAdjust="spacingAndGlyphs">40%</text>
<path d="M412.2 83.34 H414.8" stroke="#111" stroke-width="0.9"/>
<text x="408.10" y="85.54" font-size="6.3" fill="#333" text-anchor="end" textLength="12.80" lengthAdjust="spacingAndGlyphs">60%</text>
<path d="M412.2 70.02 H414.8" stroke="#111" stroke-width="0.9"/>
<text x="408.10" y="72.22" font-size="6.3" fill="#333" text-anchor="end" textLength="12.80" lengthAdjust="spacingAndGlyphs">80%</text>
<path d="M412.2 56.70 H414.8" stroke="#111" stroke-width="0.9"/>
<text x="408.10" y="58.90" font-size="6.3" fill="#333" text-anchor="end" textLength="16.80" lengthAdjust="spacingAndGlyphs">100%</text>
<path d="M426.75 123.3 V126" stroke="#111" stroke-width="0.9"/>
<text x="419.10" y="136.20" font-size="6.8" fill="#333" text-anchor="start" textLength="15.10" lengthAdjust="spacingAndGlyphs">MBC</text>
<path d="M451.35 123.3 V126" stroke="#111" stroke-width="0.9"/>
<text x="441.90" y="136.20" font-size="6.8" fill="#333" text-anchor="start" textLength="18.20" lengthAdjust="spacingAndGlyphs">prePB</text>
<path d="M475.65 123.3 V126" stroke="#111" stroke-width="0.9"/>
<text x="471.60" y="136.20" font-size="6.8" fill="#333" text-anchor="start" textLength="8.10" lengthAdjust="spacingAndGlyphs">PB</text>
<path d="M500.05 123.3 V126" stroke="#111" stroke-width="0.9"/>
<text x="495.80" y="136.20" font-size="6.8" fill="#333" text-anchor="start" textLength="8.50" lengthAdjust="spacingAndGlyphs">PC</text>
<text x="385.80" y="117.90" font-size="8.2" fill="#333" text-anchor="start" textLength="59.20" lengthAdjust="spacingAndGlyphs" transform="rotate(-90 385.80 117.90)">Percentage of cells</text>
<rect x="452.4" y="145.20" width="3.6" height="3.6" fill="#2f6d8d"/>
<text x="459.50" y="149.40" font-size="6.8" fill="#333" text-anchor="start" textLength="9.10" lengthAdjust="spacingAndGlyphs">G1</text>
<rect x="452.4" y="153.50" width="3.6" height="3.6" fill="#a3cdc8"/>
<text x="459.50" y="157.70" font-size="6.8" fill="#333" text-anchor="start" textLength="4.30" lengthAdjust="spacingAndGlyphs">S</text>
<rect x="452.4" y="161.60" width="3.6" height="3.6" fill="#a3707b"/>
<text x="459.50" y="165.80" font-size="6.8" fill="#333" text-anchor="start" textLength="15.50" lengthAdjust="spacingAndGlyphs">G2M</text>
<rect x="218.20" y="235.80" width="18.10" height="13.10" fill="#f4987c"/>
<rect x="236.00" y="235.80" width="17.20" height="13.10" fill="#ec5a3b"/>
<rect x="252.90" y="235.80" width="17.60" height="13.10" fill="#eeebf4"/>
<rect x="270.20" y="235.80" width="17.80" height="13.10" fill="#bcaed8"/>
<rect x="287.70" y="235.80" width="16.80" height="13.10" fill="#bcaed8"/>
<rect x="304.20" y="235.80" width="17.10" height="13.10" fill="#a793cc"/>
<rect x="321.00" y="235.80" width="16.80" height="13.10" fill="#b3a3d4"/>
<text x="198.70" y="244.50" font-size="6.9" fill="#383838" text-anchor="start" textLength="16.30" lengthAdjust="spacingAndGlyphs">PAX5</text>
<rect x="218.20" y="248.60" width="18.10" height="13.90" fill="#fbe6df"/>
<rect x="236.00" y="248.60" width="17.20" height="13.90" fill="#ec5a3b"/>
<rect x="252.90" y="248.60" width="17.60" height="13.90" fill="#5e46a1"/>
<rect x="270.20" y="248.60" width="17.80" height="13.90" fill="#fcebe3"/>
<rect x="287.70" y="248.60" width="16.80" height="13.90" fill="#f5f3f9"/>
<rect x="304.20" y="248.60" width="17.10" height="13.90" fill="#ad9bcf"/>
<rect x="321.00" y="248.60" width="16.80" height="13.90" fill="#e0d8ec"/>
<text x="199.00" y="257.70" font-size="6.9" fill="#383838" text-anchor="start" textLength="16.00" lengthAdjust="spacingAndGlyphs">BCL6</text>
<rect x="218.20" y="262.20" width="18.10" height="12.30" fill="#e0301f"/>
<rect x="236.00" y="262.20" width="17.20" height="12.30" fill="#fbdcd0"/>
<rect x="252.90" y="262.20" width="17.60" height="12.30" fill="#b8aad6"/>
<rect x="270.20" y="262.20" width="17.80" height="12.30" fill="#bcaed8"/>
<rect x="287.70" y="262.20" width="16.80" height="12.30" fill="#c7bcde"/>
<rect x="304.20" y="262.20" width="17.10" height="12.30" fill="#d9cfe8"/>
<rect x="321.00" y="262.20" width="16.80" height="12.30" fill="#c9bee0"/>
<text x="192.30" y="270.65" font-size="6.9" fill="#383838" text-anchor="start" textLength="22.70" lengthAdjust="spacingAndGlyphs">BACH2</text>
<rect x="218.20" y="277.60" width="18.10" height="13.60" fill="#f9c8b5"/>
<rect x="236.00" y="277.60" width="17.20" height="13.60" fill="#ec5b3b"/>
<rect x="252.90" y="277.60" width="17.60" height="13.60" fill="#fad4c4"/>
<rect x="270.20" y="277.60" width="17.80" height="13.60" fill="#bfb2d9"/>
<rect x="287.70" y="277.60" width="16.80" height="13.60" fill="#c8bddf"/>
<rect x="304.20" y="277.60" width="17.10" height="13.60" fill="#a18bc8"/>
<rect x="321.00" y="277.60" width="16.80" height="13.60" fill="#a591ca"/>
<text x="197.30" y="286.55" font-size="6.9" fill="#383838" text-anchor="start" textLength="17.70" lengthAdjust="spacingAndGlyphs">CD19</text>
<rect x="218.20" y="290.90" width="18.10" height="13.20" fill="#ee6848"/>
<rect x="236.00" y="290.90" width="17.20" height="13.20" fill="#f4967b"/>
<rect x="252.90" y="290.90" width="17.60" height="13.20" fill="#d3cae6"/>
<rect x="270.20" y="290.90" width="17.80" height="13.20" fill="#bfb2da"/>
<rect x="287.70" y="290.90" width="16.80" height="13.20" fill="#c2b7dc"/>
<rect x="304.20" y="290.90" width="17.10" height="13.20" fill="#baabd8"/>
<rect x="321.00" y="290.90" width="16.80" height="13.20" fill="#baabd8"/>
<text x="193.00" y="299.80" font-size="6.9" fill="#383838" text-anchor="start" textLength="22.00" lengthAdjust="spacingAndGlyphs">MS4A1</text>
<rect x="218.20" y="307.10" width="18.10" height="13.40" fill="#40208c"/>
<rect x="236.00" y="307.10" width="17.20" height="13.40" fill="#d8d0ec"/>
<rect x="252.90" y="307.10" width="17.60" height="13.40" fill="#fbe3d6"/>
<rect x="270.20" y="307.10" width="17.80" height="13.40" fill="#fdf3ef"/>
<rect x="287.70" y="307.10" width="16.80" height="13.40" fill="#fbd3c2"/>
<rect x="304.20" y="307.10" width="17.10" height="13.40" fill="#fde6dd"/>
<rect x="321.00" y="307.10" width="16.80" height="13.40" fill="#f6a487"/>
<text x="201.60" y="315.95" font-size="6.9" fill="#383838" text-anchor="start" textLength="13.40" lengthAdjust="spacingAndGlyphs">IRF4</text>
<rect x="218.20" y="320.20" width="18.10" height="13.30" fill="#40208c"/>
<rect x="236.00" y="320.20" width="17.20" height="13.30" fill="#9585c6"/>
<rect x="252.90" y="320.20" width="17.60" height="13.30" fill="#f7f5fa"/>
<rect x="270.20" y="320.20" width="17.80" height="13.30" fill="#fce8e0"/>
<rect x="287.70" y="320.20" width="16.80" height="13.30" fill="#fbd0bf"/>
<rect x="304.20" y="320.20" width="17.10" height="13.30" fill="#fcd8ca"/>
<rect x="321.00" y="320.20" width="16.80" height="13.30" fill="#f6a487"/>
<text x="191.30" y="329.00" font-size="6.9" fill="#383838" text-anchor="start" textLength="23.70" lengthAdjust="spacingAndGlyphs">PRDM1</text>
<rect x="218.20" y="333.20" width="18.10" height="12.60" fill="#8b79c0"/>
<rect x="236.00" y="333.20" width="17.20" height="12.60" fill="#8a77c0"/>
<rect x="252.90" y="333.20" width="17.60" height="12.60" fill="#b8aad8"/>
<rect x="270.20" y="333.20" width="17.80" height="12.60" fill="#fde7df"/>
<rect x="287.70" y="333.20" width="16.80" height="12.60" fill="#fbd6c5"/>
<rect x="304.20" y="333.20" width="17.10" height="12.60" fill="#f7ad91"/>
<rect x="321.00" y="333.20" width="16.80" height="12.60" fill="#f6a184"/>
<text x="199.00" y="341.80" font-size="6.9" fill="#383838" text-anchor="start" textLength="16.00" lengthAdjust="spacingAndGlyphs">XBP1</text>
<rect x="218.20" y="349.60" width="18.10" height="12.80" fill="#a08bc6"/>
<rect x="236.00" y="349.60" width="17.20" height="12.80" fill="#a08bc6"/>
<rect x="252.90" y="349.60" width="17.60" height="12.80" fill="#a08bc6"/>
<rect x="270.20" y="349.60" width="17.80" height="12.80" fill="#f8f7fb"/>
<rect x="287.70" y="349.60" width="16.80" height="12.80" fill="#fdf9f8"/>
<rect x="304.20" y="349.60" width="17.10" height="12.80" fill="#f07b5d"/>
<rect x="321.00" y="349.60" width="16.80" height="12.80" fill="#f49c81"/>
<text x="197.80" y="358.15" font-size="6.9" fill="#383838" text-anchor="start" textLength="17.20" lengthAdjust="spacingAndGlyphs">CD38</text>
<rect x="218.20" y="362.10" width="18.10" height="12.40" fill="#c5b6dd"/>
<rect x="236.00" y="362.10" width="17.20" height="12.40" fill="#c5b6dd"/>
<rect x="252.90" y="362.10" width="17.60" height="12.40" fill="#c5b6dd"/>
<rect x="270.20" y="362.10" width="17.80" height="12.40" fill="#c5b6dd"/>
<rect x="287.70" y="362.10" width="16.80" height="12.40" fill="#c5b6dd"/>
<rect x="304.20" y="362.10" width="17.10" height="12.40" fill="#e8432a"/>
<rect x="321.00" y="362.10" width="16.80" height="12.40" fill="#fac4ae"/>
<text x="198.40" y="370.60" font-size="6.9" fill="#383838" text-anchor="start" textLength="16.60" lengthAdjust="spacingAndGlyphs">SDC1</text>
<rect x="218.20" y="377.70" width="18.10" height="13.70" fill="#8a71bd"/>
<rect x="236.00" y="377.70" width="17.20" height="13.70" fill="#f07e5f"/>
<rect x="252.90" y="377.70" width="17.60" height="13.70" fill="#f5a185"/>
<rect x="270.20" y="377.70" width="17.80" height="13.70" fill="#fbd5c4"/>
<rect x="287.70" y="377.70" width="16.80" height="13.70" fill="#8f7ac2"/>
<rect x="304.20" y="377.70" width="17.10" height="13.70" fill="#fdfbfb"/>
<rect x="321.00" y="377.70" width="16.80" height="13.70" fill="#8a71bd"/>
<text x="196.10" y="386.70" font-size="6.9" fill="#383838" text-anchor="start" textLength="18.90" lengthAdjust="spacingAndGlyphs">PCNA</text>
<rect x="218.20" y="391.10" width="18.10" height="13.10" fill="#8a71bd"/>
<rect x="236.00" y="391.10" width="17.20" height="13.10" fill="#fefefe"/>
<rect x="252.90" y="391.10" width="17.60" height="13.10" fill="#fce7dd"/>
<rect x="270.20" y="391.10" width="17.80" height="13.10" fill="#f8bda5"/>
<rect x="287.70" y="391.10" width="16.80" height="13.10" fill="#a896cf"/>
<rect x="304.20" y="391.10" width="17.10" height="13.10" fill="#ed6747"/>
<rect x="321.00" y="391.10" width="16.80" height="13.10" fill="#8a71bd"/>
<text x="195.10" y="399.80" font-size="6.9" fill="#383838" text-anchor="start" textLength="19.90" lengthAdjust="spacingAndGlyphs">MKI67</text>
<rect x="218.20" y="403.90" width="18.10" height="13.30" fill="#8a71bd"/>
<rect x="236.00" y="403.90" width="17.20" height="13.30" fill="#fcdacb"/>
<rect x="252.90" y="403.90" width="17.60" height="13.30" fill="#f7b399"/>
<rect x="270.20" y="403.90" width="17.80" height="13.30" fill="#fbd8c8"/>
<rect x="287.70" y="403.90" width="16.80" height="13.30" fill="#8f7ac2"/>
<rect x="304.20" y="403.90" width="17.10" height="13.30" fill="#f39479"/>
<rect x="321.00" y="403.90" width="16.80" height="13.30" fill="#8a71bd"/>
<text x="197.60" y="412.70" font-size="6.9" fill="#383838" text-anchor="start" textLength="17.40" lengthAdjust="spacingAndGlyphs">CDK1</text>
<rect x="218.20" y="416.90" width="18.10" height="13.30" fill="#8a71bd"/>
<rect x="236.00" y="416.90" width="17.20" height="13.30" fill="#fbd5c3"/>
<rect x="252.90" y="416.90" width="17.60" height="13.30" fill="#f07c5e"/>
<rect x="270.20" y="416.90" width="17.80" height="13.30" fill="#f8bba4"/>
<rect x="287.70" y="416.90" width="16.80" height="13.30" fill="#ae9cd2"/>
<rect x="304.20" y="416.90" width="17.10" height="13.30" fill="#fefefe"/>
<rect x="321.00" y="416.90" width="16.80" height="13.30" fill="#8a71bd"/>
<text x="192.90" y="425.85" font-size="6.9" fill="#383838" text-anchor="start" textLength="22.10" lengthAdjust="spacingAndGlyphs">CDC20</text>
<rect x="218.60" y="229.8" width="15.20" height="3.5" fill="#a9d0a1"/>
<text x="226.70" y="227.10" font-size="6.6" fill="#333" text-anchor="middle">1</text>
<rect x="236.40" y="229.8" width="14.30" height="3.5" fill="#9cbe9d"/>
<text x="244.05" y="227.10" font-size="6.6" fill="#333" text-anchor="middle">2</text>
<rect x="253.30" y="229.8" width="14.70" height="3.5" fill="#3e7c88"/>
<text x="261.15" y="227.10" font-size="6.6" fill="#333" text-anchor="middle">3</text>
<rect x="270.60" y="229.8" width="14.90" height="3.5" fill="#1a282d"/>
<text x="278.55" y="227.10" font-size="6.6" fill="#333" text-anchor="middle">4</text>
<rect x="288.10" y="229.8" width="13.90" height="3.5" fill="#c0304f"/>
<text x="295.55" y="227.10" font-size="6.6" fill="#333" text-anchor="middle">5</text>
<rect x="304.60" y="229.8" width="14.20" height="3.5" fill="#8e6b77"/>
<text x="312.20" y="227.10" font-size="6.6" fill="#333" text-anchor="middle">6</text>
<rect x="321.40" y="229.8" width="14.20" height="3.5" fill="#e6ccd2"/>
<text x="329.00" y="227.10" font-size="6.6" fill="#333" text-anchor="middle">7</text>
<path d="M218.5 217.5 H234.5" stroke="#222" stroke-width="0.9"/>
<text x="226.50" y="213.00" font-size="6.8" fill="#333" text-anchor="middle">MBC</text>
<path d="M237 217.5 H268.8" stroke="#222" stroke-width="0.9"/>
<text x="252.90" y="213.00" font-size="6.8" fill="#333" text-anchor="middle">prePB</text>
<path d="M270.5 217.5 H302.5" stroke="#222" stroke-width="0.9"/>
<text x="286.50" y="213.00" font-size="6.8" fill="#333" text-anchor="middle">PB</text>
<path d="M305 217.5 H337" stroke="#222" stroke-width="0.9"/>
<text x="321.00" y="213.00" font-size="6.8" fill="#333" text-anchor="middle">PC</text>
<path d="M188.2 236.00 V274.30" stroke="#222" stroke-width="0.9"/>
<text x="163.30" y="257.55" font-size="6.9" fill="#383838" text-anchor="start" textLength="21.50" lengthAdjust="spacingAndGlyphs">BC TFs</text>
<path d="M188.2 277.80 V303.90" stroke="#222" stroke-width="0.9"/>
<text x="152.00" y="288.95" font-size="6.9" fill="#383838" text-anchor="start" textLength="32.80" lengthAdjust="spacingAndGlyphs">BC surface</text>
<text x="160.80" y="296.75" font-size="6.9" fill="#383838" text-anchor="start" textLength="24.00" lengthAdjust="spacingAndGlyphs">markers</text>
<path d="M188.2 307.30 V345.60" stroke="#222" stroke-width="0.9"/>
<text x="163.30" y="328.85" font-size="6.9" fill="#383838" text-anchor="start" textLength="21.50" lengthAdjust="spacingAndGlyphs">PC TFs</text>
<path d="M188.2 349.80 V374.30" stroke="#222" stroke-width="0.9"/>
<text x="151.90" y="360.15" font-size="6.9" fill="#383838" text-anchor="start" textLength="32.90" lengthAdjust="spacingAndGlyphs">PC surface</text>
<text x="160.80" y="367.95" font-size="6.9" fill="#383838" text-anchor="start" textLength="24.00" lengthAdjust="spacingAndGlyphs">markers</text>
<path d="M188.2 377.90 V430.00" stroke="#222" stroke-width="0.9"/>
<text x="156.10" y="402.05" font-size="6.9" fill="#383838" text-anchor="start" textLength="28.70" lengthAdjust="spacingAndGlyphs">Cell cycle</text>
<text x="160.80" y="409.85" font-size="6.9" fill="#383838" text-anchor="start" textLength="24.00" lengthAdjust="spacingAndGlyphs">markers</text>
<defs><linearGradient id="div" x1="0" y1="0" x2="0" y2="1"><stop offset="0" stop-color="#b8141e"/><stop offset="0.22" stop-color="#e8603c"/><stop offset="0.38" stop-color="#f7b9a0"/><stop offset="0.52" stop-color="#ffffff"/><stop offset="0.68" stop-color="#c6b8df"/><stop offset="0.85" stop-color="#7a62b3"/><stop offset="1" stop-color="#2e0f66"/></linearGradient></defs>
<rect x="342" y="397.8" width="6.8" height="32.1" fill="url(#div)"/>
<text x="352.00" y="404.00" font-size="6.3" fill="#333" text-anchor="start">2</text>
<text x="352.00" y="416.20" font-size="6.3" fill="#333" text-anchor="start">0</text>
<text x="351.90" y="429.20" font-size="6.3" fill="#333" text-anchor="start" textLength="7.00" lengthAdjust="spacingAndGlyphs">−2</text>
<rect x="0.5" y="0.5" width="519" height="437" fill="none" stroke="#4d4d4d" stroke-width="1"/></svg>
</body></html>
